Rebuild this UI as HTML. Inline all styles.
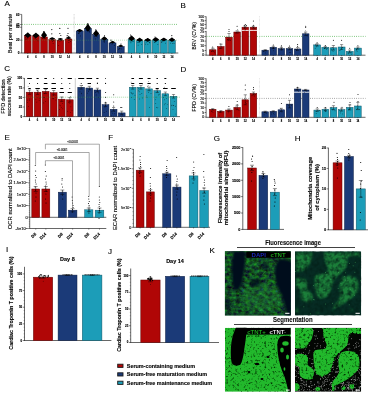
<!DOCTYPE html>
<html><head><meta charset="utf-8"><title>Figure</title>
<style>html,body{margin:0;padding:0;background:#fff}svg{display:block}text{font-family:"Liberation Sans",sans-serif;stroke:#000;stroke-width:.12px}</style>
</head><body>
<svg width="370" height="393" viewBox="0 0 370 393">
<rect width="370" height="393" fill="#fff"/>
<text x="4.4" y="6.3" font-size="8" text-anchor="start" font-weight="normal" fill="#000" >A</text>
<text x="12.2" y="33.6" font-size="5.6" text-anchor="middle" font-weight="normal" fill="#000" transform="rotate(-90 12.2 33.6)" >Beat per minute</text>
<line x1="21.7" y1="14.4" x2="21.7" y2="53.2" stroke="#000" stroke-width="0.6" />
<line x1="21.7" y1="53" x2="178.3" y2="53" stroke="#000" stroke-width="0.6" />
<line x1="20.1" y1="14.4" x2="21.7" y2="14.4" stroke="#000" stroke-width="0.5" />
<text x="19.5" y="15.5" font-size="3.1" text-anchor="end" font-weight="bold" fill="#000" >60</text>
<line x1="20.1" y1="24.5" x2="21.7" y2="24.5" stroke="#000" stroke-width="0.5" />
<text x="19.5" y="25.6" font-size="3.1" text-anchor="end" font-weight="bold" fill="#000" >45</text>
<line x1="20.1" y1="27.27" x2="21.7" y2="27.27" stroke="#000" stroke-width="0.5" />
<text x="19.5" y="28.37" font-size="3.1" text-anchor="end" font-weight="bold" fill="#000" >40</text>
<line x1="20.1" y1="40.13" x2="21.7" y2="40.13" stroke="#000" stroke-width="0.5" />
<text x="19.5" y="41.23" font-size="3.1" text-anchor="end" font-weight="bold" fill="#000" >20</text>
<line x1="20.1" y1="53" x2="21.7" y2="53" stroke="#000" stroke-width="0.5" />
<text x="19.5" y="54.1" font-size="3.1" text-anchor="end" font-weight="bold" fill="#000" >0</text>
<rect x="24.4" y="35.6" width="6.7" height="17.4" fill="#b00606" stroke="#5e0000" stroke-width="0.5"/>
<text x="27.75" y="57.6" font-size="2.6" text-anchor="middle" font-weight="bold" fill="#000" >4</text>
<line x1="27.75" y1="53" x2="27.75" y2="54" stroke="#000" stroke-width="0.4" />
<rect x="32.55" y="35.8" width="6.7" height="17.2" fill="#b00606" stroke="#5e0000" stroke-width="0.5"/>
<text x="35.9" y="57.6" font-size="2.6" text-anchor="middle" font-weight="bold" fill="#000" >6</text>
<line x1="35.9" y1="53" x2="35.9" y2="54" stroke="#000" stroke-width="0.4" />
<rect x="40.7" y="37" width="6.7" height="16" fill="#b00606" stroke="#5e0000" stroke-width="0.5"/>
<text x="44.05" y="57.6" font-size="2.6" text-anchor="middle" font-weight="bold" fill="#000" >8</text>
<line x1="44.05" y1="53" x2="44.05" y2="54" stroke="#000" stroke-width="0.4" />
<rect x="48.85" y="39.6" width="6.7" height="13.4" fill="#b00606" stroke="#5e0000" stroke-width="0.5"/>
<text x="52.2" y="57.6" font-size="2.6" text-anchor="middle" font-weight="bold" fill="#000" >10</text>
<line x1="52.2" y1="53" x2="52.2" y2="54" stroke="#000" stroke-width="0.4" />
<rect x="57" y="40.2" width="6.7" height="12.8" fill="#b00606" stroke="#5e0000" stroke-width="0.5"/>
<text x="60.35" y="57.6" font-size="2.6" text-anchor="middle" font-weight="bold" fill="#000" >12</text>
<line x1="60.35" y1="53" x2="60.35" y2="54" stroke="#000" stroke-width="0.4" />
<rect x="65.15" y="39" width="6.7" height="14" fill="#b00606" stroke="#5e0000" stroke-width="0.5"/>
<text x="68.5" y="57.6" font-size="2.6" text-anchor="middle" font-weight="bold" fill="#000" >14</text>
<line x1="68.5" y1="53" x2="68.5" y2="54" stroke="#000" stroke-width="0.4" />
<rect x="76.2" y="31" width="7" height="22" fill="#1b3a78" stroke="#0c1c40" stroke-width="0.5"/>
<text x="79.7" y="57.6" font-size="2.6" text-anchor="middle" font-weight="bold" fill="#000" >4</text>
<line x1="79.7" y1="53" x2="79.7" y2="54" stroke="#000" stroke-width="0.4" />
<rect x="84.4" y="28.5" width="7" height="24.5" fill="#1b3a78" stroke="#0c1c40" stroke-width="0.5"/>
<text x="87.9" y="57.6" font-size="2.6" text-anchor="middle" font-weight="bold" fill="#000" >6</text>
<line x1="87.9" y1="53" x2="87.9" y2="54" stroke="#000" stroke-width="0.4" />
<rect x="92.6" y="34.6" width="7" height="18.4" fill="#1b3a78" stroke="#0c1c40" stroke-width="0.5"/>
<text x="96.1" y="57.6" font-size="2.6" text-anchor="middle" font-weight="bold" fill="#000" >8</text>
<line x1="96.1" y1="53" x2="96.1" y2="54" stroke="#000" stroke-width="0.4" />
<rect x="100.8" y="39.2" width="7" height="13.8" fill="#1b3a78" stroke="#0c1c40" stroke-width="0.5"/>
<text x="104.3" y="57.6" font-size="2.6" text-anchor="middle" font-weight="bold" fill="#000" >10</text>
<line x1="104.3" y1="53" x2="104.3" y2="54" stroke="#000" stroke-width="0.4" />
<rect x="109" y="42.9" width="7" height="10.1" fill="#1b3a78" stroke="#0c1c40" stroke-width="0.5"/>
<text x="112.5" y="57.6" font-size="2.6" text-anchor="middle" font-weight="bold" fill="#000" >12</text>
<line x1="112.5" y1="53" x2="112.5" y2="54" stroke="#000" stroke-width="0.4" />
<rect x="117.2" y="46.5" width="7" height="6.5" fill="#1b3a78" stroke="#0c1c40" stroke-width="0.5"/>
<text x="120.7" y="57.6" font-size="2.6" text-anchor="middle" font-weight="bold" fill="#000" >14</text>
<line x1="120.7" y1="53" x2="120.7" y2="54" stroke="#000" stroke-width="0.4" />
<rect x="128.1" y="39.4" width="6.9" height="13.6" fill="#1c9db8" stroke="#0e5566" stroke-width="0.5"/>
<text x="131.55" y="57.6" font-size="2.6" text-anchor="middle" font-weight="bold" fill="#000" >4</text>
<line x1="131.55" y1="53" x2="131.55" y2="54" stroke="#000" stroke-width="0.4" />
<rect x="136.17" y="40.8" width="6.9" height="12.2" fill="#1c9db8" stroke="#0e5566" stroke-width="0.5"/>
<text x="139.62" y="57.6" font-size="2.6" text-anchor="middle" font-weight="bold" fill="#000" >6</text>
<line x1="139.62" y1="53" x2="139.62" y2="54" stroke="#000" stroke-width="0.4" />
<rect x="144.24" y="40.5" width="6.9" height="12.5" fill="#1c9db8" stroke="#0e5566" stroke-width="0.5"/>
<text x="147.69" y="57.6" font-size="2.6" text-anchor="middle" font-weight="bold" fill="#000" >8</text>
<line x1="147.69" y1="53" x2="147.69" y2="54" stroke="#000" stroke-width="0.4" />
<rect x="152.31" y="40" width="6.9" height="13" fill="#1c9db8" stroke="#0e5566" stroke-width="0.5"/>
<text x="155.76" y="57.6" font-size="2.6" text-anchor="middle" font-weight="bold" fill="#000" >10</text>
<line x1="155.76" y1="53" x2="155.76" y2="54" stroke="#000" stroke-width="0.4" />
<rect x="160.38" y="40" width="6.9" height="13" fill="#1c9db8" stroke="#0e5566" stroke-width="0.5"/>
<text x="163.83" y="57.6" font-size="2.6" text-anchor="middle" font-weight="bold" fill="#000" >12</text>
<line x1="163.83" y1="53" x2="163.83" y2="54" stroke="#000" stroke-width="0.4" />
<rect x="168.45" y="40.5" width="6.9" height="12.5" fill="#1c9db8" stroke="#0e5566" stroke-width="0.5"/>
<text x="171.9" y="57.6" font-size="2.6" text-anchor="middle" font-weight="bold" fill="#000" >14</text>
<line x1="171.9" y1="53" x2="171.9" y2="54" stroke="#000" stroke-width="0.4" />
<line x1="22.2" y1="24.4" x2="178.3" y2="24.4" stroke="#3caa3c" stroke-width="0.8" stroke-dasharray="0.8 1.4"/>
<line x1="22.2" y1="40.2" x2="178.3" y2="40.2" stroke="#3caa3c" stroke-width="0.6" stroke-dasharray="0.7 1.3" opacity="0.75"/>
<line x1="74.1" y1="14.4" x2="74.1" y2="53" stroke="#999" stroke-width="0.6" stroke-dasharray="0.6 0.7"/>
<path d="M24.65 35.3 L27.45 32.5 L28.05 32.5 L30.85 35.3 L28.15 37.68 L27.35 37.68Z" fill="#000"/>
<ellipse cx="27.75" cy="35.3" rx="3.1" ry="1.18" fill="#000"/>
<circle cx="26.97" cy="39.07" r="0.4" fill="#000"/>
<circle cx="25.87" cy="39.57" r="0.4" fill="#000"/>
<circle cx="27.91" cy="37.46" r="0.4" fill="#000"/>
<circle cx="27.78" cy="38.19" r="0.4" fill="#000"/>
<circle cx="25.71" cy="37.28" r="0.4" fill="#000"/>
<circle cx="25.95" cy="38.03" r="0.4" fill="#000"/>
<path d="M32.8 35.5 L35.6 32.7 L36.2 32.7 L39 35.5 L36.3 37.88 L35.5 37.88Z" fill="#000"/>
<ellipse cx="35.9" cy="35.5" rx="3.1" ry="1.18" fill="#000"/>
<circle cx="35.57" cy="38.36" r="0.4" fill="#000"/>
<circle cx="34.68" cy="37.32" r="0.4" fill="#000"/>
<circle cx="36.46" cy="39.86" r="0.4" fill="#000"/>
<circle cx="35.45" cy="37.36" r="0.4" fill="#000"/>
<circle cx="38" cy="40.84" r="0.4" fill="#000"/>
<circle cx="34.97" cy="38.86" r="0.4" fill="#000"/>
<path d="M41.35 35.2 L43.75 31.2 L44.35 31.2 L46.75 35.2 L44.45 38.6 L43.65 38.6Z" fill="#000"/>
<ellipse cx="44.05" cy="35.2" rx="2.7" ry="1.68" fill="#000"/>
<circle cx="42.48" cy="38.65" r="0.4" fill="#000"/>
<circle cx="45.44" cy="38.57" r="0.4" fill="#000"/>
<circle cx="42.65" cy="35.83" r="0.4" fill="#000"/>
<circle cx="43.49" cy="36.65" r="0.4" fill="#000"/>
<circle cx="44.26" cy="38.19" r="0.4" fill="#000"/>
<circle cx="42.76" cy="37.9" r="0.4" fill="#000"/>
<path d="M49.4 38.6 L51.9 37.3 L52.5 37.3 L55 38.6 L52.6 39.7 L51.8 39.7Z" fill="#000"/>
<ellipse cx="52.2" cy="38.6" rx="2.8" ry="0.55" fill="#000"/>
<circle cx="52.99" cy="39.93" r="0.4" fill="#000"/>
<circle cx="52.58" cy="41.67" r="0.4" fill="#000"/>
<circle cx="51.99" cy="40.28" r="0.4" fill="#000"/>
<circle cx="53.08" cy="43.64" r="0.4" fill="#000"/>
<circle cx="51.07" cy="39.47" r="0.4" fill="#000"/>
<circle cx="53.85" cy="40.27" r="0.4" fill="#000"/>
<path d="M57.75 39 L60.05 37.9 L60.65 37.9 L62.95 39 L60.75 39.94 L59.95 39.94Z" fill="#000"/>
<ellipse cx="60.35" cy="39" rx="2.6" ry="0.5" fill="#000"/>
<circle cx="61.36" cy="40.51" r="0.4" fill="#000"/>
<circle cx="58.67" cy="45.58" r="0.4" fill="#000"/>
<circle cx="59.99" cy="41.54" r="0.4" fill="#000"/>
<circle cx="60.3" cy="40.64" r="0.4" fill="#000"/>
<circle cx="58.32" cy="40.25" r="0.4" fill="#000"/>
<circle cx="60.67" cy="39.28" r="0.4" fill="#000"/>
<path d="M65.9 38 L68.2 36.8 L68.8 36.8 L71.1 38 L68.9 39.02 L68.1 39.02Z" fill="#000"/>
<ellipse cx="68.5" cy="38" rx="2.6" ry="0.5" fill="#000"/>
<circle cx="70.15" cy="39.6" r="0.4" fill="#000"/>
<circle cx="68.92" cy="42.63" r="0.4" fill="#000"/>
<circle cx="68.85" cy="37.74" r="0.4" fill="#000"/>
<circle cx="70.46" cy="41.28" r="0.4" fill="#000"/>
<circle cx="68.39" cy="40.23" r="0.4" fill="#000"/>
<circle cx="69.39" cy="40.04" r="0.4" fill="#000"/>
<circle cx="51.8" cy="29.6" r="0.58" fill="#000"/>
<circle cx="51.8" cy="33.8" r="0.58" fill="#000"/>
<circle cx="59.8" cy="28.4" r="0.58" fill="#000"/>
<circle cx="59.8" cy="33.5" r="0.58" fill="#000"/>
<circle cx="60.8" cy="35.5" r="0.58" fill="#000"/>
<circle cx="68" cy="28.3" r="0.58" fill="#000"/>
<circle cx="68" cy="33.5" r="0.58" fill="#000"/>
<circle cx="67.2" cy="35.7" r="0.58" fill="#000"/>
<circle cx="68.8" cy="36.4" r="0.58" fill="#000"/>
<circle cx="43.8" cy="31.5" r="0.58" fill="#000"/>
<path d="M76.7 30.6 L79.4 29 L80 29 L82.7 30.6 L80.1 31.96 L79.3 31.96Z" fill="#000"/>
<ellipse cx="79.7" cy="30.6" rx="3" ry="0.67" fill="#000"/>
<circle cx="80.35" cy="35.88" r="0.4" fill="#000"/>
<circle cx="78.75" cy="32.98" r="0.4" fill="#000"/>
<circle cx="79.2" cy="32.94" r="0.4" fill="#000"/>
<circle cx="79.53" cy="32.82" r="0.4" fill="#000"/>
<circle cx="78.24" cy="33.49" r="0.4" fill="#000"/>
<path d="M85.1 28 L87.6 23.8 L88.2 23.8 L90.7 28 L88.3 31.57 L87.5 31.57Z" fill="#000"/>
<ellipse cx="87.9" cy="28" rx="2.8" ry="1.76" fill="#000"/>
<circle cx="89.08" cy="30.85" r="0.4" fill="#000"/>
<circle cx="86.27" cy="30.52" r="0.4" fill="#000"/>
<circle cx="89.53" cy="31.99" r="0.4" fill="#000"/>
<circle cx="86.05" cy="28.7" r="0.4" fill="#000"/>
<circle cx="89.59" cy="31.09" r="0.4" fill="#000"/>
<path d="M93.3 33.6 L95.8 30 L96.4 30 L98.9 33.6 L96.5 36.66 L95.7 36.66Z" fill="#000"/>
<ellipse cx="96.1" cy="33.6" rx="2.8" ry="1.51" fill="#000"/>
<circle cx="97.5" cy="36.9" r="0.4" fill="#000"/>
<circle cx="95.73" cy="35.19" r="0.4" fill="#000"/>
<circle cx="95.48" cy="38.92" r="0.4" fill="#000"/>
<circle cx="94.56" cy="33.59" r="0.4" fill="#000"/>
<circle cx="94.68" cy="36.22" r="0.4" fill="#000"/>
<path d="M101.5 38.6 L104 36.4 L104.6 36.4 L107.1 38.6 L104.7 40.47 L103.9 40.47Z" fill="#000"/>
<ellipse cx="104.3" cy="38.6" rx="2.8" ry="0.92" fill="#000"/>
<circle cx="104.23" cy="42.19" r="0.4" fill="#000"/>
<circle cx="104.69" cy="41.09" r="0.4" fill="#000"/>
<circle cx="103.94" cy="41.24" r="0.4" fill="#000"/>
<circle cx="103.72" cy="37.71" r="0.4" fill="#000"/>
<circle cx="105.14" cy="39.6" r="0.4" fill="#000"/>
<path d="M109.9 42.2 L112.2 40.9 L112.8 40.9 L115.1 42.2 L112.9 43.3 L112.1 43.3Z" fill="#000"/>
<ellipse cx="112.5" cy="42.2" rx="2.6" ry="0.55" fill="#000"/>
<circle cx="112.57" cy="43.03" r="0.4" fill="#000"/>
<circle cx="110.54" cy="43.18" r="0.4" fill="#000"/>
<circle cx="114.26" cy="45.27" r="0.4" fill="#000"/>
<circle cx="113.81" cy="41.7" r="0.4" fill="#000"/>
<circle cx="112.03" cy="44.14" r="0.4" fill="#000"/>
<path d="M118.3 46 L120.4 44.8 L121 44.8 L123.1 46 L121.1 47.02 L120.3 47.02Z" fill="#000"/>
<ellipse cx="120.7" cy="46" rx="2.4" ry="0.5" fill="#000"/>
<circle cx="121.29" cy="48.92" r="0.4" fill="#000"/>
<circle cx="118.77" cy="49.44" r="0.4" fill="#000"/>
<circle cx="119.21" cy="48.92" r="0.4" fill="#000"/>
<circle cx="120" cy="48.53" r="0.4" fill="#000"/>
<circle cx="119.17" cy="48.51" r="0.4" fill="#000"/>
<circle cx="87.8" cy="23.5" r="0.58" fill="#000"/>
<circle cx="87.8" cy="25.6" r="0.58" fill="#000"/>
<circle cx="95.8" cy="29.8" r="0.58" fill="#000"/>
<circle cx="104.5" cy="35.8" r="0.58" fill="#000"/>
<circle cx="111" cy="40.2" r="0.58" fill="#000"/>
<circle cx="121" cy="44" r="0.58" fill="#000"/>
<path d="M128.45 38.4 L131.25 35.4 L131.85 35.4 L134.65 38.4 L131.95 40.95 L131.15 40.95Z" fill="#000"/>
<ellipse cx="131.55" cy="38.4" rx="3.1" ry="1.26" fill="#000"/>
<circle cx="129.8" cy="40.81" r="0.4" fill="#000"/>
<circle cx="133.2" cy="41.22" r="0.4" fill="#000"/>
<circle cx="132.05" cy="41.59" r="0.4" fill="#000"/>
<circle cx="130.88" cy="41.8" r="0.4" fill="#000"/>
<circle cx="130.95" cy="42.81" r="0.4" fill="#000"/>
<path d="M136.52 40 L139.32 37.8 L139.92 37.8 L142.72 40 L140.02 41.87 L139.22 41.87Z" fill="#000"/>
<ellipse cx="139.62" cy="40" rx="3.1" ry="0.92" fill="#000"/>
<circle cx="141.79" cy="44.36" r="0.4" fill="#000"/>
<circle cx="139.47" cy="42.05" r="0.4" fill="#000"/>
<circle cx="137.87" cy="42.66" r="0.4" fill="#000"/>
<circle cx="138.93" cy="42.37" r="0.4" fill="#000"/>
<circle cx="138.13" cy="45.03" r="0.4" fill="#000"/>
<path d="M144.69 40 L147.39 37.9 L147.99 37.9 L150.69 40 L148.09 41.78 L147.29 41.78Z" fill="#000"/>
<ellipse cx="147.69" cy="40" rx="3" ry="0.88" fill="#000"/>
<circle cx="145.59" cy="44.12" r="0.4" fill="#000"/>
<circle cx="146.14" cy="42.12" r="0.4" fill="#000"/>
<circle cx="147.88" cy="44.17" r="0.4" fill="#000"/>
<circle cx="149.8" cy="42.87" r="0.4" fill="#000"/>
<circle cx="149.29" cy="42.26" r="0.4" fill="#000"/>
<path d="M152.66 39.6 L155.46 37.2 L156.06 37.2 L158.86 39.6 L156.16 41.64 L155.36 41.64Z" fill="#000"/>
<ellipse cx="155.76" cy="39.6" rx="3.1" ry="1.01" fill="#000"/>
<circle cx="155.17" cy="41.25" r="0.4" fill="#000"/>
<circle cx="154.29" cy="42.42" r="0.4" fill="#000"/>
<circle cx="156.99" cy="40.61" r="0.4" fill="#000"/>
<circle cx="155.01" cy="42.6" r="0.4" fill="#000"/>
<circle cx="157.89" cy="44.54" r="0.4" fill="#000"/>
<path d="M160.83 39.6 L163.53 37.8 L164.13 37.8 L166.83 39.6 L164.23 41.13 L163.43 41.13Z" fill="#000"/>
<ellipse cx="163.83" cy="39.6" rx="3" ry="0.76" fill="#000"/>
<circle cx="165.38" cy="43.03" r="0.4" fill="#000"/>
<circle cx="164.89" cy="39.95" r="0.4" fill="#000"/>
<circle cx="162.63" cy="40.99" r="0.4" fill="#000"/>
<circle cx="161.76" cy="42.07" r="0.4" fill="#000"/>
<circle cx="161.75" cy="42.01" r="0.4" fill="#000"/>
<path d="M168.9 39.8 L171.6 37.6 L172.2 37.6 L174.9 39.8 L172.3 41.67 L171.5 41.67Z" fill="#000"/>
<ellipse cx="171.9" cy="39.8" rx="3" ry="0.92" fill="#000"/>
<circle cx="172.75" cy="43.39" r="0.4" fill="#000"/>
<circle cx="173.91" cy="39.51" r="0.4" fill="#000"/>
<circle cx="174.05" cy="43.4" r="0.4" fill="#000"/>
<circle cx="173.9" cy="41.79" r="0.4" fill="#000"/>
<circle cx="170.7" cy="43.09" r="0.4" fill="#000"/>
<circle cx="171.8" cy="35.6" r="0.58" fill="#000"/>
<circle cx="130.5" cy="35" r="0.58" fill="#000"/>
<circle cx="155" cy="37" r="0.58" fill="#000"/>
<text x="180.6" y="7.6" font-size="8" text-anchor="start" font-weight="normal" fill="#000" >B</text>
<text x="195.8" y="35.8" font-size="5.3" text-anchor="middle" font-weight="normal" fill="#000" transform="rotate(-90 195.8 35.8)" >BRV (CV%)</text>
<line x1="206.1" y1="16.4" x2="206.1" y2="29.2" stroke="#000" stroke-width="0.6" />
<line x1="206.1" y1="30.9" x2="206.1" y2="55.4" stroke="#000" stroke-width="0.6" />
<line x1="206.1" y1="55.2" x2="365.5" y2="55.2" stroke="#000" stroke-width="0.6" />
<line x1="204.6" y1="16.7" x2="206.1" y2="16.7" stroke="#000" stroke-width="0.5" />
<text x="204.1" y="17.9" font-size="3.5" text-anchor="end" font-weight="normal" fill="#000" >100</text>
<line x1="204.6" y1="20.6" x2="206.1" y2="20.6" stroke="#000" stroke-width="0.5" />
<text x="204.1" y="21.8" font-size="3.5" text-anchor="end" font-weight="normal" fill="#000" >75</text>
<line x1="204.6" y1="24.5" x2="206.1" y2="24.5" stroke="#000" stroke-width="0.5" />
<text x="204.1" y="25.7" font-size="3.5" text-anchor="end" font-weight="normal" fill="#000" >50</text>
<line x1="204.6" y1="28.3" x2="206.1" y2="28.3" stroke="#000" stroke-width="0.5" />
<text x="204.1" y="29.5" font-size="3.5" text-anchor="end" font-weight="normal" fill="#000" >25</text>
<line x1="204.6" y1="31.6" x2="206.1" y2="31.6" stroke="#000" stroke-width="0.5" />
<text x="204.1" y="32.8" font-size="3.5" text-anchor="end" font-weight="normal" fill="#000" >25</text>
<line x1="204.6" y1="36.5" x2="206.1" y2="36.5" stroke="#000" stroke-width="0.5" />
<text x="204.1" y="37.7" font-size="3.5" text-anchor="end" font-weight="normal" fill="#000" >20</text>
<line x1="204.6" y1="41.1" x2="206.1" y2="41.1" stroke="#000" stroke-width="0.5" />
<text x="204.1" y="42.3" font-size="3.5" text-anchor="end" font-weight="normal" fill="#000" >15</text>
<line x1="204.6" y1="45.7" x2="206.1" y2="45.7" stroke="#000" stroke-width="0.5" />
<text x="204.1" y="46.9" font-size="3.5" text-anchor="end" font-weight="normal" fill="#000" >10</text>
<line x1="204.6" y1="50.5" x2="206.1" y2="50.5" stroke="#000" stroke-width="0.5" />
<text x="204.1" y="51.7" font-size="3.5" text-anchor="end" font-weight="normal" fill="#000" >5</text>
<line x1="204.6" y1="55.1" x2="206.1" y2="55.1" stroke="#000" stroke-width="0.5" />
<text x="204.1" y="56.3" font-size="3.5" text-anchor="end" font-weight="normal" fill="#000" >0</text>
<line x1="206.6" y1="36.4" x2="365.5" y2="36.4" stroke="#3caa3c" stroke-width="0.8" stroke-dasharray="0.8 1.4"/>
<rect x="209.4" y="49.8" width="6.6" height="5.4" fill="#b00606" stroke="#5e0000" stroke-width="0.5"/>
<text x="212.7" y="59.9" font-size="2.6" text-anchor="middle" font-weight="bold" fill="#000" >4</text>
<line x1="212.7" y1="55.2" x2="212.7" y2="56.2" stroke="#000" stroke-width="0.4" />
<rect x="217.55" y="46.5" width="6.6" height="8.7" fill="#b00606" stroke="#5e0000" stroke-width="0.5"/>
<text x="220.85" y="59.9" font-size="2.6" text-anchor="middle" font-weight="bold" fill="#000" >6</text>
<line x1="220.85" y1="55.2" x2="220.85" y2="56.2" stroke="#000" stroke-width="0.4" />
<rect x="225.7" y="37.2" width="6.6" height="18" fill="#b00606" stroke="#5e0000" stroke-width="0.5"/>
<text x="229" y="59.9" font-size="2.6" text-anchor="middle" font-weight="bold" fill="#000" >8</text>
<line x1="229" y1="55.2" x2="229" y2="56.2" stroke="#000" stroke-width="0.4" />
<rect x="233.85" y="32" width="6.6" height="23.2" fill="#b00606" stroke="#5e0000" stroke-width="0.5"/>
<text x="237.15" y="59.9" font-size="2.6" text-anchor="middle" font-weight="bold" fill="#000" >10</text>
<line x1="237.15" y1="55.2" x2="237.15" y2="56.2" stroke="#000" stroke-width="0.4" />
<rect x="242" y="27.2" width="6.6" height="28" fill="#b00606" stroke="#5e0000" stroke-width="0.5"/>
<text x="245.3" y="59.9" font-size="2.6" text-anchor="middle" font-weight="bold" fill="#000" >12</text>
<line x1="245.3" y1="55.2" x2="245.3" y2="56.2" stroke="#000" stroke-width="0.4" />
<rect x="250.15" y="27.2" width="6.6" height="28" fill="#b00606" stroke="#5e0000" stroke-width="0.5"/>
<text x="253.45" y="59.9" font-size="2.6" text-anchor="middle" font-weight="bold" fill="#000" >14</text>
<line x1="253.45" y1="55.2" x2="253.45" y2="56.2" stroke="#000" stroke-width="0.4" />
<rect x="261.9" y="50.2" width="6.6" height="5" fill="#1b3a78" stroke="#0c1c40" stroke-width="0.5"/>
<text x="265.2" y="59.9" font-size="2.6" text-anchor="middle" font-weight="bold" fill="#000" >4</text>
<line x1="265.2" y1="55.2" x2="265.2" y2="56.2" stroke="#000" stroke-width="0.4" />
<rect x="270" y="47.3" width="6.6" height="7.9" fill="#1b3a78" stroke="#0c1c40" stroke-width="0.5"/>
<text x="273.3" y="59.9" font-size="2.6" text-anchor="middle" font-weight="bold" fill="#000" >6</text>
<line x1="273.3" y1="55.2" x2="273.3" y2="56.2" stroke="#000" stroke-width="0.4" />
<rect x="278.1" y="48.6" width="6.6" height="6.6" fill="#1b3a78" stroke="#0c1c40" stroke-width="0.5"/>
<text x="281.4" y="59.9" font-size="2.6" text-anchor="middle" font-weight="bold" fill="#000" >8</text>
<line x1="281.4" y1="55.2" x2="281.4" y2="56.2" stroke="#000" stroke-width="0.4" />
<rect x="286.2" y="48.6" width="6.6" height="6.6" fill="#1b3a78" stroke="#0c1c40" stroke-width="0.5"/>
<text x="289.5" y="59.9" font-size="2.6" text-anchor="middle" font-weight="bold" fill="#000" >10</text>
<line x1="289.5" y1="55.2" x2="289.5" y2="56.2" stroke="#000" stroke-width="0.4" />
<rect x="294.3" y="49" width="6.6" height="6.2" fill="#1b3a78" stroke="#0c1c40" stroke-width="0.5"/>
<text x="297.6" y="59.9" font-size="2.6" text-anchor="middle" font-weight="bold" fill="#000" >12</text>
<line x1="297.6" y1="55.2" x2="297.6" y2="56.2" stroke="#000" stroke-width="0.4" />
<rect x="302.4" y="33.8" width="6.6" height="21.4" fill="#1b3a78" stroke="#0c1c40" stroke-width="0.5"/>
<text x="305.7" y="59.9" font-size="2.6" text-anchor="middle" font-weight="bold" fill="#000" >14</text>
<line x1="305.7" y1="55.2" x2="305.7" y2="56.2" stroke="#000" stroke-width="0.4" />
<rect x="313.7" y="44.9" width="6.9" height="10.3" fill="#1c9db8" stroke="#0e5566" stroke-width="0.5"/>
<text x="317.15" y="59.9" font-size="2.6" text-anchor="middle" font-weight="bold" fill="#000" >4</text>
<line x1="317.15" y1="55.2" x2="317.15" y2="56.2" stroke="#000" stroke-width="0.4" />
<rect x="321.85" y="47.3" width="6.9" height="7.9" fill="#1c9db8" stroke="#0e5566" stroke-width="0.5"/>
<text x="325.3" y="59.9" font-size="2.6" text-anchor="middle" font-weight="bold" fill="#000" >6</text>
<line x1="325.3" y1="55.2" x2="325.3" y2="56.2" stroke="#000" stroke-width="0.4" />
<rect x="330" y="47.8" width="6.9" height="7.4" fill="#1c9db8" stroke="#0e5566" stroke-width="0.5"/>
<text x="333.45" y="59.9" font-size="2.6" text-anchor="middle" font-weight="bold" fill="#000" >8</text>
<line x1="333.45" y1="55.2" x2="333.45" y2="56.2" stroke="#000" stroke-width="0.4" />
<rect x="338.15" y="47" width="6.9" height="8.2" fill="#1c9db8" stroke="#0e5566" stroke-width="0.5"/>
<text x="341.6" y="59.9" font-size="2.6" text-anchor="middle" font-weight="bold" fill="#000" >10</text>
<line x1="341.6" y1="55.2" x2="341.6" y2="56.2" stroke="#000" stroke-width="0.4" />
<rect x="346.3" y="51.4" width="6.9" height="3.8" fill="#1c9db8" stroke="#0e5566" stroke-width="0.5"/>
<text x="349.75" y="59.9" font-size="2.6" text-anchor="middle" font-weight="bold" fill="#000" >12</text>
<line x1="349.75" y1="55.2" x2="349.75" y2="56.2" stroke="#000" stroke-width="0.4" />
<rect x="354.45" y="48.1" width="6.9" height="7.1" fill="#1c9db8" stroke="#0e5566" stroke-width="0.5"/>
<text x="357.9" y="59.9" font-size="2.6" text-anchor="middle" font-weight="bold" fill="#000" >14</text>
<line x1="357.9" y1="55.2" x2="357.9" y2="56.2" stroke="#000" stroke-width="0.4" />
<line x1="259.5" y1="16.4" x2="259.5" y2="55.2" stroke="#bbb" stroke-width="0.5" stroke-dasharray="0.6 0.7"/>
<line x1="241.6" y1="30.4" x2="248.8" y2="30.4" stroke="#fff" stroke-width="0.9" />
<line x1="249.8" y1="30.4" x2="257" y2="30.4" stroke="#fff" stroke-width="0.9" />
<line x1="212.7" y1="48.2" x2="212.7" y2="51.2" stroke="#000" stroke-width="0.4" />
<line x1="211.1" y1="48.2" x2="214.3" y2="48.2" stroke="#000" stroke-width="0.4" />
<line x1="211.1" y1="51.2" x2="214.3" y2="51.2" stroke="#000" stroke-width="0.4" />
<circle cx="211.49" cy="51.45" r="0.38" fill="#000"/>
<circle cx="214.3" cy="52.78" r="0.38" fill="#000"/>
<circle cx="214.06" cy="48.88" r="0.38" fill="#000"/>
<circle cx="213.9" cy="51.16" r="0.38" fill="#000"/>
<circle cx="211.04" cy="49.26" r="0.38" fill="#000"/>
<line x1="220.8" y1="44" x2="220.8" y2="48.5" stroke="#000" stroke-width="0.4" />
<line x1="219.2" y1="44" x2="222.4" y2="44" stroke="#000" stroke-width="0.4" />
<line x1="219.2" y1="48.5" x2="222.4" y2="48.5" stroke="#000" stroke-width="0.4" />
<circle cx="221.93" cy="44.85" r="0.38" fill="#000"/>
<circle cx="221.8" cy="46.58" r="0.38" fill="#000"/>
<circle cx="221.96" cy="47.57" r="0.38" fill="#000"/>
<circle cx="220.13" cy="48.62" r="0.38" fill="#000"/>
<circle cx="220.38" cy="43.9" r="0.38" fill="#000"/>
<line x1="229" y1="33.5" x2="229" y2="40" stroke="#000" stroke-width="0.4" />
<line x1="227.4" y1="33.5" x2="230.6" y2="33.5" stroke="#000" stroke-width="0.4" />
<line x1="227.4" y1="40" x2="230.6" y2="40" stroke="#000" stroke-width="0.4" />
<circle cx="228.61" cy="40.07" r="0.38" fill="#000"/>
<circle cx="227.68" cy="37.21" r="0.38" fill="#000"/>
<circle cx="227.51" cy="39.72" r="0.38" fill="#000"/>
<circle cx="230.23" cy="40.42" r="0.38" fill="#000"/>
<circle cx="227.58" cy="39.76" r="0.38" fill="#000"/>
<line x1="237.1" y1="30.8" x2="237.1" y2="33.2" stroke="#000" stroke-width="0.4" />
<line x1="235.5" y1="30.8" x2="238.7" y2="30.8" stroke="#000" stroke-width="0.4" />
<line x1="235.5" y1="33.2" x2="238.7" y2="33.2" stroke="#000" stroke-width="0.4" />
<circle cx="237.73" cy="29.72" r="0.38" fill="#000"/>
<circle cx="236.5" cy="32.49" r="0.38" fill="#000"/>
<circle cx="235.16" cy="32.98" r="0.38" fill="#000"/>
<circle cx="238.98" cy="32.19" r="0.38" fill="#000"/>
<circle cx="238.83" cy="31.82" r="0.38" fill="#000"/>
<line x1="245.3" y1="26.2" x2="245.3" y2="28.2" stroke="#000" stroke-width="0.4" />
<line x1="243.7" y1="26.2" x2="246.9" y2="26.2" stroke="#000" stroke-width="0.4" />
<line x1="243.7" y1="28.2" x2="246.9" y2="28.2" stroke="#000" stroke-width="0.4" />
<circle cx="245.04" cy="30.21" r="0.38" fill="#000"/>
<circle cx="244.14" cy="26.51" r="0.38" fill="#000"/>
<circle cx="244.31" cy="28.12" r="0.38" fill="#000"/>
<circle cx="245.65" cy="29.4" r="0.38" fill="#000"/>
<circle cx="244.34" cy="27.75" r="0.38" fill="#000"/>
<line x1="253.4" y1="26.2" x2="253.4" y2="28.2" stroke="#000" stroke-width="0.4" />
<line x1="251.8" y1="26.2" x2="255" y2="26.2" stroke="#000" stroke-width="0.4" />
<line x1="251.8" y1="28.2" x2="255" y2="28.2" stroke="#000" stroke-width="0.4" />
<circle cx="255.04" cy="28.76" r="0.38" fill="#000"/>
<circle cx="252.82" cy="26.61" r="0.38" fill="#000"/>
<circle cx="255.02" cy="28.88" r="0.38" fill="#000"/>
<circle cx="253.08" cy="29.84" r="0.38" fill="#000"/>
<circle cx="253.53" cy="27.58" r="0.38" fill="#000"/>
<line x1="265.2" y1="49.6" x2="265.2" y2="50.8" stroke="#000" stroke-width="0.4" />
<line x1="263.6" y1="49.6" x2="266.8" y2="49.6" stroke="#000" stroke-width="0.4" />
<line x1="263.6" y1="50.8" x2="266.8" y2="50.8" stroke="#000" stroke-width="0.4" />
<circle cx="265.29" cy="52.9" r="0.38" fill="#000"/>
<circle cx="263.93" cy="51.58" r="0.38" fill="#000"/>
<circle cx="263.22" cy="51.66" r="0.38" fill="#000"/>
<circle cx="265.09" cy="50.58" r="0.38" fill="#000"/>
<circle cx="266.1" cy="50.23" r="0.38" fill="#000"/>
<line x1="273.3" y1="46.3" x2="273.3" y2="48.3" stroke="#000" stroke-width="0.4" />
<line x1="271.7" y1="46.3" x2="274.9" y2="46.3" stroke="#000" stroke-width="0.4" />
<line x1="271.7" y1="48.3" x2="274.9" y2="48.3" stroke="#000" stroke-width="0.4" />
<circle cx="273.37" cy="48.07" r="0.38" fill="#000"/>
<circle cx="273.52" cy="48.64" r="0.38" fill="#000"/>
<circle cx="273.54" cy="47.85" r="0.38" fill="#000"/>
<circle cx="272.29" cy="48.09" r="0.38" fill="#000"/>
<circle cx="273.33" cy="50.87" r="0.38" fill="#000"/>
<line x1="281.4" y1="47.4" x2="281.4" y2="49.8" stroke="#000" stroke-width="0.4" />
<line x1="279.8" y1="47.4" x2="283" y2="47.4" stroke="#000" stroke-width="0.4" />
<line x1="279.8" y1="49.8" x2="283" y2="49.8" stroke="#000" stroke-width="0.4" />
<circle cx="281.65" cy="49.99" r="0.38" fill="#000"/>
<circle cx="281.17" cy="46.72" r="0.38" fill="#000"/>
<circle cx="281.85" cy="48.12" r="0.38" fill="#000"/>
<circle cx="282.17" cy="49.74" r="0.38" fill="#000"/>
<circle cx="281.21" cy="48.24" r="0.38" fill="#000"/>
<line x1="289.5" y1="47.4" x2="289.5" y2="49.8" stroke="#000" stroke-width="0.4" />
<line x1="287.9" y1="47.4" x2="291.1" y2="47.4" stroke="#000" stroke-width="0.4" />
<line x1="287.9" y1="49.8" x2="291.1" y2="49.8" stroke="#000" stroke-width="0.4" />
<circle cx="291.27" cy="49.47" r="0.38" fill="#000"/>
<circle cx="290.3" cy="52.19" r="0.38" fill="#000"/>
<circle cx="288.54" cy="47.46" r="0.38" fill="#000"/>
<circle cx="289.74" cy="52.31" r="0.38" fill="#000"/>
<circle cx="288.05" cy="48.86" r="0.38" fill="#000"/>
<line x1="297.6" y1="47.6" x2="297.6" y2="50.4" stroke="#000" stroke-width="0.4" />
<line x1="296" y1="47.6" x2="299.2" y2="47.6" stroke="#000" stroke-width="0.4" />
<line x1="296" y1="50.4" x2="299.2" y2="50.4" stroke="#000" stroke-width="0.4" />
<circle cx="296.09" cy="49.69" r="0.38" fill="#000"/>
<circle cx="296.56" cy="50.39" r="0.38" fill="#000"/>
<circle cx="295.89" cy="49.01" r="0.38" fill="#000"/>
<circle cx="299.19" cy="48.06" r="0.38" fill="#000"/>
<circle cx="296.22" cy="49.77" r="0.38" fill="#000"/>
<line x1="305.7" y1="32" x2="305.7" y2="35.6" stroke="#000" stroke-width="0.4" />
<line x1="304.1" y1="32" x2="307.3" y2="32" stroke="#000" stroke-width="0.4" />
<line x1="304.1" y1="35.6" x2="307.3" y2="35.6" stroke="#000" stroke-width="0.4" />
<circle cx="304.27" cy="32.99" r="0.38" fill="#000"/>
<circle cx="307.23" cy="35.97" r="0.38" fill="#000"/>
<circle cx="307.51" cy="34.8" r="0.38" fill="#000"/>
<circle cx="305.29" cy="30.77" r="0.38" fill="#000"/>
<circle cx="307.03" cy="35.34" r="0.38" fill="#000"/>
<line x1="317.1" y1="43.8" x2="317.1" y2="46" stroke="#000" stroke-width="0.4" />
<line x1="315.5" y1="43.8" x2="318.7" y2="43.8" stroke="#000" stroke-width="0.4" />
<line x1="315.5" y1="46" x2="318.7" y2="46" stroke="#000" stroke-width="0.4" />
<circle cx="315.75" cy="44.57" r="0.38" fill="#000"/>
<circle cx="316.46" cy="46.8" r="0.38" fill="#000"/>
<circle cx="315.88" cy="45.16" r="0.38" fill="#000"/>
<circle cx="315.18" cy="48.14" r="0.38" fill="#000"/>
<circle cx="317.32" cy="45.85" r="0.38" fill="#000"/>
<line x1="325.3" y1="46.5" x2="325.3" y2="48.1" stroke="#000" stroke-width="0.4" />
<line x1="323.7" y1="46.5" x2="326.9" y2="46.5" stroke="#000" stroke-width="0.4" />
<line x1="323.7" y1="48.1" x2="326.9" y2="48.1" stroke="#000" stroke-width="0.4" />
<circle cx="324.63" cy="48.6" r="0.38" fill="#000"/>
<circle cx="325.8" cy="47.99" r="0.38" fill="#000"/>
<circle cx="327.24" cy="48.46" r="0.38" fill="#000"/>
<circle cx="326.45" cy="49.15" r="0.38" fill="#000"/>
<circle cx="324.36" cy="48.38" r="0.38" fill="#000"/>
<line x1="333.4" y1="45.5" x2="333.4" y2="50" stroke="#000" stroke-width="0.4" />
<line x1="331.8" y1="45.5" x2="335" y2="45.5" stroke="#000" stroke-width="0.4" />
<line x1="331.8" y1="50" x2="335" y2="50" stroke="#000" stroke-width="0.4" />
<circle cx="331.56" cy="49.15" r="0.38" fill="#000"/>
<circle cx="331.92" cy="47.86" r="0.38" fill="#000"/>
<circle cx="333.09" cy="51.15" r="0.38" fill="#000"/>
<circle cx="332.43" cy="47.58" r="0.38" fill="#000"/>
<circle cx="332" cy="50.54" r="0.38" fill="#000"/>
<line x1="341.6" y1="44.6" x2="341.6" y2="49.4" stroke="#000" stroke-width="0.4" />
<line x1="340" y1="44.6" x2="343.2" y2="44.6" stroke="#000" stroke-width="0.4" />
<line x1="340" y1="49.4" x2="343.2" y2="49.4" stroke="#000" stroke-width="0.4" />
<circle cx="342.4" cy="47.31" r="0.38" fill="#000"/>
<circle cx="339.96" cy="50.2" r="0.38" fill="#000"/>
<circle cx="341.3" cy="48.96" r="0.38" fill="#000"/>
<circle cx="339.89" cy="50.04" r="0.38" fill="#000"/>
<circle cx="342.81" cy="47.45" r="0.38" fill="#000"/>
<line x1="349.7" y1="50" x2="349.7" y2="52.8" stroke="#000" stroke-width="0.4" />
<line x1="348.1" y1="50" x2="351.3" y2="50" stroke="#000" stroke-width="0.4" />
<line x1="348.1" y1="52.8" x2="351.3" y2="52.8" stroke="#000" stroke-width="0.4" />
<circle cx="348.03" cy="52.92" r="0.38" fill="#000"/>
<circle cx="351.15" cy="52.19" r="0.38" fill="#000"/>
<circle cx="349.52" cy="51.66" r="0.38" fill="#000"/>
<circle cx="351.41" cy="54.11" r="0.38" fill="#000"/>
<circle cx="348.77" cy="53.78" r="0.38" fill="#000"/>
<line x1="357.9" y1="47" x2="357.9" y2="49.2" stroke="#000" stroke-width="0.4" />
<line x1="356.3" y1="47" x2="359.5" y2="47" stroke="#000" stroke-width="0.4" />
<line x1="356.3" y1="49.2" x2="359.5" y2="49.2" stroke="#000" stroke-width="0.4" />
<circle cx="356.85" cy="50.54" r="0.38" fill="#000"/>
<circle cx="356.34" cy="49.54" r="0.38" fill="#000"/>
<circle cx="356.71" cy="49.68" r="0.38" fill="#000"/>
<circle cx="357.15" cy="48.5" r="0.38" fill="#000"/>
<circle cx="357.06" cy="51.52" r="0.38" fill="#000"/>
<circle cx="212.7" cy="46.9" r="0.52" fill="#000"/>
<circle cx="229" cy="29.6" r="0.52" fill="#000"/>
<circle cx="229" cy="31.6" r="0.52" fill="#000"/>
<circle cx="237.1" cy="26.2" r="0.52" fill="#000"/>
<circle cx="245.3" cy="24.4" r="0.52" fill="#000"/>
<circle cx="246.3" cy="25.4" r="0.52" fill="#000"/>
<circle cx="244.3" cy="25.5" r="0.52" fill="#000"/>
<circle cx="253.4" cy="21" r="0.52" fill="#000"/>
<circle cx="253.4" cy="25.3" r="0.52" fill="#000"/>
<circle cx="273.3" cy="44.9" r="0.52" fill="#000"/>
<circle cx="281.4" cy="45.8" r="0.52" fill="#000"/>
<circle cx="289.5" cy="46" r="0.52" fill="#000"/>
<circle cx="297.6" cy="44.6" r="0.52" fill="#000"/>
<circle cx="297.6" cy="46.2" r="0.52" fill="#000"/>
<circle cx="305.7" cy="26.3" r="0.52" fill="#000"/>
<circle cx="305.7" cy="27.6" r="0.52" fill="#000"/>
<circle cx="333.4" cy="40.2" r="0.52" fill="#000"/>
<circle cx="341.6" cy="40.2" r="0.52" fill="#000"/>
<circle cx="349.7" cy="48.3" r="0.52" fill="#000"/>
<circle cx="317.1" cy="42.8" r="0.52" fill="#000"/>
<circle cx="325.3" cy="45.6" r="0.52" fill="#000"/>
<circle cx="357.9" cy="45.8" r="0.52" fill="#000"/>
<text x="4.3" y="71.3" font-size="8" text-anchor="start" font-weight="normal" fill="#000" >C</text>
<text x="5.2" y="96.6" font-size="5.4" text-anchor="middle" font-weight="normal" fill="#000" transform="rotate(-90 5.2 96.6)" >FPD detection</text>
<text x="11.4" y="96.2" font-size="5.4" text-anchor="middle" font-weight="normal" fill="#000" transform="rotate(-90 11.4 96.2)" >success rate (%)</text>
<line x1="24.4" y1="78" x2="24.4" y2="116.8" stroke="#000" stroke-width="0.6" />
<line x1="24.4" y1="116.6" x2="180" y2="116.6" stroke="#000" stroke-width="0.6" />
<line x1="22.8" y1="78.3" x2="24.4" y2="78.3" stroke="#000" stroke-width="0.5" />
<text x="22.2" y="79.4" font-size="3.0" text-anchor="end" font-weight="bold" fill="#000" >100</text>
<line x1="22.8" y1="87.88" x2="24.4" y2="87.88" stroke="#000" stroke-width="0.5" />
<text x="22.2" y="88.97" font-size="3.0" text-anchor="end" font-weight="bold" fill="#000" >75</text>
<line x1="22.8" y1="97.45" x2="24.4" y2="97.45" stroke="#000" stroke-width="0.5" />
<text x="22.2" y="98.55" font-size="3.0" text-anchor="end" font-weight="bold" fill="#000" >50</text>
<line x1="22.8" y1="107.02" x2="24.4" y2="107.02" stroke="#000" stroke-width="0.5" />
<text x="22.2" y="108.12" font-size="3.0" text-anchor="end" font-weight="bold" fill="#000" >25</text>
<line x1="22.8" y1="116.6" x2="24.4" y2="116.6" stroke="#000" stroke-width="0.5" />
<text x="22.2" y="117.7" font-size="3.0" text-anchor="end" font-weight="bold" fill="#000" >0</text>
<rect x="26.2" y="92.2" width="6.7" height="24.4" fill="#b00606" stroke="#5e0000" stroke-width="0.5"/>
<text x="29.55" y="121.2" font-size="2.6" text-anchor="middle" font-weight="bold" fill="#000" >4</text>
<line x1="29.55" y1="116.6" x2="29.55" y2="117.6" stroke="#000" stroke-width="0.4" />
<rect x="34.25" y="92.2" width="6.7" height="24.4" fill="#b00606" stroke="#5e0000" stroke-width="0.5"/>
<text x="37.6" y="121.2" font-size="2.6" text-anchor="middle" font-weight="bold" fill="#000" >6</text>
<line x1="37.6" y1="116.6" x2="37.6" y2="117.6" stroke="#000" stroke-width="0.4" />
<rect x="42.3" y="91.4" width="6.7" height="25.2" fill="#b00606" stroke="#5e0000" stroke-width="0.5"/>
<text x="45.65" y="121.2" font-size="2.6" text-anchor="middle" font-weight="bold" fill="#000" >8</text>
<line x1="45.65" y1="116.6" x2="45.65" y2="117.6" stroke="#000" stroke-width="0.4" />
<rect x="50.35" y="92.7" width="6.7" height="23.9" fill="#b00606" stroke="#5e0000" stroke-width="0.5"/>
<text x="53.7" y="121.2" font-size="2.6" text-anchor="middle" font-weight="bold" fill="#000" >10</text>
<line x1="53.7" y1="116.6" x2="53.7" y2="117.6" stroke="#000" stroke-width="0.4" />
<rect x="58.4" y="99.2" width="6.7" height="17.4" fill="#b00606" stroke="#5e0000" stroke-width="0.5"/>
<text x="61.75" y="121.2" font-size="2.6" text-anchor="middle" font-weight="bold" fill="#000" >12</text>
<line x1="61.75" y1="116.6" x2="61.75" y2="117.6" stroke="#000" stroke-width="0.4" />
<rect x="66.45" y="99.8" width="6.7" height="16.8" fill="#b00606" stroke="#5e0000" stroke-width="0.5"/>
<text x="69.8" y="121.2" font-size="2.6" text-anchor="middle" font-weight="bold" fill="#000" >14</text>
<line x1="69.8" y1="116.6" x2="69.8" y2="117.6" stroke="#000" stroke-width="0.4" />
<rect x="77.8" y="87.3" width="6.8" height="29.3" fill="#1b3a78" stroke="#0c1c40" stroke-width="0.5"/>
<text x="81.2" y="121.2" font-size="2.6" text-anchor="middle" font-weight="bold" fill="#000" >4</text>
<line x1="81.2" y1="116.6" x2="81.2" y2="117.6" stroke="#000" stroke-width="0.4" />
<rect x="85.9" y="88.1" width="6.8" height="28.5" fill="#1b3a78" stroke="#0c1c40" stroke-width="0.5"/>
<text x="89.3" y="121.2" font-size="2.6" text-anchor="middle" font-weight="bold" fill="#000" >6</text>
<line x1="89.3" y1="116.6" x2="89.3" y2="117.6" stroke="#000" stroke-width="0.4" />
<rect x="94" y="90" width="6.8" height="26.6" fill="#1b3a78" stroke="#0c1c40" stroke-width="0.5"/>
<text x="97.4" y="121.2" font-size="2.6" text-anchor="middle" font-weight="bold" fill="#000" >8</text>
<line x1="97.4" y1="116.6" x2="97.4" y2="117.6" stroke="#000" stroke-width="0.4" />
<rect x="102.1" y="104.7" width="6.8" height="11.9" fill="#1b3a78" stroke="#0c1c40" stroke-width="0.5"/>
<text x="105.5" y="121.2" font-size="2.6" text-anchor="middle" font-weight="bold" fill="#000" >10</text>
<line x1="105.5" y1="116.6" x2="105.5" y2="117.6" stroke="#000" stroke-width="0.4" />
<rect x="110.2" y="109.3" width="6.8" height="7.3" fill="#1b3a78" stroke="#0c1c40" stroke-width="0.5"/>
<text x="113.6" y="121.2" font-size="2.6" text-anchor="middle" font-weight="bold" fill="#000" >12</text>
<line x1="113.6" y1="116.6" x2="113.6" y2="117.6" stroke="#000" stroke-width="0.4" />
<rect x="118.3" y="112.9" width="6.8" height="3.7" fill="#1b3a78" stroke="#0c1c40" stroke-width="0.5"/>
<text x="121.7" y="121.2" font-size="2.6" text-anchor="middle" font-weight="bold" fill="#000" >14</text>
<line x1="121.7" y1="116.6" x2="121.7" y2="117.6" stroke="#000" stroke-width="0.4" />
<rect x="129.4" y="87.3" width="6.7" height="29.3" fill="#1c9db8" stroke="#0e5566" stroke-width="0.5"/>
<text x="132.75" y="121.2" font-size="2.6" text-anchor="middle" font-weight="bold" fill="#000" >4</text>
<line x1="132.75" y1="116.6" x2="132.75" y2="117.6" stroke="#000" stroke-width="0.4" />
<rect x="137.55" y="87.3" width="6.7" height="29.3" fill="#1c9db8" stroke="#0e5566" stroke-width="0.5"/>
<text x="140.9" y="121.2" font-size="2.6" text-anchor="middle" font-weight="bold" fill="#000" >6</text>
<line x1="140.9" y1="116.6" x2="140.9" y2="117.6" stroke="#000" stroke-width="0.4" />
<rect x="145.7" y="88.9" width="6.7" height="27.7" fill="#1c9db8" stroke="#0e5566" stroke-width="0.5"/>
<text x="149.05" y="121.2" font-size="2.6" text-anchor="middle" font-weight="bold" fill="#000" >8</text>
<line x1="149.05" y1="116.6" x2="149.05" y2="117.6" stroke="#000" stroke-width="0.4" />
<rect x="153.85" y="90.7" width="6.7" height="25.9" fill="#1c9db8" stroke="#0e5566" stroke-width="0.5"/>
<text x="157.2" y="121.2" font-size="2.6" text-anchor="middle" font-weight="bold" fill="#000" >10</text>
<line x1="157.2" y1="116.6" x2="157.2" y2="117.6" stroke="#000" stroke-width="0.4" />
<rect x="162" y="93.8" width="6.7" height="22.8" fill="#1c9db8" stroke="#0e5566" stroke-width="0.5"/>
<text x="165.35" y="121.2" font-size="2.6" text-anchor="middle" font-weight="bold" fill="#000" >12</text>
<line x1="165.35" y1="116.6" x2="165.35" y2="117.6" stroke="#000" stroke-width="0.4" />
<rect x="170.15" y="96.3" width="6.7" height="20.3" fill="#1c9db8" stroke="#0e5566" stroke-width="0.5"/>
<text x="173.5" y="121.2" font-size="2.6" text-anchor="middle" font-weight="bold" fill="#000" >14</text>
<line x1="173.5" y1="116.6" x2="173.5" y2="117.6" stroke="#000" stroke-width="0.4" />
<line x1="24.9" y1="97.2" x2="180" y2="97.2" stroke="#3caa3c" stroke-width="0.6" stroke-dasharray="0.7 1.3"/>
<line x1="75.3" y1="78" x2="75.3" y2="116.6" stroke="#999" stroke-width="0.5" />
<line x1="27.25" y1="78.5" x2="31.85" y2="78.5" stroke="#000" stroke-width="1.0" />
<line x1="36.5" y1="78.5" x2="38.7" y2="78.5" stroke="#000" stroke-width="1.0" />
<line x1="44.35" y1="78.5" x2="46.95" y2="78.5" stroke="#000" stroke-width="1.0" />
<line x1="53.25" y1="78.5" x2="54.15" y2="78.5" stroke="#000" stroke-width="1.0" />
<line x1="61.3" y1="78.5" x2="62.2" y2="78.5" stroke="#000" stroke-width="1.0" />
<line x1="67.7" y1="78.5" x2="71.9" y2="78.5" stroke="#000" stroke-width="1.0" />
<line x1="78.2" y1="78.5" x2="84.2" y2="78.5" stroke="#000" stroke-width="1.0" />
<line x1="86.5" y1="78.5" x2="92.1" y2="78.5" stroke="#000" stroke-width="1.0" />
<line x1="96.3" y1="78.5" x2="98.5" y2="78.5" stroke="#000" stroke-width="1.0" />
<line x1="105.15" y1="78.5" x2="105.85" y2="78.5" stroke="#000" stroke-width="1.0" />
<line x1="131.45" y1="78.5" x2="134.05" y2="78.5" stroke="#000" stroke-width="1.0" />
<line x1="138.9" y1="78.5" x2="142.9" y2="78.5" stroke="#000" stroke-width="1.0" />
<line x1="147.55" y1="78.5" x2="150.55" y2="78.5" stroke="#000" stroke-width="1.0" />
<line x1="156.5" y1="78.5" x2="157.9" y2="78.5" stroke="#000" stroke-width="1.0" />
<line x1="164.35" y1="78.5" x2="166.35" y2="78.5" stroke="#000" stroke-width="1.0" />
<line x1="29.15" y1="83.5" x2="29.95" y2="83.5" stroke="#000" stroke-width="1.0" />
<line x1="37.15" y1="83.5" x2="38.05" y2="83.5" stroke="#000" stroke-width="1.0" />
<line x1="43.85" y1="83.5" x2="47.45" y2="83.5" stroke="#000" stroke-width="1.0" />
<line x1="51.5" y1="83.5" x2="55.9" y2="83.5" stroke="#000" stroke-width="1.0" />
<line x1="61.35" y1="83.5" x2="62.15" y2="83.5" stroke="#000" stroke-width="1.0" />
<line x1="69.4" y1="83.5" x2="70.2" y2="83.5" stroke="#000" stroke-width="1.0" />
<line x1="80.8" y1="83.5" x2="81.6" y2="83.5" stroke="#000" stroke-width="1.0" />
<line x1="87.6" y1="83.5" x2="91" y2="83.5" stroke="#000" stroke-width="1.0" />
<line x1="96.95" y1="83.5" x2="97.85" y2="83.5" stroke="#000" stroke-width="1.0" />
<line x1="105.1" y1="83.5" x2="105.9" y2="83.5" stroke="#000" stroke-width="1.0" />
<line x1="131.25" y1="83.5" x2="134.25" y2="83.5" stroke="#000" stroke-width="1.0" />
<line x1="139.1" y1="83.5" x2="142.7" y2="83.5" stroke="#000" stroke-width="1.0" />
<line x1="147.45" y1="83.5" x2="150.65" y2="83.5" stroke="#000" stroke-width="1.0" />
<line x1="156.7" y1="83.5" x2="157.7" y2="83.5" stroke="#000" stroke-width="1.0" />
<line x1="164.85" y1="83.5" x2="165.85" y2="83.5" stroke="#000" stroke-width="1.0" />
<line x1="28.35" y1="88.5" x2="30.75" y2="88.5" stroke="#000" stroke-width="1.0" />
<line x1="35.4" y1="88.5" x2="39.8" y2="88.5" stroke="#000" stroke-width="1.0" />
<line x1="43.35" y1="88.5" x2="47.95" y2="88.5" stroke="#000" stroke-width="1.0" />
<line x1="51.4" y1="88.5" x2="56" y2="88.5" stroke="#000" stroke-width="1.0" />
<line x1="60.25" y1="88.5" x2="63.25" y2="88.5" stroke="#000" stroke-width="1.0" />
<line x1="69.4" y1="88.5" x2="70.2" y2="88.5" stroke="#000" stroke-width="1.0" />
<line x1="155.7" y1="88.5" x2="158.7" y2="88.5" stroke="#000" stroke-width="1.0" />
<line x1="163.05" y1="88.5" x2="167.65" y2="88.5" stroke="#000" stroke-width="1.0" />
<line x1="171.2" y1="88.5" x2="175.8" y2="88.5" stroke="#000" stroke-width="1.0" />
<line x1="59.45" y1="92.5" x2="64.05" y2="92.5" stroke="#000" stroke-width="1.0" />
<line x1="67.7" y1="92.5" x2="71.9" y2="92.5" stroke="#000" stroke-width="1.0" />
<line x1="29.55" y1="90" x2="29.55" y2="94.4" stroke="#000" stroke-width="0.4" />
<line x1="27.95" y1="90" x2="31.15" y2="90" stroke="#000" stroke-width="0.4" />
<line x1="27.95" y1="94.4" x2="31.15" y2="94.4" stroke="#000" stroke-width="0.4" />
<circle cx="29.55" cy="100.22" r="0.36" fill="#000"/>
<circle cx="27.33" cy="102.35" r="0.36" fill="#000"/>
<circle cx="28.4" cy="106.29" r="0.36" fill="#000"/>
<circle cx="29.78" cy="98.98" r="0.36" fill="#000"/>
<circle cx="28.12" cy="86.67" r="0.36" fill="#000"/>
<circle cx="27.74" cy="100.04" r="0.36" fill="#000"/>
<circle cx="31.02" cy="92.88" r="0.36" fill="#000"/>
<line x1="37.6" y1="90" x2="37.6" y2="94.4" stroke="#000" stroke-width="0.4" />
<line x1="36" y1="90" x2="39.2" y2="90" stroke="#000" stroke-width="0.4" />
<line x1="36" y1="94.4" x2="39.2" y2="94.4" stroke="#000" stroke-width="0.4" />
<circle cx="39.14" cy="100.62" r="0.36" fill="#000"/>
<circle cx="37.11" cy="90.58" r="0.36" fill="#000"/>
<circle cx="39.82" cy="97.88" r="0.36" fill="#000"/>
<circle cx="36.88" cy="102.07" r="0.36" fill="#000"/>
<circle cx="38.23" cy="91.39" r="0.36" fill="#000"/>
<circle cx="37.16" cy="97.24" r="0.36" fill="#000"/>
<circle cx="35.9" cy="99.57" r="0.36" fill="#000"/>
<line x1="45.65" y1="89.2" x2="45.65" y2="93.6" stroke="#000" stroke-width="0.4" />
<line x1="44.05" y1="89.2" x2="47.25" y2="89.2" stroke="#000" stroke-width="0.4" />
<line x1="44.05" y1="93.6" x2="47.25" y2="93.6" stroke="#000" stroke-width="0.4" />
<circle cx="43.68" cy="97.18" r="0.36" fill="#000"/>
<circle cx="44.1" cy="93.56" r="0.36" fill="#000"/>
<circle cx="43.74" cy="102.89" r="0.36" fill="#000"/>
<circle cx="46.43" cy="88.91" r="0.36" fill="#000"/>
<circle cx="44.65" cy="97.6" r="0.36" fill="#000"/>
<circle cx="45.46" cy="101.56" r="0.36" fill="#000"/>
<circle cx="44.07" cy="93.72" r="0.36" fill="#000"/>
<line x1="53.7" y1="90.5" x2="53.7" y2="94.9" stroke="#000" stroke-width="0.4" />
<line x1="52.1" y1="90.5" x2="55.3" y2="90.5" stroke="#000" stroke-width="0.4" />
<line x1="52.1" y1="94.9" x2="55.3" y2="94.9" stroke="#000" stroke-width="0.4" />
<circle cx="55.82" cy="100" r="0.36" fill="#000"/>
<circle cx="55.87" cy="95.12" r="0.36" fill="#000"/>
<circle cx="55.84" cy="97.61" r="0.36" fill="#000"/>
<circle cx="52.82" cy="98.56" r="0.36" fill="#000"/>
<circle cx="53.16" cy="98.88" r="0.36" fill="#000"/>
<circle cx="53.58" cy="95.35" r="0.36" fill="#000"/>
<circle cx="53.72" cy="98.64" r="0.36" fill="#000"/>
<line x1="61.75" y1="97" x2="61.75" y2="101.4" stroke="#000" stroke-width="0.4" />
<line x1="60.15" y1="97" x2="63.35" y2="97" stroke="#000" stroke-width="0.4" />
<line x1="60.15" y1="101.4" x2="63.35" y2="101.4" stroke="#000" stroke-width="0.4" />
<circle cx="59.47" cy="105.01" r="0.36" fill="#000"/>
<circle cx="61.29" cy="107.36" r="0.36" fill="#000"/>
<circle cx="59.64" cy="109.42" r="0.36" fill="#000"/>
<circle cx="60.52" cy="105.8" r="0.36" fill="#000"/>
<circle cx="62.14" cy="97.01" r="0.36" fill="#000"/>
<circle cx="62.47" cy="103.68" r="0.36" fill="#000"/>
<circle cx="62.74" cy="108.8" r="0.36" fill="#000"/>
<line x1="69.8" y1="97.6" x2="69.8" y2="102" stroke="#000" stroke-width="0.4" />
<line x1="68.2" y1="97.6" x2="71.4" y2="97.6" stroke="#000" stroke-width="0.4" />
<line x1="68.2" y1="102" x2="71.4" y2="102" stroke="#000" stroke-width="0.4" />
<circle cx="69" cy="102.38" r="0.36" fill="#000"/>
<circle cx="72.03" cy="110.54" r="0.36" fill="#000"/>
<circle cx="70.46" cy="112.28" r="0.36" fill="#000"/>
<circle cx="67.7" cy="111.19" r="0.36" fill="#000"/>
<circle cx="70.39" cy="96.73" r="0.36" fill="#000"/>
<circle cx="70.88" cy="106.84" r="0.36" fill="#000"/>
<circle cx="69.91" cy="103.27" r="0.36" fill="#000"/>
<line x1="81.2" y1="85.5" x2="81.2" y2="89.1" stroke="#000" stroke-width="0.4" />
<line x1="79.6" y1="85.5" x2="82.8" y2="85.5" stroke="#000" stroke-width="0.4" />
<line x1="79.6" y1="89.1" x2="82.8" y2="89.1" stroke="#000" stroke-width="0.4" />
<circle cx="81.22" cy="93.06" r="0.36" fill="#000"/>
<circle cx="82.7" cy="85.63" r="0.36" fill="#000"/>
<circle cx="81.59" cy="93.85" r="0.36" fill="#000"/>
<circle cx="82.09" cy="87.46" r="0.36" fill="#000"/>
<circle cx="79.96" cy="91.87" r="0.36" fill="#000"/>
<line x1="89.3" y1="86.3" x2="89.3" y2="89.9" stroke="#000" stroke-width="0.4" />
<line x1="87.7" y1="86.3" x2="90.9" y2="86.3" stroke="#000" stroke-width="0.4" />
<line x1="87.7" y1="89.9" x2="90.9" y2="89.9" stroke="#000" stroke-width="0.4" />
<circle cx="88.66" cy="91.41" r="0.36" fill="#000"/>
<circle cx="87.48" cy="93.07" r="0.36" fill="#000"/>
<circle cx="89.89" cy="87.81" r="0.36" fill="#000"/>
<circle cx="89.88" cy="89.63" r="0.36" fill="#000"/>
<circle cx="87.02" cy="87.95" r="0.36" fill="#000"/>
<line x1="97.4" y1="88.2" x2="97.4" y2="91.8" stroke="#000" stroke-width="0.4" />
<line x1="95.8" y1="88.2" x2="99" y2="88.2" stroke="#000" stroke-width="0.4" />
<line x1="95.8" y1="91.8" x2="99" y2="91.8" stroke="#000" stroke-width="0.4" />
<circle cx="98.77" cy="92.96" r="0.36" fill="#000"/>
<circle cx="97.56" cy="89.45" r="0.36" fill="#000"/>
<circle cx="98.13" cy="97.49" r="0.36" fill="#000"/>
<circle cx="96.26" cy="94.98" r="0.36" fill="#000"/>
<circle cx="95.44" cy="92.53" r="0.36" fill="#000"/>
<line x1="105.5" y1="102.9" x2="105.5" y2="106.5" stroke="#000" stroke-width="0.4" />
<line x1="103.9" y1="102.9" x2="107.1" y2="102.9" stroke="#000" stroke-width="0.4" />
<line x1="103.9" y1="106.5" x2="107.1" y2="106.5" stroke="#000" stroke-width="0.4" />
<circle cx="104.14" cy="112.53" r="0.36" fill="#000"/>
<circle cx="106.6" cy="111.16" r="0.36" fill="#000"/>
<circle cx="104.96" cy="107.17" r="0.36" fill="#000"/>
<circle cx="105.4" cy="105.63" r="0.36" fill="#000"/>
<circle cx="106.04" cy="103.02" r="0.36" fill="#000"/>
<line x1="113.6" y1="107.5" x2="113.6" y2="111.1" stroke="#000" stroke-width="0.4" />
<line x1="112" y1="107.5" x2="115.2" y2="107.5" stroke="#000" stroke-width="0.4" />
<line x1="112" y1="111.1" x2="115.2" y2="111.1" stroke="#000" stroke-width="0.4" />
<circle cx="114.26" cy="113.8" r="0.36" fill="#000"/>
<circle cx="112.47" cy="113.09" r="0.36" fill="#000"/>
<circle cx="114.72" cy="111" r="0.36" fill="#000"/>
<circle cx="111.36" cy="115.96" r="0.36" fill="#000"/>
<circle cx="111.58" cy="111.77" r="0.36" fill="#000"/>
<line x1="121.7" y1="111.1" x2="121.7" y2="114.7" stroke="#000" stroke-width="0.4" />
<line x1="120.1" y1="111.1" x2="123.3" y2="111.1" stroke="#000" stroke-width="0.4" />
<line x1="120.1" y1="114.7" x2="123.3" y2="114.7" stroke="#000" stroke-width="0.4" />
<circle cx="122.58" cy="120.35" r="0.36" fill="#000"/>
<circle cx="122.51" cy="114.98" r="0.36" fill="#000"/>
<circle cx="121.54" cy="119.4" r="0.36" fill="#000"/>
<circle cx="121.55" cy="120.57" r="0.36" fill="#000"/>
<circle cx="120.32" cy="120.2" r="0.36" fill="#000"/>
<line x1="132.75" y1="85.5" x2="132.75" y2="89.1" stroke="#000" stroke-width="0.4" />
<line x1="131.15" y1="85.5" x2="134.35" y2="85.5" stroke="#000" stroke-width="0.4" />
<line x1="131.15" y1="89.1" x2="134.35" y2="89.1" stroke="#000" stroke-width="0.4" />
<circle cx="134.95" cy="95.17" r="0.36" fill="#000"/>
<circle cx="132.56" cy="93.93" r="0.36" fill="#000"/>
<circle cx="134.22" cy="99.65" r="0.36" fill="#000"/>
<circle cx="131.69" cy="93.21" r="0.36" fill="#000"/>
<circle cx="131.42" cy="97.54" r="0.36" fill="#000"/>
<circle cx="133.12" cy="93.15" r="0.36" fill="#000"/>
<circle cx="131.1" cy="82.09" r="0.36" fill="#000"/>
<circle cx="131.06" cy="92.44" r="0.36" fill="#000"/>
<line x1="140.9" y1="85.5" x2="140.9" y2="89.1" stroke="#000" stroke-width="0.4" />
<line x1="139.3" y1="85.5" x2="142.5" y2="85.5" stroke="#000" stroke-width="0.4" />
<line x1="139.3" y1="89.1" x2="142.5" y2="89.1" stroke="#000" stroke-width="0.4" />
<circle cx="142.37" cy="83.88" r="0.36" fill="#000"/>
<circle cx="141.84" cy="93.73" r="0.36" fill="#000"/>
<circle cx="139.66" cy="98.92" r="0.36" fill="#000"/>
<circle cx="138.71" cy="90.84" r="0.36" fill="#000"/>
<circle cx="138.62" cy="88.83" r="0.36" fill="#000"/>
<circle cx="139.99" cy="94.59" r="0.36" fill="#000"/>
<circle cx="139.25" cy="91.87" r="0.36" fill="#000"/>
<circle cx="142.47" cy="97.92" r="0.36" fill="#000"/>
<line x1="149.05" y1="87.1" x2="149.05" y2="90.7" stroke="#000" stroke-width="0.4" />
<line x1="147.45" y1="87.1" x2="150.65" y2="87.1" stroke="#000" stroke-width="0.4" />
<line x1="147.45" y1="90.7" x2="150.65" y2="90.7" stroke="#000" stroke-width="0.4" />
<circle cx="146.76" cy="95.94" r="0.36" fill="#000"/>
<circle cx="147.3" cy="86.34" r="0.36" fill="#000"/>
<circle cx="151.01" cy="93.42" r="0.36" fill="#000"/>
<circle cx="148.08" cy="85.42" r="0.36" fill="#000"/>
<circle cx="148.46" cy="81.57" r="0.36" fill="#000"/>
<circle cx="149.46" cy="107.32" r="0.36" fill="#000"/>
<circle cx="148.41" cy="92.29" r="0.36" fill="#000"/>
<circle cx="146.97" cy="97.65" r="0.36" fill="#000"/>
<line x1="157.2" y1="88.9" x2="157.2" y2="92.5" stroke="#000" stroke-width="0.4" />
<line x1="155.6" y1="88.9" x2="158.8" y2="88.9" stroke="#000" stroke-width="0.4" />
<line x1="155.6" y1="92.5" x2="158.8" y2="92.5" stroke="#000" stroke-width="0.4" />
<circle cx="155.37" cy="99.78" r="0.36" fill="#000"/>
<circle cx="159.2" cy="94.17" r="0.36" fill="#000"/>
<circle cx="156.05" cy="97.11" r="0.36" fill="#000"/>
<circle cx="155.77" cy="103.65" r="0.36" fill="#000"/>
<circle cx="156.62" cy="107.69" r="0.36" fill="#000"/>
<circle cx="158.64" cy="94.88" r="0.36" fill="#000"/>
<circle cx="157.8" cy="107.87" r="0.36" fill="#000"/>
<circle cx="157.43" cy="91.55" r="0.36" fill="#000"/>
<line x1="165.35" y1="92" x2="165.35" y2="95.6" stroke="#000" stroke-width="0.4" />
<line x1="163.75" y1="92" x2="166.95" y2="92" stroke="#000" stroke-width="0.4" />
<line x1="163.75" y1="95.6" x2="166.95" y2="95.6" stroke="#000" stroke-width="0.4" />
<circle cx="166.36" cy="108.53" r="0.36" fill="#000"/>
<circle cx="165.12" cy="103.28" r="0.36" fill="#000"/>
<circle cx="166.51" cy="98.27" r="0.36" fill="#000"/>
<circle cx="163.28" cy="97.56" r="0.36" fill="#000"/>
<circle cx="167.31" cy="104.74" r="0.36" fill="#000"/>
<circle cx="164.63" cy="104.85" r="0.36" fill="#000"/>
<circle cx="164.42" cy="99.86" r="0.36" fill="#000"/>
<circle cx="164.25" cy="87.15" r="0.36" fill="#000"/>
<line x1="173.5" y1="94.5" x2="173.5" y2="98.1" stroke="#000" stroke-width="0.4" />
<line x1="171.9" y1="94.5" x2="175.1" y2="94.5" stroke="#000" stroke-width="0.4" />
<line x1="171.9" y1="98.1" x2="175.1" y2="98.1" stroke="#000" stroke-width="0.4" />
<circle cx="174.22" cy="101.3" r="0.36" fill="#000"/>
<circle cx="173.01" cy="109.36" r="0.36" fill="#000"/>
<circle cx="171.97" cy="105.1" r="0.36" fill="#000"/>
<circle cx="175.37" cy="106.2" r="0.36" fill="#000"/>
<circle cx="173.49" cy="105.34" r="0.36" fill="#000"/>
<circle cx="175.78" cy="113.99" r="0.36" fill="#000"/>
<circle cx="173.27" cy="105.39" r="0.36" fill="#000"/>
<circle cx="171.62" cy="105.81" r="0.36" fill="#000"/>
<circle cx="105.6" cy="83.3" r="0.52" fill="#000"/>
<circle cx="105.6" cy="92.6" r="0.52" fill="#000"/>
<circle cx="105.6" cy="97.3" r="0.52" fill="#000"/>
<circle cx="105.6" cy="102.3" r="0.52" fill="#000"/>
<circle cx="113.7" cy="94.8" r="0.52" fill="#000"/>
<circle cx="113.7" cy="102" r="0.52" fill="#000"/>
<circle cx="113.7" cy="106" r="0.52" fill="#000"/>
<circle cx="121.8" cy="107.4" r="0.52" fill="#000"/>
<circle cx="120.8" cy="107.4" r="0.52" fill="#000"/>
<circle cx="97.4" cy="83" r="0.52" fill="#000"/>
<text x="180.6" y="71.8" font-size="8" text-anchor="start" font-weight="normal" fill="#000" >D</text>
<text x="195.8" y="97.8" font-size="5.3" text-anchor="middle" font-weight="normal" fill="#000" transform="rotate(-90 195.8 97.8)" >FPD (CV%)</text>
<line x1="206.1" y1="78.4" x2="206.1" y2="91.2" stroke="#000" stroke-width="0.6" />
<line x1="206.1" y1="92.9" x2="206.1" y2="117.5" stroke="#000" stroke-width="0.6" />
<line x1="206.1" y1="117.3" x2="365.5" y2="117.3" stroke="#000" stroke-width="0.6" />
<line x1="204.6" y1="78.7" x2="206.1" y2="78.7" stroke="#000" stroke-width="0.5" />
<text x="204.1" y="79.9" font-size="3.5" text-anchor="end" font-weight="normal" fill="#000" >100</text>
<line x1="204.6" y1="82.6" x2="206.1" y2="82.6" stroke="#000" stroke-width="0.5" />
<text x="204.1" y="83.8" font-size="3.5" text-anchor="end" font-weight="normal" fill="#000" >75</text>
<line x1="204.6" y1="86.5" x2="206.1" y2="86.5" stroke="#000" stroke-width="0.5" />
<text x="204.1" y="87.7" font-size="3.5" text-anchor="end" font-weight="normal" fill="#000" >50</text>
<line x1="204.6" y1="90.3" x2="206.1" y2="90.3" stroke="#000" stroke-width="0.5" />
<text x="204.1" y="91.5" font-size="3.5" text-anchor="end" font-weight="normal" fill="#000" >25</text>
<line x1="204.6" y1="93.6" x2="206.1" y2="93.6" stroke="#000" stroke-width="0.5" />
<text x="204.1" y="94.8" font-size="3.5" text-anchor="end" font-weight="normal" fill="#000" >25</text>
<line x1="204.6" y1="98.5" x2="206.1" y2="98.5" stroke="#000" stroke-width="0.5" />
<text x="204.1" y="99.7" font-size="3.5" text-anchor="end" font-weight="normal" fill="#000" >20</text>
<line x1="204.6" y1="103.1" x2="206.1" y2="103.1" stroke="#000" stroke-width="0.5" />
<text x="204.1" y="104.3" font-size="3.5" text-anchor="end" font-weight="normal" fill="#000" >15</text>
<line x1="204.6" y1="107.7" x2="206.1" y2="107.7" stroke="#000" stroke-width="0.5" />
<text x="204.1" y="108.9" font-size="3.5" text-anchor="end" font-weight="normal" fill="#000" >10</text>
<line x1="204.6" y1="112.5" x2="206.1" y2="112.5" stroke="#000" stroke-width="0.5" />
<text x="204.1" y="113.7" font-size="3.5" text-anchor="end" font-weight="normal" fill="#000" >5</text>
<line x1="204.6" y1="117.1" x2="206.1" y2="117.1" stroke="#000" stroke-width="0.5" />
<text x="204.1" y="118.3" font-size="3.5" text-anchor="end" font-weight="normal" fill="#000" >0</text>
<line x1="206.6" y1="98.4" x2="365.5" y2="98.4" stroke="#666" stroke-width="0.7" stroke-dasharray="0.8 1.4"/>
<rect x="209.4" y="109.3" width="6.6" height="8" fill="#b00606" stroke="#5e0000" stroke-width="0.5"/>
<text x="212.7" y="122" font-size="2.6" text-anchor="middle" font-weight="bold" fill="#000" >4</text>
<line x1="212.7" y1="117.3" x2="212.7" y2="118.3" stroke="#000" stroke-width="0.4" />
<rect x="217.55" y="111.3" width="6.6" height="6" fill="#b00606" stroke="#5e0000" stroke-width="0.5"/>
<text x="220.85" y="122" font-size="2.6" text-anchor="middle" font-weight="bold" fill="#000" >6</text>
<line x1="220.85" y1="117.3" x2="220.85" y2="118.3" stroke="#000" stroke-width="0.4" />
<rect x="225.7" y="110.1" width="6.6" height="7.2" fill="#b00606" stroke="#5e0000" stroke-width="0.5"/>
<text x="229" y="122" font-size="2.6" text-anchor="middle" font-weight="bold" fill="#000" >8</text>
<line x1="229" y1="117.3" x2="229" y2="118.3" stroke="#000" stroke-width="0.4" />
<rect x="233.85" y="107.4" width="6.6" height="9.9" fill="#b00606" stroke="#5e0000" stroke-width="0.5"/>
<text x="237.15" y="122" font-size="2.6" text-anchor="middle" font-weight="bold" fill="#000" >10</text>
<line x1="237.15" y1="117.3" x2="237.15" y2="118.3" stroke="#000" stroke-width="0.4" />
<rect x="242" y="99.8" width="6.6" height="17.5" fill="#b00606" stroke="#5e0000" stroke-width="0.5"/>
<text x="245.3" y="122" font-size="2.6" text-anchor="middle" font-weight="bold" fill="#000" >12</text>
<line x1="245.3" y1="117.3" x2="245.3" y2="118.3" stroke="#000" stroke-width="0.4" />
<rect x="250.15" y="93.5" width="6.6" height="23.8" fill="#b00606" stroke="#5e0000" stroke-width="0.5"/>
<text x="253.45" y="122" font-size="2.6" text-anchor="middle" font-weight="bold" fill="#000" >14</text>
<line x1="253.45" y1="117.3" x2="253.45" y2="118.3" stroke="#000" stroke-width="0.4" />
<rect x="261.9" y="111.8" width="6.6" height="5.5" fill="#1b3a78" stroke="#0c1c40" stroke-width="0.5"/>
<text x="265.2" y="122" font-size="2.6" text-anchor="middle" font-weight="bold" fill="#000" >4</text>
<line x1="265.2" y1="117.3" x2="265.2" y2="118.3" stroke="#000" stroke-width="0.4" />
<rect x="270" y="111.3" width="6.6" height="6" fill="#1b3a78" stroke="#0c1c40" stroke-width="0.5"/>
<text x="273.3" y="122" font-size="2.6" text-anchor="middle" font-weight="bold" fill="#000" >6</text>
<line x1="273.3" y1="117.3" x2="273.3" y2="118.3" stroke="#000" stroke-width="0.4" />
<rect x="278.1" y="109.8" width="6.6" height="7.5" fill="#1b3a78" stroke="#0c1c40" stroke-width="0.5"/>
<text x="281.4" y="122" font-size="2.6" text-anchor="middle" font-weight="bold" fill="#000" >8</text>
<line x1="281.4" y1="117.3" x2="281.4" y2="118.3" stroke="#000" stroke-width="0.4" />
<rect x="286.2" y="104.1" width="6.6" height="13.2" fill="#1b3a78" stroke="#0c1c40" stroke-width="0.5"/>
<text x="289.5" y="122" font-size="2.6" text-anchor="middle" font-weight="bold" fill="#000" >10</text>
<line x1="289.5" y1="117.3" x2="289.5" y2="118.3" stroke="#000" stroke-width="0.4" />
<rect x="294.3" y="89" width="6.6" height="28.3" fill="#1b3a78" stroke="#0c1c40" stroke-width="0.5"/>
<text x="297.6" y="122" font-size="2.6" text-anchor="middle" font-weight="bold" fill="#000" >12</text>
<line x1="297.6" y1="117.3" x2="297.6" y2="118.3" stroke="#000" stroke-width="0.4" />
<rect x="302.4" y="90" width="6.6" height="27.3" fill="#1b3a78" stroke="#0c1c40" stroke-width="0.5"/>
<text x="305.7" y="122" font-size="2.6" text-anchor="middle" font-weight="bold" fill="#000" >14</text>
<line x1="305.7" y1="117.3" x2="305.7" y2="118.3" stroke="#000" stroke-width="0.4" />
<rect x="313.9" y="110.1" width="6.7" height="7.2" fill="#1c9db8" stroke="#0e5566" stroke-width="0.5"/>
<text x="317.25" y="122" font-size="2.6" text-anchor="middle" font-weight="bold" fill="#000" >4</text>
<line x1="317.25" y1="117.3" x2="317.25" y2="118.3" stroke="#000" stroke-width="0.4" />
<rect x="322.02" y="109.3" width="6.7" height="8" fill="#1c9db8" stroke="#0e5566" stroke-width="0.5"/>
<text x="325.37" y="122" font-size="2.6" text-anchor="middle" font-weight="bold" fill="#000" >6</text>
<line x1="325.37" y1="117.3" x2="325.37" y2="118.3" stroke="#000" stroke-width="0.4" />
<rect x="330.14" y="107.7" width="6.7" height="9.6" fill="#1c9db8" stroke="#0e5566" stroke-width="0.5"/>
<text x="333.49" y="122" font-size="2.6" text-anchor="middle" font-weight="bold" fill="#000" >8</text>
<line x1="333.49" y1="117.3" x2="333.49" y2="118.3" stroke="#000" stroke-width="0.4" />
<rect x="338.26" y="109.6" width="6.7" height="7.7" fill="#1c9db8" stroke="#0e5566" stroke-width="0.5"/>
<text x="341.61" y="122" font-size="2.6" text-anchor="middle" font-weight="bold" fill="#000" >10</text>
<line x1="341.61" y1="117.3" x2="341.61" y2="118.3" stroke="#000" stroke-width="0.4" />
<rect x="346.38" y="107.4" width="6.7" height="9.9" fill="#1c9db8" stroke="#0e5566" stroke-width="0.5"/>
<text x="349.73" y="122" font-size="2.6" text-anchor="middle" font-weight="bold" fill="#000" >12</text>
<line x1="349.73" y1="117.3" x2="349.73" y2="118.3" stroke="#000" stroke-width="0.4" />
<rect x="354.5" y="106" width="6.7" height="11.3" fill="#1c9db8" stroke="#0e5566" stroke-width="0.5"/>
<text x="357.85" y="122" font-size="2.6" text-anchor="middle" font-weight="bold" fill="#000" >14</text>
<line x1="357.85" y1="117.3" x2="357.85" y2="118.3" stroke="#000" stroke-width="0.4" />
<line x1="259.5" y1="78.4" x2="259.5" y2="117.3" stroke="#bbb" stroke-width="0.5" stroke-dasharray="0.6 0.7"/>
<line x1="294" y1="92.2" x2="301.2" y2="92.2" stroke="#fff" stroke-width="0.9" />
<line x1="302.1" y1="92.2" x2="309.3" y2="92.2" stroke="#fff" stroke-width="0.9" />
<line x1="212.7" y1="108.6" x2="212.7" y2="110" stroke="#000" stroke-width="0.4" />
<line x1="211.1" y1="108.6" x2="214.3" y2="108.6" stroke="#000" stroke-width="0.4" />
<line x1="211.1" y1="110" x2="214.3" y2="110" stroke="#000" stroke-width="0.4" />
<circle cx="212.07" cy="111.55" r="0.36" fill="#000"/>
<circle cx="211.73" cy="111.28" r="0.36" fill="#000"/>
<circle cx="212.98" cy="112.32" r="0.36" fill="#000"/>
<circle cx="212.35" cy="109.5" r="0.36" fill="#000"/>
<line x1="220.85" y1="110.5" x2="220.85" y2="112.1" stroke="#000" stroke-width="0.4" />
<line x1="219.25" y1="110.5" x2="222.45" y2="110.5" stroke="#000" stroke-width="0.4" />
<line x1="219.25" y1="112.1" x2="222.45" y2="112.1" stroke="#000" stroke-width="0.4" />
<circle cx="220.51" cy="111.65" r="0.36" fill="#000"/>
<circle cx="220.2" cy="112.62" r="0.36" fill="#000"/>
<circle cx="219.1" cy="112.26" r="0.36" fill="#000"/>
<circle cx="219.35" cy="115.9" r="0.36" fill="#000"/>
<line x1="229" y1="108.9" x2="229" y2="111.3" stroke="#000" stroke-width="0.4" />
<line x1="227.4" y1="108.9" x2="230.6" y2="108.9" stroke="#000" stroke-width="0.4" />
<line x1="227.4" y1="111.3" x2="230.6" y2="111.3" stroke="#000" stroke-width="0.4" />
<circle cx="229.01" cy="109.96" r="0.36" fill="#000"/>
<circle cx="227.86" cy="109.86" r="0.36" fill="#000"/>
<circle cx="228.08" cy="111.61" r="0.36" fill="#000"/>
<circle cx="228.78" cy="112.81" r="0.36" fill="#000"/>
<line x1="237.15" y1="105.2" x2="237.15" y2="109.6" stroke="#000" stroke-width="0.4" />
<line x1="235.55" y1="105.2" x2="238.75" y2="105.2" stroke="#000" stroke-width="0.4" />
<line x1="235.55" y1="109.6" x2="238.75" y2="109.6" stroke="#000" stroke-width="0.4" />
<circle cx="238.97" cy="110.32" r="0.36" fill="#000"/>
<circle cx="235.24" cy="106.92" r="0.36" fill="#000"/>
<circle cx="235.28" cy="108.26" r="0.36" fill="#000"/>
<circle cx="237.04" cy="106.43" r="0.36" fill="#000"/>
<line x1="245.3" y1="94.8" x2="245.3" y2="104.8" stroke="#000" stroke-width="0.4" />
<line x1="243.7" y1="94.8" x2="246.9" y2="94.8" stroke="#000" stroke-width="0.4" />
<line x1="243.7" y1="104.8" x2="246.9" y2="104.8" stroke="#000" stroke-width="0.4" />
<circle cx="245.65" cy="102.5" r="0.36" fill="#000"/>
<circle cx="247.01" cy="101.3" r="0.36" fill="#000"/>
<circle cx="246.6" cy="103.28" r="0.36" fill="#000"/>
<circle cx="244.29" cy="98.77" r="0.36" fill="#000"/>
<line x1="253.45" y1="92" x2="253.45" y2="95" stroke="#000" stroke-width="0.4" />
<line x1="251.85" y1="92" x2="255.05" y2="92" stroke="#000" stroke-width="0.4" />
<line x1="251.85" y1="95" x2="255.05" y2="95" stroke="#000" stroke-width="0.4" />
<circle cx="251.89" cy="95.82" r="0.36" fill="#000"/>
<circle cx="254.18" cy="96.2" r="0.36" fill="#000"/>
<circle cx="255.22" cy="94.69" r="0.36" fill="#000"/>
<circle cx="254.51" cy="93.29" r="0.36" fill="#000"/>
<line x1="265.2" y1="111.2" x2="265.2" y2="112.4" stroke="#000" stroke-width="0.4" />
<line x1="263.6" y1="111.2" x2="266.8" y2="111.2" stroke="#000" stroke-width="0.4" />
<line x1="263.6" y1="112.4" x2="266.8" y2="112.4" stroke="#000" stroke-width="0.4" />
<circle cx="265.03" cy="112.98" r="0.36" fill="#000"/>
<circle cx="266.33" cy="113.19" r="0.36" fill="#000"/>
<circle cx="264.13" cy="114.81" r="0.36" fill="#000"/>
<circle cx="264.42" cy="112.47" r="0.36" fill="#000"/>
<line x1="273.3" y1="110.7" x2="273.3" y2="111.9" stroke="#000" stroke-width="0.4" />
<line x1="271.7" y1="110.7" x2="274.9" y2="110.7" stroke="#000" stroke-width="0.4" />
<line x1="271.7" y1="111.9" x2="274.9" y2="111.9" stroke="#000" stroke-width="0.4" />
<circle cx="271.81" cy="112.78" r="0.36" fill="#000"/>
<circle cx="274.09" cy="114.51" r="0.36" fill="#000"/>
<circle cx="271.75" cy="114.12" r="0.36" fill="#000"/>
<circle cx="273.63" cy="113.43" r="0.36" fill="#000"/>
<line x1="281.4" y1="108.3" x2="281.4" y2="111.3" stroke="#000" stroke-width="0.4" />
<line x1="279.8" y1="108.3" x2="283" y2="108.3" stroke="#000" stroke-width="0.4" />
<line x1="279.8" y1="111.3" x2="283" y2="111.3" stroke="#000" stroke-width="0.4" />
<circle cx="280.95" cy="111.57" r="0.36" fill="#000"/>
<circle cx="279.44" cy="112.9" r="0.36" fill="#000"/>
<circle cx="280.61" cy="108.36" r="0.36" fill="#000"/>
<circle cx="281.98" cy="112.04" r="0.36" fill="#000"/>
<line x1="289.5" y1="100.3" x2="289.5" y2="107.9" stroke="#000" stroke-width="0.4" />
<line x1="287.9" y1="100.3" x2="291.1" y2="100.3" stroke="#000" stroke-width="0.4" />
<line x1="287.9" y1="107.9" x2="291.1" y2="107.9" stroke="#000" stroke-width="0.4" />
<circle cx="291.04" cy="104.73" r="0.36" fill="#000"/>
<circle cx="288.49" cy="105.74" r="0.36" fill="#000"/>
<circle cx="291.34" cy="105.31" r="0.36" fill="#000"/>
<circle cx="287.59" cy="104.61" r="0.36" fill="#000"/>
<line x1="297.6" y1="87.8" x2="297.6" y2="90.2" stroke="#000" stroke-width="0.4" />
<line x1="296" y1="87.8" x2="299.2" y2="87.8" stroke="#000" stroke-width="0.4" />
<line x1="296" y1="90.2" x2="299.2" y2="90.2" stroke="#000" stroke-width="0.4" />
<circle cx="297.59" cy="89.93" r="0.36" fill="#000"/>
<circle cx="296.63" cy="89.39" r="0.36" fill="#000"/>
<circle cx="298.27" cy="91.27" r="0.36" fill="#000"/>
<circle cx="295.74" cy="90.11" r="0.36" fill="#000"/>
<line x1="305.7" y1="89.4" x2="305.7" y2="90.6" stroke="#000" stroke-width="0.4" />
<line x1="304.1" y1="89.4" x2="307.3" y2="89.4" stroke="#000" stroke-width="0.4" />
<line x1="304.1" y1="90.6" x2="307.3" y2="90.6" stroke="#000" stroke-width="0.4" />
<circle cx="305.05" cy="89.9" r="0.36" fill="#000"/>
<circle cx="304.49" cy="92.37" r="0.36" fill="#000"/>
<circle cx="306.89" cy="91.4" r="0.36" fill="#000"/>
<circle cx="304.52" cy="90.08" r="0.36" fill="#000"/>
<line x1="317.25" y1="108.9" x2="317.25" y2="111.3" stroke="#000" stroke-width="0.4" />
<line x1="315.65" y1="108.9" x2="318.85" y2="108.9" stroke="#000" stroke-width="0.4" />
<line x1="315.65" y1="111.3" x2="318.85" y2="111.3" stroke="#000" stroke-width="0.4" />
<circle cx="319.13" cy="110.76" r="0.36" fill="#000"/>
<circle cx="316.17" cy="113.66" r="0.36" fill="#000"/>
<circle cx="316.14" cy="111.67" r="0.36" fill="#000"/>
<circle cx="319.06" cy="110.6" r="0.36" fill="#000"/>
<line x1="325.37" y1="108.1" x2="325.37" y2="110.5" stroke="#000" stroke-width="0.4" />
<line x1="323.77" y1="108.1" x2="326.97" y2="108.1" stroke="#000" stroke-width="0.4" />
<line x1="323.77" y1="110.5" x2="326.97" y2="110.5" stroke="#000" stroke-width="0.4" />
<circle cx="325.35" cy="111.13" r="0.36" fill="#000"/>
<circle cx="325.04" cy="111.59" r="0.36" fill="#000"/>
<circle cx="326.03" cy="111.44" r="0.36" fill="#000"/>
<circle cx="324.94" cy="110.59" r="0.36" fill="#000"/>
<line x1="333.49" y1="105.7" x2="333.49" y2="109.7" stroke="#000" stroke-width="0.4" />
<line x1="331.89" y1="105.7" x2="335.09" y2="105.7" stroke="#000" stroke-width="0.4" />
<line x1="331.89" y1="109.7" x2="335.09" y2="109.7" stroke="#000" stroke-width="0.4" />
<circle cx="332.34" cy="109.86" r="0.36" fill="#000"/>
<circle cx="331.7" cy="109.09" r="0.36" fill="#000"/>
<circle cx="331.73" cy="107.19" r="0.36" fill="#000"/>
<circle cx="335.02" cy="110.79" r="0.36" fill="#000"/>
<line x1="341.61" y1="108.2" x2="341.61" y2="111" stroke="#000" stroke-width="0.4" />
<line x1="340.01" y1="108.2" x2="343.21" y2="108.2" stroke="#000" stroke-width="0.4" />
<line x1="340.01" y1="111" x2="343.21" y2="111" stroke="#000" stroke-width="0.4" />
<circle cx="342.54" cy="113.88" r="0.36" fill="#000"/>
<circle cx="340.93" cy="111.06" r="0.36" fill="#000"/>
<circle cx="340.35" cy="112.93" r="0.36" fill="#000"/>
<circle cx="339.74" cy="110.32" r="0.36" fill="#000"/>
<line x1="349.73" y1="104.9" x2="349.73" y2="109.9" stroke="#000" stroke-width="0.4" />
<line x1="348.13" y1="104.9" x2="351.33" y2="104.9" stroke="#000" stroke-width="0.4" />
<line x1="348.13" y1="109.9" x2="351.33" y2="109.9" stroke="#000" stroke-width="0.4" />
<circle cx="350.39" cy="108.06" r="0.36" fill="#000"/>
<circle cx="349.06" cy="109.7" r="0.36" fill="#000"/>
<circle cx="348.41" cy="109.87" r="0.36" fill="#000"/>
<circle cx="349.14" cy="108.92" r="0.36" fill="#000"/>
<line x1="357.85" y1="102.4" x2="357.85" y2="109.6" stroke="#000" stroke-width="0.4" />
<line x1="356.25" y1="102.4" x2="359.45" y2="102.4" stroke="#000" stroke-width="0.4" />
<line x1="356.25" y1="109.6" x2="359.45" y2="109.6" stroke="#000" stroke-width="0.4" />
<circle cx="359.67" cy="109.71" r="0.36" fill="#000"/>
<circle cx="356.68" cy="109.67" r="0.36" fill="#000"/>
<circle cx="357.28" cy="108.47" r="0.36" fill="#000"/>
<circle cx="357.58" cy="105.49" r="0.36" fill="#000"/>
<circle cx="228.9" cy="106.5" r="0.52" fill="#000"/>
<circle cx="237.2" cy="101.4" r="0.52" fill="#000"/>
<circle cx="237.2" cy="104.8" r="0.52" fill="#000"/>
<circle cx="245.3" cy="85" r="0.52" fill="#000"/>
<circle cx="245.3" cy="89.8" r="0.52" fill="#000"/>
<circle cx="253.5" cy="87.5" r="0.52" fill="#000"/>
<circle cx="253.5" cy="89.2" r="0.52" fill="#000"/>
<circle cx="281.4" cy="103.6" r="0.52" fill="#000"/>
<circle cx="289.5" cy="94.8" r="0.52" fill="#000"/>
<circle cx="297.6" cy="87.3" r="0.52" fill="#000"/>
<circle cx="334" cy="102.3" r="0.52" fill="#000"/>
<circle cx="350" cy="102.5" r="0.52" fill="#000"/>
<circle cx="350" cy="104.8" r="0.52" fill="#000"/>
<circle cx="358" cy="94.4" r="0.52" fill="#000"/>
<circle cx="358" cy="101.6" r="0.52" fill="#000"/>
<circle cx="317.2" cy="107.6" r="0.52" fill="#000"/>
<circle cx="325.3" cy="107.6" r="0.52" fill="#000"/>
<circle cx="342" cy="107.2" r="0.52" fill="#000"/>
<text x="4.6" y="139.7" font-size="8" text-anchor="start" font-weight="normal" fill="#000" >E</text>
<text x="12.4" y="188.8" font-size="5.85" text-anchor="middle" font-weight="normal" fill="#000" transform="rotate(-90 12.4 188.8)" >OCR normalized to DAPI count</text>
<line x1="29.7" y1="148.3" x2="29.7" y2="228.7" stroke="#000" stroke-width="0.6" />
<line x1="29.7" y1="217.3" x2="106.3" y2="217.3" stroke="#000" stroke-width="0.6" />
<line x1="29.7" y1="228.5" x2="106.3" y2="228.5" stroke="#000" stroke-width="0.6" />
<line x1="28.1" y1="148.6" x2="29.7" y2="148.6" stroke="#000" stroke-width="0.5" />
<text x="27.7" y="150" font-size="3.9" text-anchor="end" font-weight="normal" fill="#000" >3×10<tspan dy="-1.4" font-size="2.4">-1</tspan></text>
<line x1="28.8" y1="150.88" x2="29.7" y2="150.88" stroke="#000" stroke-width="0.3" />
<line x1="28.8" y1="153.17" x2="29.7" y2="153.17" stroke="#000" stroke-width="0.3" />
<line x1="28.8" y1="155.45" x2="29.7" y2="155.45" stroke="#000" stroke-width="0.3" />
<line x1="28.8" y1="157.74" x2="29.7" y2="157.74" stroke="#000" stroke-width="0.3" />
<line x1="28.1" y1="160.02" x2="29.7" y2="160.02" stroke="#000" stroke-width="0.5" />
<text x="27.7" y="161.42" font-size="3.9" text-anchor="end" font-weight="normal" fill="#000" >2.5×10<tspan dy="-1.4" font-size="2.4">-1</tspan></text>
<line x1="28.8" y1="162.3" x2="29.7" y2="162.3" stroke="#000" stroke-width="0.3" />
<line x1="28.8" y1="164.59" x2="29.7" y2="164.59" stroke="#000" stroke-width="0.3" />
<line x1="28.8" y1="166.87" x2="29.7" y2="166.87" stroke="#000" stroke-width="0.3" />
<line x1="28.8" y1="169.16" x2="29.7" y2="169.16" stroke="#000" stroke-width="0.3" />
<line x1="28.1" y1="171.44" x2="29.7" y2="171.44" stroke="#000" stroke-width="0.5" />
<text x="27.7" y="172.84" font-size="3.9" text-anchor="end" font-weight="normal" fill="#000" >2×10<tspan dy="-1.4" font-size="2.4">-1</tspan></text>
<line x1="28.8" y1="173.72" x2="29.7" y2="173.72" stroke="#000" stroke-width="0.3" />
<line x1="28.8" y1="176.01" x2="29.7" y2="176.01" stroke="#000" stroke-width="0.3" />
<line x1="28.8" y1="178.29" x2="29.7" y2="178.29" stroke="#000" stroke-width="0.3" />
<line x1="28.8" y1="180.58" x2="29.7" y2="180.58" stroke="#000" stroke-width="0.3" />
<line x1="28.1" y1="182.86" x2="29.7" y2="182.86" stroke="#000" stroke-width="0.5" />
<text x="27.7" y="184.26" font-size="3.9" text-anchor="end" font-weight="normal" fill="#000" >1.5×10<tspan dy="-1.4" font-size="2.4">-1</tspan></text>
<line x1="28.8" y1="185.14" x2="29.7" y2="185.14" stroke="#000" stroke-width="0.3" />
<line x1="28.8" y1="187.43" x2="29.7" y2="187.43" stroke="#000" stroke-width="0.3" />
<line x1="28.8" y1="189.71" x2="29.7" y2="189.71" stroke="#000" stroke-width="0.3" />
<line x1="28.8" y1="192" x2="29.7" y2="192" stroke="#000" stroke-width="0.3" />
<line x1="28.1" y1="194.28" x2="29.7" y2="194.28" stroke="#000" stroke-width="0.5" />
<text x="27.7" y="195.68" font-size="3.9" text-anchor="end" font-weight="normal" fill="#000" >1×10<tspan dy="-1.4" font-size="2.4">-1</tspan></text>
<line x1="28.8" y1="196.56" x2="29.7" y2="196.56" stroke="#000" stroke-width="0.3" />
<line x1="28.8" y1="198.85" x2="29.7" y2="198.85" stroke="#000" stroke-width="0.3" />
<line x1="28.8" y1="201.13" x2="29.7" y2="201.13" stroke="#000" stroke-width="0.3" />
<line x1="28.8" y1="203.42" x2="29.7" y2="203.42" stroke="#000" stroke-width="0.3" />
<line x1="28.1" y1="205.7" x2="29.7" y2="205.7" stroke="#000" stroke-width="0.5" />
<text x="27.7" y="207.1" font-size="3.9" text-anchor="end" font-weight="normal" fill="#000" >5×10<tspan dy="-1.4" font-size="2.4">-2</tspan></text>
<line x1="28.8" y1="207.98" x2="29.7" y2="207.98" stroke="#000" stroke-width="0.3" />
<line x1="28.8" y1="210.27" x2="29.7" y2="210.27" stroke="#000" stroke-width="0.3" />
<line x1="28.8" y1="212.55" x2="29.7" y2="212.55" stroke="#000" stroke-width="0.3" />
<line x1="28.8" y1="214.84" x2="29.7" y2="214.84" stroke="#000" stroke-width="0.3" />
<line x1="28.1" y1="217.12" x2="29.7" y2="217.12" stroke="#000" stroke-width="0.5" />
<text x="27.7" y="218.52" font-size="3.9" text-anchor="end" font-weight="normal" fill="#000" >0</text>
<line x1="28.8" y1="219.4" x2="29.7" y2="219.4" stroke="#000" stroke-width="0.3" />
<line x1="28.8" y1="221.69" x2="29.7" y2="221.69" stroke="#000" stroke-width="0.3" />
<line x1="28.8" y1="223.97" x2="29.7" y2="223.97" stroke="#000" stroke-width="0.3" />
<line x1="28.8" y1="226.26" x2="29.7" y2="226.26" stroke="#000" stroke-width="0.3" />
<line x1="28.1" y1="228.54" x2="29.7" y2="228.54" stroke="#000" stroke-width="0.5" />
<text x="27.7" y="229.94" font-size="3.9" text-anchor="end" font-weight="normal" fill="#000" >-5×10<tspan dy="-1.4" font-size="2.4">-2</tspan></text>
<rect x="31.8" y="189" width="7.9" height="28.3" fill="#b00606" stroke="#5e0000" stroke-width="0.5"/>
<line x1="35.75" y1="228.5" x2="35.75" y2="229.7" stroke="#000" stroke-width="0.4" />
<text x="36.55" y="234.5" font-size="4.1" text-anchor="end" font-weight="bold" fill="#000" transform="rotate(-45 36.55 234.5)" >D8</text>
<rect x="41.9" y="189" width="7.9" height="28.3" fill="#b00606" stroke="#5e0000" stroke-width="0.5"/>
<line x1="45.85" y1="228.5" x2="45.85" y2="229.7" stroke="#000" stroke-width="0.4" />
<text x="46.65" y="234.5" font-size="4.1" text-anchor="end" font-weight="bold" fill="#000" transform="rotate(-45 46.65 234.5)" >D14</text>
<rect x="58.3" y="192.2" width="8.1" height="25.1" fill="#1b3a78" stroke="#0c1c40" stroke-width="0.5"/>
<line x1="62.35" y1="228.5" x2="62.35" y2="229.7" stroke="#000" stroke-width="0.4" />
<text x="63.15" y="234.5" font-size="4.1" text-anchor="end" font-weight="bold" fill="#000" transform="rotate(-45 63.15 234.5)" >D8</text>
<rect x="68.4" y="210.2" width="8.5" height="7.1" fill="#1b3a78" stroke="#0c1c40" stroke-width="0.5"/>
<line x1="72.65" y1="228.5" x2="72.65" y2="229.7" stroke="#000" stroke-width="0.4" />
<text x="73.45" y="234.5" font-size="4.1" text-anchor="end" font-weight="bold" fill="#000" transform="rotate(-45 73.45 234.5)" >D14</text>
<rect x="84.7" y="209.8" width="8.2" height="7.5" fill="#1c9db8" stroke="#0e5566" stroke-width="0.5"/>
<line x1="88.8" y1="228.5" x2="88.8" y2="229.7" stroke="#000" stroke-width="0.4" />
<text x="89.6" y="234.5" font-size="4.1" text-anchor="end" font-weight="bold" fill="#000" transform="rotate(-45 89.6 234.5)" >D8</text>
<rect x="95.2" y="210.2" width="8.6" height="7.1" fill="#1c9db8" stroke="#0e5566" stroke-width="0.5"/>
<line x1="99.5" y1="228.5" x2="99.5" y2="229.7" stroke="#000" stroke-width="0.4" />
<text x="100.3" y="234.5" font-size="4.1" text-anchor="end" font-weight="bold" fill="#000" transform="rotate(-45 100.3 234.5)" >D14</text>
<line x1="35.7" y1="186.5" x2="35.7" y2="191.5" stroke="#000" stroke-width="0.4" />
<line x1="33.7" y1="186.5" x2="37.7" y2="186.5" stroke="#000" stroke-width="0.4" />
<line x1="33.7" y1="191.5" x2="37.7" y2="191.5" stroke="#000" stroke-width="0.4" />
<line x1="45.8" y1="186.5" x2="45.8" y2="191.5" stroke="#000" stroke-width="0.4" />
<line x1="43.8" y1="186.5" x2="47.8" y2="186.5" stroke="#000" stroke-width="0.4" />
<line x1="43.8" y1="191.5" x2="47.8" y2="191.5" stroke="#000" stroke-width="0.4" />
<line x1="62.3" y1="190" x2="62.3" y2="194.4" stroke="#000" stroke-width="0.4" />
<line x1="60.3" y1="190" x2="64.3" y2="190" stroke="#000" stroke-width="0.4" />
<line x1="60.3" y1="194.4" x2="64.3" y2="194.4" stroke="#000" stroke-width="0.4" />
<line x1="72.6" y1="208.6" x2="72.6" y2="211.8" stroke="#000" stroke-width="0.4" />
<line x1="70.6" y1="208.6" x2="74.6" y2="208.6" stroke="#000" stroke-width="0.4" />
<line x1="70.6" y1="211.8" x2="74.6" y2="211.8" stroke="#000" stroke-width="0.4" />
<line x1="88.8" y1="208" x2="88.8" y2="211.6" stroke="#000" stroke-width="0.4" />
<line x1="86.8" y1="208" x2="90.8" y2="208" stroke="#000" stroke-width="0.4" />
<line x1="86.8" y1="211.6" x2="90.8" y2="211.6" stroke="#000" stroke-width="0.4" />
<line x1="99.5" y1="208" x2="99.5" y2="212.4" stroke="#000" stroke-width="0.4" />
<line x1="97.5" y1="208" x2="101.5" y2="208" stroke="#000" stroke-width="0.4" />
<line x1="97.5" y1="212.4" x2="101.5" y2="212.4" stroke="#000" stroke-width="0.4" />
<circle cx="35.25" cy="165.5" r="0.52" fill="#000"/>
<circle cx="35.67" cy="171" r="0.52" fill="#000"/>
<circle cx="35.57" cy="175.5" r="0.52" fill="#000"/>
<circle cx="36.12" cy="177.5" r="0.52" fill="#000"/>
<circle cx="35.39" cy="180" r="0.52" fill="#000"/>
<circle cx="35.56" cy="182" r="0.52" fill="#000"/>
<circle cx="36.1" cy="184" r="0.52" fill="#000"/>
<circle cx="35.23" cy="187" r="0.52" fill="#000"/>
<circle cx="35.61" cy="190" r="0.52" fill="#000"/>
<circle cx="36.01" cy="193" r="0.52" fill="#000"/>
<circle cx="35.97" cy="197" r="0.52" fill="#000"/>
<circle cx="35.24" cy="201" r="0.52" fill="#000"/>
<circle cx="45.33" cy="165" r="0.52" fill="#000"/>
<circle cx="45.36" cy="171.5" r="0.52" fill="#000"/>
<circle cx="46.22" cy="176" r="0.52" fill="#000"/>
<circle cx="45.56" cy="179" r="0.52" fill="#000"/>
<circle cx="46.05" cy="182" r="0.52" fill="#000"/>
<circle cx="46.2" cy="184" r="0.52" fill="#000"/>
<circle cx="45.64" cy="186" r="0.52" fill="#000"/>
<circle cx="45.57" cy="188" r="0.52" fill="#000"/>
<circle cx="46.26" cy="191" r="0.52" fill="#000"/>
<circle cx="45.92" cy="194" r="0.52" fill="#000"/>
<circle cx="45.56" cy="199" r="0.52" fill="#000"/>
<circle cx="46.02" cy="203" r="0.52" fill="#000"/>
<circle cx="62.12" cy="178.5" r="0.52" fill="#000"/>
<circle cx="62.08" cy="180" r="0.52" fill="#000"/>
<circle cx="61.8" cy="184" r="0.52" fill="#000"/>
<circle cx="62.56" cy="187" r="0.52" fill="#000"/>
<circle cx="62.72" cy="191" r="0.52" fill="#000"/>
<circle cx="62.43" cy="195" r="0.52" fill="#000"/>
<circle cx="62.74" cy="199" r="0.52" fill="#000"/>
<circle cx="72.12" cy="197" r="0.52" fill="#000"/>
<circle cx="72.33" cy="200.5" r="0.52" fill="#000"/>
<circle cx="72.58" cy="203" r="0.52" fill="#000"/>
<circle cx="73.06" cy="205.5" r="0.52" fill="#000"/>
<circle cx="73.05" cy="207.5" r="0.52" fill="#000"/>
<circle cx="72.49" cy="209.5" r="0.52" fill="#000"/>
<circle cx="72.35" cy="212" r="0.52" fill="#000"/>
<circle cx="88.73" cy="196.5" r="0.52" fill="#000"/>
<circle cx="88.79" cy="199" r="0.52" fill="#000"/>
<circle cx="89.23" cy="201.5" r="0.52" fill="#000"/>
<circle cx="88.48" cy="203.5" r="0.52" fill="#000"/>
<circle cx="89.1" cy="205.5" r="0.52" fill="#000"/>
<circle cx="89.04" cy="207" r="0.52" fill="#000"/>
<circle cx="89.12" cy="209" r="0.52" fill="#000"/>
<circle cx="89.07" cy="211" r="0.52" fill="#000"/>
<circle cx="88.91" cy="213" r="0.52" fill="#000"/>
<circle cx="99.33" cy="186.5" r="0.52" fill="#000"/>
<circle cx="99.32" cy="197" r="0.52" fill="#000"/>
<circle cx="99.36" cy="200" r="0.52" fill="#000"/>
<circle cx="99.78" cy="202.5" r="0.52" fill="#000"/>
<circle cx="99.08" cy="204.5" r="0.52" fill="#000"/>
<circle cx="99.2" cy="206.5" r="0.52" fill="#000"/>
<circle cx="99.75" cy="208.5" r="0.52" fill="#000"/>
<circle cx="99.25" cy="210.5" r="0.52" fill="#000"/>
<circle cx="99.06" cy="213" r="0.52" fill="#000"/>
<circle cx="99.03" cy="218.5" r="0.52" fill="#000"/>
<path d="M45.4 149.3V144.2H99.4V186.5" fill="none" stroke="#555" stroke-width="0.5"/>
<path d="M35.6 164.8V152.5H89.2V196" fill="none" stroke="#555" stroke-width="0.5"/>
<path d="M45.4 164.8V160.7H72.5V208.5" fill="none" stroke="#555" stroke-width="0.5"/>
<text x="72.8" y="142.6" font-size="3.0" text-anchor="middle" font-weight="normal" fill="#444" stroke="none">&lt;0.0001</text>
<text x="62.2" y="151" font-size="3.0" text-anchor="middle" font-weight="normal" fill="#444" stroke="none">&lt;0.0001</text>
<text x="59" y="159.2" font-size="3.0" text-anchor="middle" font-weight="normal" fill="#444" stroke="none">&lt;0.0001</text>
<text x="108.2" y="139.7" font-size="8" text-anchor="start" font-weight="normal" fill="#000" >F</text>
<text x="117.3" y="188" font-size="5.85" text-anchor="middle" font-weight="normal" fill="#000" transform="rotate(-90 117.3 188)" >ECAR normalized to DAPI count</text>
<line x1="133.4" y1="149" x2="133.4" y2="227.5" stroke="#000" stroke-width="0.6" />
<line x1="133.4" y1="227.3" x2="210" y2="227.3" stroke="#000" stroke-width="0.6" />
<line x1="131.8" y1="149.3" x2="133.4" y2="149.3" stroke="#000" stroke-width="0.5" />
<text x="131.4" y="150.8" font-size="3.7" text-anchor="end" font-weight="normal" fill="#000" >2×10<tspan dy="-1.4" font-size="2.4">-1</tspan></text>
<line x1="132.5" y1="153.2" x2="133.4" y2="153.2" stroke="#000" stroke-width="0.35" />
<line x1="132.5" y1="157.1" x2="133.4" y2="157.1" stroke="#000" stroke-width="0.35" />
<line x1="132.5" y1="161" x2="133.4" y2="161" stroke="#000" stroke-width="0.35" />
<line x1="132.5" y1="164.9" x2="133.4" y2="164.9" stroke="#000" stroke-width="0.35" />
<line x1="131.8" y1="168.8" x2="133.4" y2="168.8" stroke="#000" stroke-width="0.5" />
<text x="131.4" y="170.3" font-size="3.7" text-anchor="end" font-weight="normal" fill="#000" >1.5×10<tspan dy="-1.4" font-size="2.4">-1</tspan></text>
<line x1="132.5" y1="172.7" x2="133.4" y2="172.7" stroke="#000" stroke-width="0.35" />
<line x1="132.5" y1="176.6" x2="133.4" y2="176.6" stroke="#000" stroke-width="0.35" />
<line x1="132.5" y1="180.5" x2="133.4" y2="180.5" stroke="#000" stroke-width="0.35" />
<line x1="132.5" y1="184.4" x2="133.4" y2="184.4" stroke="#000" stroke-width="0.35" />
<line x1="131.8" y1="188.3" x2="133.4" y2="188.3" stroke="#000" stroke-width="0.5" />
<text x="131.4" y="189.8" font-size="3.7" text-anchor="end" font-weight="normal" fill="#000" >1×10<tspan dy="-1.4" font-size="2.4">-1</tspan></text>
<line x1="132.5" y1="192.2" x2="133.4" y2="192.2" stroke="#000" stroke-width="0.35" />
<line x1="132.5" y1="196.1" x2="133.4" y2="196.1" stroke="#000" stroke-width="0.35" />
<line x1="132.5" y1="200" x2="133.4" y2="200" stroke="#000" stroke-width="0.35" />
<line x1="132.5" y1="203.9" x2="133.4" y2="203.9" stroke="#000" stroke-width="0.35" />
<line x1="131.8" y1="207.8" x2="133.4" y2="207.8" stroke="#000" stroke-width="0.5" />
<text x="131.4" y="209.3" font-size="3.7" text-anchor="end" font-weight="normal" fill="#000" >5×10<tspan dy="-1.4" font-size="2.4">-2</tspan></text>
<line x1="132.5" y1="211.7" x2="133.4" y2="211.7" stroke="#000" stroke-width="0.35" />
<line x1="132.5" y1="215.6" x2="133.4" y2="215.6" stroke="#000" stroke-width="0.35" />
<line x1="132.5" y1="219.5" x2="133.4" y2="219.5" stroke="#000" stroke-width="0.35" />
<line x1="132.5" y1="223.4" x2="133.4" y2="223.4" stroke="#000" stroke-width="0.35" />
<line x1="131.8" y1="227.3" x2="133.4" y2="227.3" stroke="#000" stroke-width="0.5" />
<text x="131.4" y="228.8" font-size="3.7" text-anchor="end" font-weight="normal" fill="#000" >0</text>
<rect x="136.2" y="170.2" width="7.8" height="57.1" fill="#b00606" stroke="#5e0000" stroke-width="0.5"/>
<line x1="140.1" y1="227.3" x2="140.1" y2="228.5" stroke="#000" stroke-width="0.4" />
<text x="140.5" y="234.1" font-size="4.1" text-anchor="end" font-weight="bold" fill="#000" transform="rotate(-45 140.5 234.1)" >D8</text>
<rect x="146.5" y="191.9" width="7.8" height="35.4" fill="#b00606" stroke="#5e0000" stroke-width="0.5"/>
<line x1="150.4" y1="227.3" x2="150.4" y2="228.5" stroke="#000" stroke-width="0.4" />
<text x="150.8" y="234.1" font-size="4.1" text-anchor="end" font-weight="bold" fill="#000" transform="rotate(-45 150.8 234.1)" >D14</text>
<rect x="162.7" y="173.8" width="8.2" height="53.5" fill="#1b3a78" stroke="#0c1c40" stroke-width="0.5"/>
<line x1="166.8" y1="227.3" x2="166.8" y2="228.5" stroke="#000" stroke-width="0.4" />
<text x="167.2" y="234.1" font-size="4.1" text-anchor="end" font-weight="bold" fill="#000" transform="rotate(-45 167.2 234.1)" >D8</text>
<rect x="172.8" y="187.1" width="8.2" height="40.2" fill="#1b3a78" stroke="#0c1c40" stroke-width="0.5"/>
<line x1="176.9" y1="227.3" x2="176.9" y2="228.5" stroke="#000" stroke-width="0.4" />
<text x="177.3" y="234.1" font-size="4.1" text-anchor="end" font-weight="bold" fill="#000" transform="rotate(-45 177.3 234.1)" >D14</text>
<rect x="189.2" y="175.9" width="8.7" height="51.4" fill="#1c9db8" stroke="#0e5566" stroke-width="0.5"/>
<line x1="193.55" y1="227.3" x2="193.55" y2="228.5" stroke="#000" stroke-width="0.4" />
<text x="193.95" y="234.1" font-size="4.1" text-anchor="end" font-weight="bold" fill="#000" transform="rotate(-45 193.95 234.1)" >D8</text>
<rect x="199.8" y="190.6" width="8.6" height="36.7" fill="#1c9db8" stroke="#0e5566" stroke-width="0.5"/>
<line x1="204.1" y1="227.3" x2="204.1" y2="228.5" stroke="#000" stroke-width="0.4" />
<text x="204.5" y="234.1" font-size="4.1" text-anchor="end" font-weight="bold" fill="#000" transform="rotate(-45 204.5 234.1)" >D14</text>
<line x1="140.1" y1="167.8" x2="140.1" y2="172.6" stroke="#000" stroke-width="0.4" />
<line x1="138.1" y1="167.8" x2="142.1" y2="167.8" stroke="#000" stroke-width="0.4" />
<line x1="138.1" y1="172.6" x2="142.1" y2="172.6" stroke="#000" stroke-width="0.4" />
<line x1="150.4" y1="189.7" x2="150.4" y2="194.1" stroke="#000" stroke-width="0.4" />
<line x1="148.4" y1="189.7" x2="152.4" y2="189.7" stroke="#000" stroke-width="0.4" />
<line x1="148.4" y1="194.1" x2="152.4" y2="194.1" stroke="#000" stroke-width="0.4" />
<line x1="166.8" y1="172.2" x2="166.8" y2="175.4" stroke="#000" stroke-width="0.4" />
<line x1="164.8" y1="172.2" x2="168.8" y2="172.2" stroke="#000" stroke-width="0.4" />
<line x1="164.8" y1="175.4" x2="168.8" y2="175.4" stroke="#000" stroke-width="0.4" />
<line x1="176.9" y1="185.1" x2="176.9" y2="189.1" stroke="#000" stroke-width="0.4" />
<line x1="174.9" y1="185.1" x2="178.9" y2="185.1" stroke="#000" stroke-width="0.4" />
<line x1="174.9" y1="189.1" x2="178.9" y2="189.1" stroke="#000" stroke-width="0.4" />
<line x1="193.5" y1="172.9" x2="193.5" y2="178.9" stroke="#000" stroke-width="0.4" />
<line x1="191.5" y1="172.9" x2="195.5" y2="172.9" stroke="#000" stroke-width="0.4" />
<line x1="191.5" y1="178.9" x2="195.5" y2="178.9" stroke="#000" stroke-width="0.4" />
<line x1="204.1" y1="188" x2="204.1" y2="193.2" stroke="#000" stroke-width="0.4" />
<line x1="202.1" y1="188" x2="206.1" y2="188" stroke="#000" stroke-width="0.4" />
<line x1="202.1" y1="193.2" x2="206.1" y2="193.2" stroke="#000" stroke-width="0.4" />
<circle cx="140.15" cy="156.5" r="0.52" fill="#000"/>
<circle cx="139.93" cy="160" r="0.52" fill="#000"/>
<circle cx="140.58" cy="162.5" r="0.52" fill="#000"/>
<circle cx="140.48" cy="164.5" r="0.52" fill="#000"/>
<circle cx="140.59" cy="166.5" r="0.52" fill="#000"/>
<circle cx="139.86" cy="168.5" r="0.52" fill="#000"/>
<circle cx="139.68" cy="171" r="0.52" fill="#000"/>
<circle cx="139.7" cy="173.5" r="0.52" fill="#000"/>
<circle cx="140.1" cy="176" r="0.52" fill="#000"/>
<circle cx="150.61" cy="168.5" r="0.52" fill="#000"/>
<circle cx="150.35" cy="177.5" r="0.52" fill="#000"/>
<circle cx="150.13" cy="183.5" r="0.52" fill="#000"/>
<circle cx="150.32" cy="186" r="0.52" fill="#000"/>
<circle cx="150.52" cy="188.5" r="0.52" fill="#000"/>
<circle cx="150.57" cy="190.5" r="0.52" fill="#000"/>
<circle cx="150.65" cy="193" r="0.52" fill="#000"/>
<circle cx="150.75" cy="195.5" r="0.52" fill="#000"/>
<circle cx="150.56" cy="198" r="0.52" fill="#000"/>
<circle cx="150.02" cy="201" r="0.52" fill="#000"/>
<circle cx="167.14" cy="160.5" r="0.52" fill="#000"/>
<circle cx="166.59" cy="166.5" r="0.52" fill="#000"/>
<circle cx="166.87" cy="168.5" r="0.52" fill="#000"/>
<circle cx="166.67" cy="170.5" r="0.52" fill="#000"/>
<circle cx="167.04" cy="172.5" r="0.52" fill="#000"/>
<circle cx="166.5" cy="175" r="0.52" fill="#000"/>
<circle cx="166.55" cy="177.5" r="0.52" fill="#000"/>
<circle cx="176.65" cy="157.5" r="0.52" fill="#000"/>
<circle cx="176.55" cy="176" r="0.52" fill="#000"/>
<circle cx="177.28" cy="179" r="0.52" fill="#000"/>
<circle cx="176.98" cy="181.5" r="0.52" fill="#000"/>
<circle cx="176.73" cy="184" r="0.52" fill="#000"/>
<circle cx="176.8" cy="186" r="0.52" fill="#000"/>
<circle cx="177.39" cy="189" r="0.52" fill="#000"/>
<circle cx="176.91" cy="192" r="0.52" fill="#000"/>
<circle cx="176.63" cy="195" r="0.52" fill="#000"/>
<circle cx="177.21" cy="199" r="0.52" fill="#000"/>
<circle cx="193.65" cy="162" r="0.52" fill="#000"/>
<circle cx="193.99" cy="167.5" r="0.52" fill="#000"/>
<circle cx="193.1" cy="170.5" r="0.52" fill="#000"/>
<circle cx="193.47" cy="172.5" r="0.52" fill="#000"/>
<circle cx="193.82" cy="174.5" r="0.52" fill="#000"/>
<circle cx="193.84" cy="177" r="0.52" fill="#000"/>
<circle cx="193.91" cy="180" r="0.52" fill="#000"/>
<circle cx="193.04" cy="183" r="0.52" fill="#000"/>
<circle cx="203.89" cy="154.5" r="0.52" fill="#000"/>
<circle cx="203.72" cy="171.5" r="0.52" fill="#000"/>
<circle cx="203.79" cy="177" r="0.52" fill="#000"/>
<circle cx="204.57" cy="180" r="0.52" fill="#000"/>
<circle cx="204.18" cy="182.5" r="0.52" fill="#000"/>
<circle cx="204.53" cy="185" r="0.52" fill="#000"/>
<circle cx="203.97" cy="188" r="0.52" fill="#000"/>
<circle cx="204.47" cy="192" r="0.52" fill="#000"/>
<circle cx="204.05" cy="196" r="0.52" fill="#000"/>
<circle cx="203.86" cy="200" r="0.52" fill="#000"/>
<circle cx="204.38" cy="204" r="0.52" fill="#000"/>
<text x="213.8" y="140.9" font-size="8" text-anchor="start" font-weight="normal" fill="#000" >G</text>
<text x="221.8" y="188" font-size="5.85" text-anchor="middle" font-weight="bold" fill="#000" transform="rotate(-90 221.8 188)" >Fluorescence intensity of</text>
<text x="228" y="188" font-size="5.85" text-anchor="middle" font-weight="bold" fill="#000" transform="rotate(-90 228 188)" >mitochondrial singal (RFU)</text>
<line x1="242.8" y1="147.2" x2="242.8" y2="229.6" stroke="#000" stroke-width="0.6" />
<line x1="242.5" y1="229.4" x2="284" y2="229.4" stroke="#000" stroke-width="0.6" />
<line x1="241" y1="147.5" x2="242.8" y2="147.5" stroke="#000" stroke-width="0.5" />
<text x="240.4" y="148.8" font-size="3.8" text-anchor="end" font-weight="bold" fill="#000" >2500</text>
<line x1="241" y1="163.88" x2="242.8" y2="163.88" stroke="#000" stroke-width="0.5" />
<text x="240.4" y="165.18" font-size="3.8" text-anchor="end" font-weight="bold" fill="#000" >2000</text>
<line x1="241" y1="180.26" x2="242.8" y2="180.26" stroke="#000" stroke-width="0.5" />
<text x="240.4" y="181.56" font-size="3.8" text-anchor="end" font-weight="bold" fill="#000" >1500</text>
<line x1="241" y1="196.64" x2="242.8" y2="196.64" stroke="#000" stroke-width="0.5" />
<text x="240.4" y="197.94" font-size="3.8" text-anchor="end" font-weight="bold" fill="#000" >1000</text>
<line x1="241" y1="213.02" x2="242.8" y2="213.02" stroke="#000" stroke-width="0.5" />
<text x="240.4" y="214.32" font-size="3.8" text-anchor="end" font-weight="bold" fill="#000" >500</text>
<line x1="241" y1="229.4" x2="242.8" y2="229.4" stroke="#000" stroke-width="0.5" />
<text x="240.4" y="230.7" font-size="3.8" text-anchor="end" font-weight="bold" fill="#000" >0</text>
<rect x="247.7" y="168" width="8.7" height="61.4" fill="#b00606" stroke="#5e0000" stroke-width="0.5"/>
<rect x="259" y="175.4" width="8.7" height="54" fill="#1b3a78" stroke="#0c1c40" stroke-width="0.5"/>
<rect x="270.4" y="192.2" width="9" height="37.2" fill="#1c9db8" stroke="#0e5566" stroke-width="0.5"/>
<line x1="252" y1="165.2" x2="252" y2="170.6" stroke="#000" stroke-width="0.4" />
<line x1="250" y1="165.2" x2="254" y2="165.2" stroke="#000" stroke-width="0.4" />
<line x1="250" y1="170.6" x2="254" y2="170.6" stroke="#000" stroke-width="0.4" />
<line x1="263.3" y1="173.6" x2="263.3" y2="177" stroke="#000" stroke-width="0.4" />
<line x1="261.3" y1="173.6" x2="265.3" y2="173.6" stroke="#000" stroke-width="0.4" />
<line x1="261.3" y1="177" x2="265.3" y2="177" stroke="#000" stroke-width="0.4" />
<line x1="274.9" y1="188.6" x2="274.9" y2="195.6" stroke="#000" stroke-width="0.4" />
<line x1="272.9" y1="188.6" x2="276.9" y2="188.6" stroke="#000" stroke-width="0.4" />
<line x1="272.9" y1="195.6" x2="276.9" y2="195.6" stroke="#000" stroke-width="0.4" />
<circle cx="252.53" cy="156.2" r="0.58" fill="#000"/>
<circle cx="251.53" cy="159" r="0.58" fill="#000"/>
<circle cx="252.12" cy="161.5" r="0.58" fill="#000"/>
<circle cx="252.14" cy="166.5" r="0.58" fill="#000"/>
<circle cx="251.66" cy="169.5" r="0.58" fill="#000"/>
<circle cx="251.84" cy="172.5" r="0.58" fill="#000"/>
<circle cx="251.57" cy="181" r="0.58" fill="#000"/>
<circle cx="262.94" cy="171.6" r="0.58" fill="#000"/>
<circle cx="263.01" cy="173" r="0.58" fill="#000"/>
<circle cx="263.42" cy="174.5" r="0.58" fill="#000"/>
<circle cx="263.48" cy="176.5" r="0.58" fill="#000"/>
<circle cx="262.94" cy="178.5" r="0.58" fill="#000"/>
<circle cx="274.31" cy="179.5" r="0.58" fill="#000"/>
<circle cx="274.69" cy="181" r="0.58" fill="#000"/>
<circle cx="275.11" cy="183" r="0.58" fill="#000"/>
<circle cx="274.52" cy="185.5" r="0.58" fill="#000"/>
<circle cx="274.67" cy="190" r="0.58" fill="#000"/>
<circle cx="274.54" cy="194" r="0.58" fill="#000"/>
<circle cx="275.25" cy="198" r="0.58" fill="#000"/>
<circle cx="274.96" cy="202" r="0.58" fill="#000"/>
<circle cx="274.38" cy="206" r="0.58" fill="#000"/>
<text x="294.8" y="140.5" font-size="8" text-anchor="start" font-weight="normal" fill="#000" >H</text>
<text x="311.6" y="188.3" font-size="5.75" text-anchor="middle" font-weight="bold" fill="#000" transform="rotate(-90 311.6 188.3)" >Mitochondria coverage</text>
<text x="318.6" y="187.4" font-size="5.85" text-anchor="middle" font-weight="bold" fill="#000" transform="rotate(-90 318.6 187.4)" >of cytoplasm (%)</text>
<line x1="328.4" y1="147.7" x2="328.4" y2="230" stroke="#000" stroke-width="0.6" />
<line x1="328.1" y1="229.8" x2="368" y2="229.8" stroke="#000" stroke-width="0.6" />
<line x1="326.6" y1="148" x2="328.4" y2="148" stroke="#000" stroke-width="0.5" />
<text x="326" y="149.3" font-size="3.8" text-anchor="end" font-weight="bold" fill="#000" >20</text>
<line x1="326.6" y1="168.45" x2="328.4" y2="168.45" stroke="#000" stroke-width="0.5" />
<text x="326" y="169.75" font-size="3.8" text-anchor="end" font-weight="bold" fill="#000" >15</text>
<line x1="326.6" y1="188.9" x2="328.4" y2="188.9" stroke="#000" stroke-width="0.5" />
<text x="326" y="190.2" font-size="3.8" text-anchor="end" font-weight="bold" fill="#000" >10</text>
<line x1="326.6" y1="209.35" x2="328.4" y2="209.35" stroke="#000" stroke-width="0.5" />
<text x="326" y="210.65" font-size="3.8" text-anchor="end" font-weight="bold" fill="#000" >5</text>
<line x1="326.6" y1="229.8" x2="328.4" y2="229.8" stroke="#000" stroke-width="0.5" />
<text x="326" y="231.1" font-size="3.8" text-anchor="end" font-weight="bold" fill="#000" >0</text>
<rect x="333.1" y="162.8" width="8.9" height="67" fill="#b00606" stroke="#5e0000" stroke-width="0.5"/>
<rect x="344.5" y="156.5" width="8.9" height="73.3" fill="#1b3a78" stroke="#0c1c40" stroke-width="0.5"/>
<rect x="356.2" y="188.9" width="9.1" height="40.9" fill="#1c9db8" stroke="#0e5566" stroke-width="0.5"/>
<line x1="337.5" y1="161" x2="337.5" y2="164.8" stroke="#000" stroke-width="0.4" />
<line x1="335.5" y1="161" x2="339.5" y2="161" stroke="#000" stroke-width="0.4" />
<line x1="335.5" y1="164.8" x2="339.5" y2="164.8" stroke="#000" stroke-width="0.4" />
<line x1="349" y1="155.3" x2="349" y2="157.7" stroke="#000" stroke-width="0.4" />
<line x1="347" y1="155.3" x2="351" y2="155.3" stroke="#000" stroke-width="0.4" />
<line x1="347" y1="157.7" x2="351" y2="157.7" stroke="#000" stroke-width="0.4" />
<line x1="360.8" y1="180.5" x2="360.8" y2="197.2" stroke="#000" stroke-width="0.4" />
<line x1="358.8" y1="180.5" x2="362.8" y2="180.5" stroke="#000" stroke-width="0.4" />
<line x1="358.8" y1="197.2" x2="362.8" y2="197.2" stroke="#000" stroke-width="0.4" />
<circle cx="337.02" cy="153.3" r="0.58" fill="#000"/>
<circle cx="337.37" cy="157.5" r="0.58" fill="#000"/>
<circle cx="337.56" cy="159.5" r="0.58" fill="#000"/>
<circle cx="337.67" cy="161.5" r="0.58" fill="#000"/>
<circle cx="337.01" cy="163.5" r="0.58" fill="#000"/>
<circle cx="337.1" cy="165.5" r="0.58" fill="#000"/>
<circle cx="337.73" cy="168" r="0.58" fill="#000"/>
<circle cx="337.39" cy="178" r="0.58" fill="#000"/>
<circle cx="348.74" cy="149.5" r="0.58" fill="#000"/>
<circle cx="348.77" cy="153.5" r="0.58" fill="#000"/>
<circle cx="349.54" cy="155" r="0.58" fill="#000"/>
<circle cx="348.77" cy="156.5" r="0.58" fill="#000"/>
<circle cx="349.08" cy="158" r="0.58" fill="#000"/>
<circle cx="348.83" cy="160" r="0.58" fill="#000"/>
<circle cx="360.7" cy="162.5" r="0.58" fill="#000"/>
<circle cx="361.24" cy="170.5" r="0.58" fill="#000"/>
<circle cx="361.4" cy="181" r="0.58" fill="#000"/>
<circle cx="360.64" cy="184" r="0.58" fill="#000"/>
<circle cx="360.44" cy="188.5" r="0.58" fill="#000"/>
<circle cx="361.07" cy="197" r="0.58" fill="#000"/>
<circle cx="360.44" cy="212.5" r="0.58" fill="#000"/>
<circle cx="360.21" cy="220" r="0.58" fill="#000"/>
<text x="6" y="252.4" font-size="8" text-anchor="start" font-weight="normal" fill="#000" >I</text>
<text x="13.3" y="303" font-size="5.34" text-anchor="middle" font-weight="bold" fill="#000" transform="rotate(-90 13.3 303)" >Cardiac Troponin T positive cells (%)</text>
<line x1="24.5" y1="266.8" x2="24.5" y2="340.7" stroke="#000" stroke-width="0.6" />
<line x1="24.2" y1="340.5" x2="111.4" y2="340.5" stroke="#000" stroke-width="0.6" />
<line x1="22.7" y1="273.9" x2="24.5" y2="273.9" stroke="#000" stroke-width="0.5" />
<text x="22.1" y="274.9" font-size="2.9" text-anchor="end" font-weight="bold" fill="#000" >100</text>
<line x1="23.6" y1="277.23" x2="24.5" y2="277.23" stroke="#000" stroke-width="0.3" />
<line x1="23.6" y1="280.56" x2="24.5" y2="280.56" stroke="#000" stroke-width="0.3" />
<line x1="23.6" y1="283.89" x2="24.5" y2="283.89" stroke="#000" stroke-width="0.3" />
<line x1="23.6" y1="287.22" x2="24.5" y2="287.22" stroke="#000" stroke-width="0.3" />
<line x1="22.7" y1="290.55" x2="24.5" y2="290.55" stroke="#000" stroke-width="0.5" />
<text x="22.1" y="291.55" font-size="2.9" text-anchor="end" font-weight="bold" fill="#000" >75</text>
<line x1="23.6" y1="293.88" x2="24.5" y2="293.88" stroke="#000" stroke-width="0.3" />
<line x1="23.6" y1="297.21" x2="24.5" y2="297.21" stroke="#000" stroke-width="0.3" />
<line x1="23.6" y1="300.54" x2="24.5" y2="300.54" stroke="#000" stroke-width="0.3" />
<line x1="23.6" y1="303.87" x2="24.5" y2="303.87" stroke="#000" stroke-width="0.3" />
<line x1="22.7" y1="307.2" x2="24.5" y2="307.2" stroke="#000" stroke-width="0.5" />
<text x="22.1" y="308.2" font-size="2.9" text-anchor="end" font-weight="bold" fill="#000" >50</text>
<line x1="23.6" y1="310.53" x2="24.5" y2="310.53" stroke="#000" stroke-width="0.3" />
<line x1="23.6" y1="313.86" x2="24.5" y2="313.86" stroke="#000" stroke-width="0.3" />
<line x1="23.6" y1="317.19" x2="24.5" y2="317.19" stroke="#000" stroke-width="0.3" />
<line x1="23.6" y1="320.52" x2="24.5" y2="320.52" stroke="#000" stroke-width="0.3" />
<line x1="22.7" y1="323.85" x2="24.5" y2="323.85" stroke="#000" stroke-width="0.5" />
<text x="22.1" y="324.85" font-size="2.9" text-anchor="end" font-weight="bold" fill="#000" >25</text>
<line x1="23.6" y1="327.18" x2="24.5" y2="327.18" stroke="#000" stroke-width="0.3" />
<line x1="23.6" y1="330.51" x2="24.5" y2="330.51" stroke="#000" stroke-width="0.3" />
<line x1="23.6" y1="333.84" x2="24.5" y2="333.84" stroke="#000" stroke-width="0.3" />
<line x1="23.6" y1="337.17" x2="24.5" y2="337.17" stroke="#000" stroke-width="0.3" />
<line x1="22.7" y1="340.5" x2="24.5" y2="340.5" stroke="#000" stroke-width="0.5" />
<text x="22.1" y="341.5" font-size="2.9" text-anchor="end" font-weight="bold" fill="#000" >0</text>
<rect x="33.4" y="277.2" width="19.3" height="63.3" fill="#b00606" stroke="#5e0000" stroke-width="0.5"/>
<rect x="58.1" y="275.1" width="18.9" height="65.4" fill="#1b3a78" stroke="#0c1c40" stroke-width="0.5"/>
<rect x="82.3" y="275.1" width="19.6" height="65.4" fill="#1c9db8" stroke="#0e5566" stroke-width="0.5"/>
<text x="67.4" y="261.2" font-size="5.5" text-anchor="middle" font-weight="bold" fill="#000" >Day 8</text>
<line x1="43.2" y1="276.2" x2="43.2" y2="278.2" stroke="#000" stroke-width="0.4" />
<line x1="40.8" y1="276.2" x2="45.6" y2="276.2" stroke="#000" stroke-width="0.4" />
<line x1="40.8" y1="278.2" x2="45.6" y2="278.2" stroke="#000" stroke-width="0.4" />
<line x1="67.4" y1="274.7" x2="67.4" y2="275.5" stroke="#000" stroke-width="0.4" />
<line x1="65" y1="274.7" x2="69.8" y2="274.7" stroke="#000" stroke-width="0.4" />
<line x1="65" y1="275.5" x2="69.8" y2="275.5" stroke="#000" stroke-width="0.4" />
<line x1="92.1" y1="274.7" x2="92.1" y2="275.5" stroke="#000" stroke-width="0.4" />
<line x1="89.7" y1="274.7" x2="94.5" y2="274.7" stroke="#000" stroke-width="0.4" />
<line x1="89.7" y1="275.5" x2="94.5" y2="275.5" stroke="#000" stroke-width="0.4" />
<circle cx="48.42" cy="275.18" r="0.5" fill="#000"/>
<circle cx="42.97" cy="277.18" r="0.5" fill="#000"/>
<circle cx="48.21" cy="276.04" r="0.5" fill="#000"/>
<circle cx="38.66" cy="276.62" r="0.5" fill="#000"/>
<circle cx="44.57" cy="275.39" r="0.5" fill="#000"/>
<circle cx="39.48" cy="275.14" r="0.5" fill="#000"/>
<circle cx="45.34" cy="275.85" r="0.5" fill="#000"/>
<circle cx="40.1" cy="277.19" r="0.5" fill="#000"/>
<circle cx="41.62" cy="274.69" r="0.5" fill="#000"/>
<circle cx="39.7" cy="276.26" r="0.5" fill="#000"/>
<circle cx="43.9" cy="277.21" r="0.5" fill="#000"/>
<circle cx="40.67" cy="274.53" r="0.5" fill="#000"/>
<circle cx="39.89" cy="278.54" r="0.5" fill="#000"/>
<circle cx="43.81" cy="275.74" r="0.5" fill="#000"/>
<circle cx="39.09" cy="277.21" r="0.5" fill="#000"/>
<circle cx="48.45" cy="276.15" r="0.5" fill="#000"/>
<circle cx="45.32" cy="276.71" r="0.5" fill="#000"/>
<circle cx="47.14" cy="276.08" r="0.5" fill="#000"/>
<circle cx="40.94" cy="275.22" r="0.5" fill="#000"/>
<circle cx="47.62" cy="277.37" r="0.5" fill="#000"/>
<circle cx="43.2" cy="281.2" r="0.4" fill="#000"/>
<line x1="62.5" y1="274.8" x2="73" y2="274.8" stroke="#000" stroke-width="0.8" stroke-dasharray="1.2 0.5"/>
<line x1="84.5" y1="274.8" x2="99.5" y2="274.8" stroke="#000" stroke-width="0.8" stroke-dasharray="1.4 0.4"/>
<text x="107.9" y="253.6" font-size="8" text-anchor="start" font-weight="normal" fill="#000" >J</text>
<text x="121.5" y="305.2" font-size="5.34" text-anchor="middle" font-weight="bold" fill="#000" transform="rotate(-90 121.5 305.2)" >Cardiac Troponin T positive cells (%)</text>
<line x1="130.7" y1="268.5" x2="130.7" y2="342.7" stroke="#000" stroke-width="0.6" />
<line x1="130.4" y1="342.5" x2="219" y2="342.5" stroke="#000" stroke-width="0.6" />
<line x1="128.9" y1="275.6" x2="130.7" y2="275.6" stroke="#000" stroke-width="0.5" />
<text x="128.3" y="276.6" font-size="2.9" text-anchor="end" font-weight="bold" fill="#000" >100</text>
<line x1="129.8" y1="278.94" x2="130.7" y2="278.94" stroke="#000" stroke-width="0.3" />
<line x1="129.8" y1="282.29" x2="130.7" y2="282.29" stroke="#000" stroke-width="0.3" />
<line x1="129.8" y1="285.63" x2="130.7" y2="285.63" stroke="#000" stroke-width="0.3" />
<line x1="129.8" y1="288.98" x2="130.7" y2="288.98" stroke="#000" stroke-width="0.3" />
<line x1="128.9" y1="292.32" x2="130.7" y2="292.32" stroke="#000" stroke-width="0.5" />
<text x="128.3" y="293.32" font-size="2.9" text-anchor="end" font-weight="bold" fill="#000" >75</text>
<line x1="129.8" y1="295.66" x2="130.7" y2="295.66" stroke="#000" stroke-width="0.3" />
<line x1="129.8" y1="299.01" x2="130.7" y2="299.01" stroke="#000" stroke-width="0.3" />
<line x1="129.8" y1="302.35" x2="130.7" y2="302.35" stroke="#000" stroke-width="0.3" />
<line x1="129.8" y1="305.7" x2="130.7" y2="305.7" stroke="#000" stroke-width="0.3" />
<line x1="128.9" y1="309.04" x2="130.7" y2="309.04" stroke="#000" stroke-width="0.5" />
<text x="128.3" y="310.04" font-size="2.9" text-anchor="end" font-weight="bold" fill="#000" >50</text>
<line x1="129.8" y1="312.38" x2="130.7" y2="312.38" stroke="#000" stroke-width="0.3" />
<line x1="129.8" y1="315.73" x2="130.7" y2="315.73" stroke="#000" stroke-width="0.3" />
<line x1="129.8" y1="319.07" x2="130.7" y2="319.07" stroke="#000" stroke-width="0.3" />
<line x1="129.8" y1="322.42" x2="130.7" y2="322.42" stroke="#000" stroke-width="0.3" />
<line x1="128.9" y1="325.76" x2="130.7" y2="325.76" stroke="#000" stroke-width="0.5" />
<text x="128.3" y="326.76" font-size="2.9" text-anchor="end" font-weight="bold" fill="#000" >25</text>
<line x1="129.8" y1="329.1" x2="130.7" y2="329.1" stroke="#000" stroke-width="0.3" />
<line x1="129.8" y1="332.45" x2="130.7" y2="332.45" stroke="#000" stroke-width="0.3" />
<line x1="129.8" y1="335.79" x2="130.7" y2="335.79" stroke="#000" stroke-width="0.3" />
<line x1="129.8" y1="339.14" x2="130.7" y2="339.14" stroke="#000" stroke-width="0.3" />
<line x1="128.9" y1="342.48" x2="130.7" y2="342.48" stroke="#000" stroke-width="0.5" />
<text x="128.3" y="343.48" font-size="2.9" text-anchor="end" font-weight="bold" fill="#000" >0</text>
<rect x="140.8" y="280" width="19.3" height="62.5" fill="#b00606" stroke="#5e0000" stroke-width="0.5"/>
<rect x="165.5" y="276.3" width="19.2" height="66.2" fill="#1b3a78" stroke="#0c1c40" stroke-width="0.5"/>
<rect x="190" y="276.3" width="18.9" height="66.2" fill="#1c9db8" stroke="#0e5566" stroke-width="0.5"/>
<text x="175" y="263" font-size="5.5" text-anchor="middle" font-weight="bold" fill="#000" >Day 14</text>
<line x1="150.4" y1="278.2" x2="150.4" y2="281.8" stroke="#000" stroke-width="0.4" />
<line x1="148" y1="278.2" x2="152.8" y2="278.2" stroke="#000" stroke-width="0.4" />
<line x1="148" y1="281.8" x2="152.8" y2="281.8" stroke="#000" stroke-width="0.4" />
<line x1="175.1" y1="275.9" x2="175.1" y2="276.7" stroke="#000" stroke-width="0.4" />
<line x1="172.7" y1="275.9" x2="177.5" y2="275.9" stroke="#000" stroke-width="0.4" />
<line x1="172.7" y1="276.7" x2="177.5" y2="276.7" stroke="#000" stroke-width="0.4" />
<line x1="199.5" y1="275.9" x2="199.5" y2="276.7" stroke="#000" stroke-width="0.4" />
<line x1="197.1" y1="275.9" x2="201.9" y2="275.9" stroke="#000" stroke-width="0.4" />
<line x1="197.1" y1="276.7" x2="201.9" y2="276.7" stroke="#000" stroke-width="0.4" />
<circle cx="148.62" cy="279.06" r="0.55" fill="#000"/>
<circle cx="150.5" cy="280.09" r="0.55" fill="#000"/>
<circle cx="149.75" cy="279.5" r="0.55" fill="#000"/>
<circle cx="151.66" cy="279.48" r="0.55" fill="#000"/>
<circle cx="152.62" cy="280.42" r="0.55" fill="#000"/>
<circle cx="151.84" cy="279.23" r="0.55" fill="#000"/>
<circle cx="147.81" cy="279.14" r="0.55" fill="#000"/>
<circle cx="150.96" cy="278.25" r="0.55" fill="#000"/>
<circle cx="150.68" cy="278.02" r="0.55" fill="#000"/>
<circle cx="149.95" cy="278" r="0.55" fill="#000"/>
<circle cx="150.86" cy="277.1" r="0.55" fill="#000"/>
<circle cx="150.1" cy="279.66" r="0.55" fill="#000"/>
<circle cx="150.05" cy="280.59" r="0.55" fill="#000"/>
<circle cx="150.34" cy="279.06" r="0.55" fill="#000"/>
<circle cx="148.92" cy="278.99" r="0.55" fill="#000"/>
<circle cx="150.17" cy="276.55" r="0.55" fill="#000"/>
<circle cx="148.61" cy="278.19" r="0.55" fill="#000"/>
<circle cx="148.32" cy="278.9" r="0.55" fill="#000"/>
<circle cx="150.01" cy="279.98" r="0.55" fill="#000"/>
<circle cx="150.46" cy="279.57" r="0.55" fill="#000"/>
<circle cx="147.83" cy="278.45" r="0.55" fill="#000"/>
<circle cx="151.71" cy="278.39" r="0.55" fill="#000"/>
<circle cx="150.4" cy="284.4" r="0.42" fill="#000"/>
<line x1="170.5" y1="276" x2="180" y2="276" stroke="#000" stroke-width="0.8" stroke-dasharray="1.2 0.5"/>
<line x1="191" y1="276" x2="208" y2="276" stroke="#000" stroke-width="0.8" stroke-dasharray="1.4 0.4"/>
<rect x="117.7" y="364.2" width="5.3" height="3.2" fill="#b00606" stroke="#1a1a1a" stroke-width="0.9"/>
<text x="126.8" y="367.7" font-size="5.42" text-anchor="start" font-weight="bold" fill="#000" >Serum-containing medium</text>
<rect x="117.7" y="372.8" width="5.3" height="3.2" fill="#1b3a78" stroke="#1a1a1a" stroke-width="0.9"/>
<text x="126.8" y="376.3" font-size="5.42" text-anchor="start" font-weight="bold" fill="#000" >Serum-free maturation medium</text>
<rect x="117.7" y="381.2" width="5.3" height="3.2" fill="#1c9db8" stroke="#1a1a1a" stroke-width="0.9"/>
<text x="126.8" y="384.7" font-size="5.42" text-anchor="start" font-weight="bold" fill="#000" >Serum-free maintenance medium</text>
<defs>
<clipPath id="c1"><rect x="224.9" y="251.3" width="65.9" height="64.2"/></clipPath>
<clipPath id="c2"><rect x="295" y="251.3" width="66.2" height="64.2"/></clipPath>
<clipPath id="c3"><rect x="224.9" y="327.8" width="65.9" height="64"/></clipPath>
<clipPath id="c4"><rect x="295" y="327.8" width="66.2" height="64"/></clipPath>
<filter id="nz1" x="0" y="0" width="100%" height="100%" color-interpolation-filters="sRGB"><feTurbulence type="fractalNoise" baseFrequency="0.22 0.3" numOctaves="3" seed="3"/><feColorMatrix type="matrix" values="0.08 0 0 0 0.03  0.8 0 0 0 -0.1  0 0 0.22 0 0.03  0 0 0 0 1"/></filter>
<filter id="dk" x="0" y="0" width="100%" height="100%" color-interpolation-filters="sRGB"><feTurbulence type="fractalNoise" baseFrequency="0.25" numOctaves="3" seed="9"/><feColorMatrix type="matrix" values="0 0 0 0 0.01  0 0 0 0 0.12  0 0 0 0 0.09  1.7 0 0 0 -0.62"/></filter>
<filter id="dk3" x="0" y="0" width="100%" height="100%" color-interpolation-filters="sRGB"><feTurbulence type="fractalNoise" baseFrequency="0.45" numOctaves="2" seed="4"/><feColorMatrix type="matrix" values="0 0 0 0 0  0 0 0 0 0.2  0 0 0 0 0  3.2 0 0 0 -1.72"/></filter>
<filter id="er2" x="-5%" y="-5%" width="110%" height="110%"><feMorphology operator="erode" radius="1.3"/><feGaussianBlur stdDeviation="0.8"/></filter>
<filter id="bl1" x="-30%" y="-30%" width="160%" height="160%"><feGaussianBlur stdDeviation="2"/></filter>
<filter id="bl2" x="-20%" y="-20%" width="140%" height="140%"><feGaussianBlur stdDeviation="1"/></filter>
<filter id="seg" x="-5%" y="-5%" width="110%" height="110%" color-interpolation-filters="sRGB">
<feTurbulence type="fractalNoise" baseFrequency="0.28" numOctaves="2" seed="5" result="n"/>
<feDisplacementMap in="SourceGraphic" in2="n" scale="2.5" xChannelSelector="R" yChannelSelector="G" result="d"/>
<feTurbulence type="fractalNoise" baseFrequency="0.45" numOctaves="2" seed="4" result="n2"/>
<feColorMatrix in="n2" type="matrix" values="0 0 0 0 0  0 0 0 0 0.2  0 0 0 0 0  3.2 0 0 0 -1.72" result="k"/>
<feComposite in="k" in2="d" operator="in" result="k2"/>
<feMerge><feMergeNode in="d"/><feMergeNode in="k2"/></feMerge>
</filter>
</defs>
<text x="265.2" y="245.2" font-size="6.6" font-weight="bold" textLength="55.7" lengthAdjust="spacingAndGlyphs" fill="#111" stroke="none">Fluorescence image</text>
<line x1="237" y1="247.5" x2="355" y2="247.5" stroke="#111" stroke-width="0.8"/>
<text x="273" y="321.5" font-size="6.6" font-weight="bold" textLength="39.6" lengthAdjust="spacingAndGlyphs" fill="#111" stroke="none">Segmentation</text>
<line x1="234" y1="324.5" x2="352" y2="324.5" stroke="#111" stroke-width="0.8"/>
<text x="209.4" y="253.4" font-size="8" fill="#000">K</text>
<g clip-path="url(#c1)">
<rect x="224.9" y="251.3" width="65.9" height="64.2" fill="#0e4526"/>
<rect x="224.9" y="251.3" width="65.9" height="64.2" filter="url(#nz1)"/>
<ellipse cx="262" cy="298" rx="20" ry="14" fill="#2fa545" opacity="0.22" filter="url(#bl1)"/>
<line x1="254.86" y1="287.27" x2="259.64" y2="291.44" stroke="#2c9a44" stroke-width="0.5" opacity="0.2"/>
<line x1="278.06" y1="281.97" x2="279.2" y2="279.28" stroke="#49c662" stroke-width="0.5" opacity="0.2"/>
<line x1="230.98" y1="303.01" x2="228.15" y2="298.67" stroke="#2a8f6a" stroke-width="0.5" opacity="0.3"/>
<line x1="268.16" y1="290.78" x2="272.34" y2="286.14" stroke="#37b04e" stroke-width="0.5" opacity="0.2"/>
<line x1="227.35" y1="307.41" x2="230.38" y2="303.96" stroke="#2a8f6a" stroke-width="0.5" opacity="0.4"/>
<line x1="280.6" y1="284.7" x2="279.53" y2="282.42" stroke="#37b04e" stroke-width="0.5" opacity="0.3"/>
<line x1="268.22" y1="277.63" x2="270.17" y2="271.66" stroke="#49c662" stroke-width="0.5" opacity="0.3"/>
<line x1="275.03" y1="284.31" x2="280.43" y2="281.83" stroke="#2a8f6a" stroke-width="0.5" opacity="0.2"/>
<line x1="280.87" y1="276.35" x2="282.69" y2="274.63" stroke="#2c9a44" stroke-width="0.5" opacity="0.2"/>
<line x1="256.02" y1="313.76" x2="259.78" y2="317.14" stroke="#2c9a44" stroke-width="0.5" opacity="0.4"/>
<line x1="242.81" y1="257.49" x2="245.96" y2="254.51" stroke="#37b04e" stroke-width="0.5" opacity="0.2"/>
<line x1="241.26" y1="258.37" x2="245.14" y2="255.73" stroke="#2c9a44" stroke-width="0.5" opacity="0.3"/>
<line x1="258.59" y1="314.07" x2="261.67" y2="311.19" stroke="#2a8f6a" stroke-width="0.5" opacity="0.3"/>
<line x1="290.34" y1="252.03" x2="294.03" y2="246.7" stroke="#2c9a44" stroke-width="0.5" opacity="0.2"/>
<line x1="251.02" y1="305.83" x2="249.6" y2="303.54" stroke="#2c9a44" stroke-width="0.5" opacity="0.2"/>
<line x1="254.14" y1="252.6" x2="256.29" y2="249.43" stroke="#37b04e" stroke-width="0.5" opacity="0.2"/>
<line x1="230.95" y1="288.71" x2="234.42" y2="286.42" stroke="#2a8f6a" stroke-width="0.5" opacity="0.2"/>
<line x1="288.3" y1="282.47" x2="290.95" y2="279.17" stroke="#2c9a44" stroke-width="0.5" opacity="0.3"/>
<line x1="284.96" y1="303.52" x2="287" y2="301.05" stroke="#2c9a44" stroke-width="0.5" opacity="0.4"/>
<line x1="287.71" y1="307.58" x2="289.46" y2="305.5" stroke="#37b04e" stroke-width="0.5" opacity="0.2"/>
<line x1="258.82" y1="268.08" x2="256.72" y2="265.08" stroke="#2a8f6a" stroke-width="0.5" opacity="0.3"/>
<line x1="259.32" y1="310.54" x2="263.51" y2="308.5" stroke="#37b04e" stroke-width="0.5" opacity="0.3"/>
<line x1="239.02" y1="309.64" x2="237.85" y2="306.12" stroke="#2a8f6a" stroke-width="0.5" opacity="0.2"/>
<line x1="228.99" y1="263.1" x2="232.86" y2="257.42" stroke="#37b04e" stroke-width="0.5" opacity="0.3"/>
<line x1="234.13" y1="280.37" x2="237.04" y2="275.57" stroke="#2c9a44" stroke-width="0.5" opacity="0.4"/>
<line x1="227.32" y1="253.13" x2="230.75" y2="247.22" stroke="#37b04e" stroke-width="0.5" opacity="0.4"/>
<line x1="266.99" y1="282.38" x2="265.65" y2="279.57" stroke="#37b04e" stroke-width="0.5" opacity="0.2"/>
<line x1="254.9" y1="275.17" x2="259.05" y2="271.09" stroke="#2c9a44" stroke-width="0.5" opacity="0.3"/>
<line x1="248.22" y1="295.16" x2="251.37" y2="292.13" stroke="#37b04e" stroke-width="0.5" opacity="0.3"/>
<line x1="262.81" y1="291.37" x2="264.68" y2="293.11" stroke="#37b04e" stroke-width="0.5" opacity="0.2"/>
<line x1="230.98" y1="259.28" x2="233.5" y2="254.08" stroke="#2a8f6a" stroke-width="0.5" opacity="0.4"/>
<line x1="270.81" y1="280.84" x2="273.26" y2="282.36" stroke="#37b04e" stroke-width="0.5" opacity="0.3"/>
<line x1="264.68" y1="282.3" x2="266.37" y2="279.81" stroke="#2a8f6a" stroke-width="0.5" opacity="0.3"/>
<line x1="284.16" y1="275.18" x2="286.39" y2="272.6" stroke="#2c9a44" stroke-width="0.5" opacity="0.3"/>
<line x1="268.56" y1="279.84" x2="272.72" y2="276.25" stroke="#2c9a44" stroke-width="0.5" opacity="0.4"/>
<line x1="253.44" y1="302.78" x2="255.92" y2="299.35" stroke="#49c662" stroke-width="0.5" opacity="0.2"/>
<line x1="233.99" y1="283.28" x2="239.17" y2="278.92" stroke="#49c662" stroke-width="0.5" opacity="0.2"/>
<line x1="232.45" y1="281.7" x2="234.99" y2="278.33" stroke="#2a8f6a" stroke-width="0.5" opacity="0.4"/>
<line x1="245.81" y1="304.86" x2="247.28" y2="302.44" stroke="#37b04e" stroke-width="0.5" opacity="0.3"/>
<line x1="282.61" y1="254.61" x2="280.89" y2="250.9" stroke="#37b04e" stroke-width="0.5" opacity="0.4"/>
<line x1="233.97" y1="280.65" x2="236.74" y2="278.21" stroke="#2c9a44" stroke-width="0.5" opacity="0.2"/>
<line x1="289.94" y1="259.26" x2="294.23" y2="255.9" stroke="#49c662" stroke-width="0.5" opacity="0.2"/>
<line x1="270.18" y1="264.56" x2="274.16" y2="268.66" stroke="#2a8f6a" stroke-width="0.5" opacity="0.4"/>
<line x1="272.14" y1="263.28" x2="274.47" y2="258.94" stroke="#2c9a44" stroke-width="0.5" opacity="0.3"/>
<line x1="281.02" y1="296.09" x2="286.5" y2="292.24" stroke="#2a8f6a" stroke-width="0.5" opacity="0.2"/>
<line x1="254.73" y1="264.4" x2="259.02" y2="261.72" stroke="#49c662" stroke-width="0.5" opacity="0.3"/>
<line x1="246.55" y1="313.89" x2="251.26" y2="309.89" stroke="#37b04e" stroke-width="0.5" opacity="0.2"/>
<line x1="240.99" y1="276.58" x2="244.38" y2="273.02" stroke="#49c662" stroke-width="0.5" opacity="0.3"/>
<line x1="285.06" y1="305.91" x2="286.58" y2="303.73" stroke="#49c662" stroke-width="0.5" opacity="0.4"/>
<line x1="252.81" y1="269.34" x2="258.46" y2="266.31" stroke="#2a8f6a" stroke-width="0.5" opacity="0.2"/>
<line x1="236.41" y1="273.11" x2="241.42" y2="268.22" stroke="#2a8f6a" stroke-width="0.5" opacity="0.3"/>
<line x1="263.21" y1="295.41" x2="266.85" y2="291.96" stroke="#2c9a44" stroke-width="0.5" opacity="0.4"/>
<line x1="258.94" y1="309.15" x2="261.62" y2="305.9" stroke="#2c9a44" stroke-width="0.5" opacity="0.3"/>
<line x1="281.15" y1="313.01" x2="283.9" y2="309.15" stroke="#2a8f6a" stroke-width="0.5" opacity="0.4"/>
<line x1="232.54" y1="252.31" x2="236.83" y2="257.67" stroke="#2a8f6a" stroke-width="0.5" opacity="0.4"/>
<line x1="277.87" y1="287.46" x2="279.97" y2="289.94" stroke="#2a8f6a" stroke-width="0.5" opacity="0.3"/>
<line x1="285.77" y1="302.42" x2="289.01" y2="305.73" stroke="#2c9a44" stroke-width="0.5" opacity="0.3"/>
<line x1="253.62" y1="303.39" x2="255.93" y2="305.29" stroke="#2a8f6a" stroke-width="0.5" opacity="0.4"/>
<line x1="226.94" y1="268.39" x2="225.39" y2="266.31" stroke="#2c9a44" stroke-width="0.5" opacity="0.2"/>
<line x1="240" y1="295.28" x2="241.78" y2="292.15" stroke="#2a8f6a" stroke-width="0.5" opacity="0.2"/>
<line x1="257.98" y1="288.68" x2="260.58" y2="283.58" stroke="#2a8f6a" stroke-width="0.5" opacity="0.2"/>
<line x1="249.8" y1="278.04" x2="252.05" y2="273.67" stroke="#2c9a44" stroke-width="0.5" opacity="0.4"/>
<line x1="239.27" y1="286.21" x2="240.56" y2="282.9" stroke="#49c662" stroke-width="0.5" opacity="0.2"/>
<line x1="245.85" y1="271.84" x2="251.34" y2="267.52" stroke="#37b04e" stroke-width="0.5" opacity="0.2"/>
<line x1="283.67" y1="260.35" x2="286.23" y2="258.92" stroke="#2a8f6a" stroke-width="0.5" opacity="0.4"/>
<line x1="277.14" y1="259.94" x2="282.01" y2="263.6" stroke="#37b04e" stroke-width="0.5" opacity="0.2"/>
<line x1="262.61" y1="274.53" x2="265.94" y2="271.11" stroke="#49c662" stroke-width="0.5" opacity="0.4"/>
<line x1="290.91" y1="304.48" x2="293.06" y2="303" stroke="#2a8f6a" stroke-width="0.5" opacity="0.2"/>
<line x1="237.51" y1="259.24" x2="241.68" y2="253.67" stroke="#37b04e" stroke-width="0.5" opacity="0.4"/>
<line x1="229.09" y1="311.94" x2="230.97" y2="314.2" stroke="#2a8f6a" stroke-width="0.5" opacity="0.3"/>
<line x1="253.15" y1="274.34" x2="254.88" y2="272.45" stroke="#37b04e" stroke-width="0.5" opacity="0.2"/>
<line x1="236.96" y1="280.6" x2="233.96" y2="274.67" stroke="#2c9a44" stroke-width="0.5" opacity="0.2"/>
<line x1="258.83" y1="252.97" x2="263.03" y2="249.16" stroke="#2a8f6a" stroke-width="0.5" opacity="0.4"/>
<line x1="264.57" y1="283.77" x2="266.28" y2="280.53" stroke="#37b04e" stroke-width="0.5" opacity="0.4"/>
<line x1="274.04" y1="262.08" x2="276.66" y2="265.08" stroke="#49c662" stroke-width="0.5" opacity="0.3"/>
<line x1="275.51" y1="277.56" x2="273.18" y2="271.93" stroke="#49c662" stroke-width="0.5" opacity="0.3"/>
<line x1="231.66" y1="307.95" x2="229.92" y2="305.85" stroke="#49c662" stroke-width="0.5" opacity="0.4"/>
<line x1="244.73" y1="265.61" x2="248.57" y2="268.65" stroke="#2a8f6a" stroke-width="0.5" opacity="0.4"/>
<line x1="290.99" y1="292.46" x2="289.47" y2="288.46" stroke="#37b04e" stroke-width="0.5" opacity="0.2"/>
<line x1="265.62" y1="298.54" x2="268.44" y2="294.7" stroke="#2c9a44" stroke-width="0.5" opacity="0.4"/>
<line x1="249.79" y1="258.2" x2="252.41" y2="255.13" stroke="#2a8f6a" stroke-width="0.5" opacity="0.4"/>
<line x1="262.49" y1="314.69" x2="259.9" y2="309.95" stroke="#37b04e" stroke-width="0.5" opacity="0.3"/>
<line x1="286.39" y1="262.08" x2="291.96" y2="265.13" stroke="#37b04e" stroke-width="0.5" opacity="0.3"/>
<line x1="287.39" y1="278.5" x2="289.48" y2="275.21" stroke="#49c662" stroke-width="0.5" opacity="0.3"/>
<line x1="268.24" y1="287.32" x2="271.26" y2="282.3" stroke="#37b04e" stroke-width="0.5" opacity="0.2"/>
<line x1="275.98" y1="288.91" x2="273.8" y2="283.43" stroke="#2a8f6a" stroke-width="0.5" opacity="0.2"/>
<line x1="284.24" y1="299.15" x2="288.84" y2="295.69" stroke="#49c662" stroke-width="0.5" opacity="0.2"/>
<line x1="277.64" y1="266.09" x2="274.26" y2="260.1" stroke="#2c9a44" stroke-width="0.5" opacity="0.2"/>
<line x1="259.54" y1="311.05" x2="257.52" y2="308.63" stroke="#2c9a44" stroke-width="0.5" opacity="0.4"/>
<line x1="271.62" y1="255.18" x2="274.2" y2="257.42" stroke="#37b04e" stroke-width="0.5" opacity="0.3"/>
<circle cx="259.85" cy="259.83" r="0.8" fill="#1f3f9a" opacity="0.4"/>
<circle cx="234.23" cy="278.27" r="1.0" fill="#1f3f9a" opacity="0.4"/>
<circle cx="242.3" cy="288.68" r="0.8" fill="#1f3f9a" opacity="0.4"/>
<circle cx="249.03" cy="298.86" r="0.6" fill="#1f3f9a" opacity="0.4"/>
<circle cx="287.87" cy="298.26" r="0.6" fill="#1f3f9a" opacity="0.4"/>
<circle cx="256.75" cy="283.69" r="0.8" fill="#1f3f9a" opacity="0.4"/>
<circle cx="276.76" cy="291.37" r="0.8" fill="#1f3f9a" opacity="0.4"/>
<circle cx="243.13" cy="290.42" r="1.0" fill="#1f3f9a" opacity="0.4"/>
<circle cx="262.28" cy="289.28" r="1.0" fill="#1f3f9a" opacity="0.4"/>
<circle cx="243.39" cy="267.08" r="0.6" fill="#1f3f9a" opacity="0.4"/>
<circle cx="258.14" cy="293.14" r="0.6" fill="#1f3f9a" opacity="0.4"/>
<circle cx="283" cy="254.49" r="0.6" fill="#1f3f9a" opacity="0.4"/>
<circle cx="225.63" cy="268.35" r="0.6" fill="#1f3f9a" opacity="0.4"/>
<circle cx="266.14" cy="258.46" r="1.0" fill="#1f3f9a" opacity="0.4"/>
<g filter="url(#bl2)" fill="#050a1c">
<path d="M233.5 251 L245.5 251 C245.5 258 245 266 244 272 C243 280 241.5 286 239 289.5 C237 291.5 234 290 233 286 C231.6 279 231.2 268 232.2 260Z"/>
<path d="M279 259.5 C284 258.5 291 260 292 262 L292 316 L287 316 C286 309 283.5 301 281 294 C278 289 275.5 283 275 276 C274.5 269 276 262 279 259.5Z"/>
<path d="M252 279 C256 277.5 261 279 261 283 C260 287 254 288 251 286 C249 284 250 280 252 279Z" opacity="0.75"/>
<path d="M262 263 C266 262 270 264 269 268 C267 271 262 270 261 267Z" opacity="0.55"/>
<path d="M225 299 C229 298 232 302 231 306 C230 309 226 310 224 309Z" opacity="0.6"/>
</g>
<rect x="246.3" y="251.4" width="44.5" height="6.4" fill="#000"/>
<rect x="285.2" y="312.8" width="4.3" height="1" fill="#fff"/>
</g>
<text x="251.6" y="256.7" font-size="6" font-weight="bold" fill="#1f2fd0" stroke="none">DAPI</text>
<text x="270.6" y="256.8" font-size="6" font-weight="bold" fill="#22bb22" stroke="none">cTNT</text>
<g clip-path="url(#c2)">
<rect x="295" y="251.3" width="66.2" height="64.2" fill="#062b23"/>
<g transform="translate(295 251.4)" filter="url(#er2)">
<path d="M0 0 L18.5 0 C19 3 18 6 17.5 8 C17 11 16 13 15 14 C13.5 16 12 17.5 11.5 19 C9 21 4 21 0 20.5Z" fill="#1f8c3c" opacity="0.85"/>
<path d="M28.2 0 L66 0 L66 6 C63 6.5 60 6 58 5 C56 5 54 6 53.4 8 C53.6 12 53 15 52 17 C50 20 47 22.5 45.6 23.5 C43 26 41 28 39 31 C37.5 35 37 39 36 42 C34.5 46 30 48.5 25 48 C22 47.5 20 45 20 42 C19 38 18.5 34 18.5 30 C18 27 18.5 24 20 22.5 C23 21.5 27 22 30 21 C32 19.5 32 17 31 15 C29 12 28 8 28.2 0Z" fill="#1f8c3c" opacity="0.85"/>
<path d="M46 25 C50 22.5 58 22.5 62 26 C65 30 65 36 64 40 C62 44 59 46 56 49 C52 52 48 54 44 56 C41 58 38 59 36.8 58 C36 56 38 53 41 50 C43 47 44 45 44.5 43 C43 39 43 30 46 25Z" fill="#1f8c3c" opacity="0.85"/>
<path d="M0 26.4 C4 25.5 10 26 12.6 28 C13.5 31 13 35 12.5 37 C14 39 17 40 18.5 42 C19.5 46 18.5 50 16 51.5 C12 52.5 7 51 5 48 C4 45 5 42 4.5 39.5 C2.5 38 1 37.5 0 37Z" fill="#1f8c3c" opacity="0.85"/>
<path d="M0 55.5 C3 55 5 57 4.8 60 C4.5 62.5 2 63.5 0 63.2Z" fill="#1f8c3c" opacity="0.85"/>
<path d="M20.3 61.3 a2.5 2 0 1 0 5 0 a2.5 2 0 1 0 -5 0Z" fill="#1f8c3c" opacity="0.85"/>
<path d="M36.8 60.8 a1.5 2.4 0 1 0 3 0 a1.5 2.4 0 1 0 -3 0Z" fill="#1f8c3c" opacity="0.85"/>
<path d="M46.5 60.3 a2 2 0 1 0 4 0 a2 2 0 1 0 -4 0Z" fill="#1f8c3c" opacity="0.85"/>
<path d="M54.4 58.9 a2.4 2.4 0 1 0 4.8 0 a2.4 2.4 0 1 0 -4.8 0Z" fill="#1f8c3c" opacity="0.85"/>
</g>
<rect x="295" y="251.3" width="66.2" height="64.2" filter="url(#dk)"/>
<circle cx="313.37" cy="299.61" r="0.5" fill="#55d070" opacity="0.5"/>
<circle cx="355.25" cy="262.13" r="0.5" fill="#55d070" opacity="0.5"/>
<circle cx="310.49" cy="313.83" r="0.5" fill="#55d070" opacity="0.5"/>
<circle cx="326.94" cy="274.31" r="0.5" fill="#55d070" opacity="0.5"/>
<circle cx="317.32" cy="283.15" r="0.5" fill="#55d070" opacity="0.5"/>
<circle cx="303.8" cy="306.79" r="0.5" fill="#55d070" opacity="0.5"/>
<circle cx="347.95" cy="280.18" r="0.5" fill="#55d070" opacity="0.5"/>
<circle cx="349.25" cy="304.79" r="0.5" fill="#55d070" opacity="0.5"/>
<circle cx="345.75" cy="279.99" r="0.5" fill="#55d070" opacity="0.5"/>
<circle cx="344.32" cy="276.58" r="0.5" fill="#55d070" opacity="0.5"/>
<circle cx="304.95" cy="261.67" r="0.5" fill="#55d070" opacity="0.5"/>
<circle cx="350.2" cy="289.59" r="0.5" fill="#55d070" opacity="0.5"/>
<circle cx="314.2" cy="299.82" r="0.5" fill="#55d070" opacity="0.5"/>
<circle cx="349.53" cy="263.58" r="0.5" fill="#55d070" opacity="0.5"/>
<circle cx="338.15" cy="288.58" r="0.5" fill="#55d070" opacity="0.5"/>
<circle cx="325.49" cy="272.42" r="0.5" fill="#55d070" opacity="0.5"/>
<circle cx="330.88" cy="279.22" r="0.5" fill="#55d070" opacity="0.5"/>
<circle cx="332.49" cy="303.36" r="0.5" fill="#55d070" opacity="0.5"/>
<circle cx="325.59" cy="303.88" r="0.5" fill="#55d070" opacity="0.5"/>
<circle cx="295.61" cy="271.54" r="0.5" fill="#55d070" opacity="0.5"/>
<circle cx="355.11" cy="290.03" r="0.5" fill="#55d070" opacity="0.5"/>
<circle cx="340.88" cy="283.17" r="0.5" fill="#55d070" opacity="0.5"/>
<circle cx="345.43" cy="272.66" r="0.5" fill="#55d070" opacity="0.5"/>
<circle cx="353.19" cy="265.78" r="0.5" fill="#55d070" opacity="0.5"/>
<circle cx="338.38" cy="272.61" r="0.5" fill="#55d070" opacity="0.5"/>
<circle cx="354.81" cy="272.31" r="0.5" fill="#55d070" opacity="0.5"/>
<circle cx="324.1" cy="289.47" r="0.5" fill="#55d070" opacity="0.5"/>
<circle cx="354.56" cy="295.28" r="0.5" fill="#55d070" opacity="0.5"/>
<circle cx="313.43" cy="285.4" r="0.5" fill="#55d070" opacity="0.5"/>
<circle cx="360.5" cy="280.87" r="0.5" fill="#55d070" opacity="0.5"/>
<rect x="355.5" y="312.8" width="4.3" height="1" fill="#fff"/>
</g>
<g clip-path="url(#c3)">
<rect x="224.9" y="327.8" width="65.9" height="64" fill="#22b92c"/>
<rect x="224.9" y="327.8" width="65.9" height="64" filter="url(#dk3)"/>
<g fill="#000">
<path d="M236 327 L246.6 327 C246.5 334 245.5 342 244.4 348 C243.6 355 242.6 361 240.5 364.5 C238 366.5 233 366 231.6 362.5 C230.2 355 230.6 343 233 335Z"/>
<path d="M281 336.5 C285 335 292 336 292 338 L292 393 L288.5 393 C287.5 387 286 381 284.6 377 C282.5 372 280.3 367 279 360 C277.6 354 277 347 277.6 342 C278.2 339 279.5 337.2 281 336.5Z"/>
<ellipse cx="285.5" cy="343.5" rx="3.2" ry="2.2" fill="#22b92c"/><ellipse cx="282" cy="350" rx="1.8" ry="2.6" fill="#22b92c"/><ellipse cx="287.5" cy="357" rx="1.5" ry="2.5" fill="#22b92c"/><ellipse cx="284.5" cy="369" rx="0.9" ry="1.8" fill="#22b92c"/>
<ellipse cx="257" cy="364" rx="2.2" ry="1.2"/><ellipse cx="268" cy="357" rx="1.6" ry="1"/><ellipse cx="249" cy="372" rx="1.4" ry="0.9"/><ellipse cx="262" cy="379" rx="1.5" ry="1"/>
</g>
<rect x="244.6" y="327.8" width="46.2" height="6.8" fill="#000"/>
<rect x="286" y="389.6" width="3.6" height="1" fill="#fff"/>
</g>
<text x="247.2" y="333.6" font-size="6" font-weight="bold" fill="#22bb22" stroke="none">cTNT+</text>
<text x="269.4" y="333.7" font-size="6" font-weight="bold" fill="#fff" stroke="none">cTNT-</text>
<g clip-path="url(#c4)">
<rect x="295" y="327.8" width="66.2" height="64" fill="#030603"/>
<circle cx="309.6" cy="389.74" r="0.42" fill="#dcdcdc"/>
<circle cx="296.59" cy="371.13" r="0.42" fill="#dcdcdc"/>
<circle cx="347.54" cy="375.09" r="0.42" fill="#dcdcdc"/>
<circle cx="351.41" cy="379.76" r="0.42" fill="#dcdcdc"/>
<circle cx="296.47" cy="381.67" r="0.42" fill="#dcdcdc"/>
<circle cx="317.08" cy="345.31" r="0.42" fill="#dcdcdc"/>
<circle cx="301.43" cy="380.04" r="0.42" fill="#dcdcdc"/>
<circle cx="317.32" cy="357.18" r="0.42" fill="#dcdcdc"/>
<circle cx="348.28" cy="349.11" r="0.42" fill="#dcdcdc"/>
<circle cx="327.21" cy="379.31" r="0.42" fill="#dcdcdc"/>
<circle cx="360.06" cy="350.15" r="0.42" fill="#dcdcdc"/>
<circle cx="355.43" cy="343.53" r="0.42" fill="#dcdcdc"/>
<circle cx="336.92" cy="371.58" r="0.42" fill="#dcdcdc"/>
<circle cx="320.7" cy="361.66" r="0.42" fill="#dcdcdc"/>
<circle cx="355.2" cy="376" r="0.42" fill="#dcdcdc"/>
<circle cx="326.75" cy="379.03" r="0.42" fill="#dcdcdc"/>
<circle cx="324.17" cy="385.05" r="0.42" fill="#dcdcdc"/>
<circle cx="355.1" cy="387.79" r="0.42" fill="#dcdcdc"/>
<circle cx="338.58" cy="377.19" r="0.42" fill="#dcdcdc"/>
<circle cx="351.93" cy="353.36" r="0.42" fill="#dcdcdc"/>
<circle cx="298.82" cy="386.95" r="0.42" fill="#dcdcdc"/>
<circle cx="352.69" cy="385.73" r="0.42" fill="#dcdcdc"/>
<circle cx="322.44" cy="377.2" r="0.42" fill="#dcdcdc"/>
<circle cx="354.93" cy="379.64" r="0.42" fill="#dcdcdc"/>
<circle cx="343.95" cy="367.45" r="0.42" fill="#dcdcdc"/>
<circle cx="298.49" cy="364.4" r="0.42" fill="#dcdcdc"/>
<circle cx="308.48" cy="386.44" r="0.42" fill="#dcdcdc"/>
<circle cx="329.84" cy="384.74" r="0.42" fill="#dcdcdc"/>
<circle cx="300.47" cy="375.71" r="0.42" fill="#dcdcdc"/>
<circle cx="360.82" cy="370.5" r="0.42" fill="#dcdcdc"/>
<circle cx="341.98" cy="358.22" r="0.42" fill="#dcdcdc"/>
<circle cx="344.48" cy="388.86" r="0.42" fill="#dcdcdc"/>
<circle cx="324.49" cy="352.28" r="0.42" fill="#dcdcdc"/>
<circle cx="306.83" cy="340.16" r="0.42" fill="#dcdcdc"/>
<circle cx="325.57" cy="372.85" r="0.42" fill="#dcdcdc"/>
<circle cx="297.14" cy="390.99" r="0.42" fill="#dcdcdc"/>
<circle cx="304.77" cy="372.04" r="0.42" fill="#dcdcdc"/>
<circle cx="311.17" cy="390.87" r="0.42" fill="#dcdcdc"/>
<circle cx="324.12" cy="363.46" r="0.42" fill="#dcdcdc"/>
<circle cx="316.96" cy="346.58" r="0.42" fill="#dcdcdc"/>
<circle cx="328.89" cy="364.55" r="0.42" fill="#dcdcdc"/>
<circle cx="356.61" cy="391.7" r="0.42" fill="#dcdcdc"/>
<circle cx="356.77" cy="364.11" r="0.42" fill="#dcdcdc"/>
<circle cx="338.52" cy="377.5" r="0.42" fill="#dcdcdc"/>
<circle cx="326.54" cy="354.52" r="0.42" fill="#dcdcdc"/>
<circle cx="301.06" cy="383.64" r="0.42" fill="#dcdcdc"/>
<circle cx="299.2" cy="386.37" r="0.42" fill="#dcdcdc"/>
<circle cx="344.22" cy="385.21" r="0.42" fill="#dcdcdc"/>
<circle cx="304.61" cy="387.58" r="0.42" fill="#dcdcdc"/>
<circle cx="348.54" cy="356.88" r="0.42" fill="#dcdcdc"/>
<circle cx="297.18" cy="361.58" r="0.42" fill="#dcdcdc"/>
<circle cx="321.78" cy="349.32" r="0.42" fill="#dcdcdc"/>
<circle cx="311.11" cy="387.43" r="0.42" fill="#dcdcdc"/>
<circle cx="321.61" cy="359.64" r="0.42" fill="#dcdcdc"/>
<circle cx="332.28" cy="353.85" r="0.42" fill="#dcdcdc"/>
<circle cx="340.56" cy="380.61" r="0.42" fill="#dcdcdc"/>
<circle cx="302.57" cy="387.89" r="0.42" fill="#dcdcdc"/>
<circle cx="329.36" cy="354.7" r="0.42" fill="#dcdcdc"/>
<circle cx="323.59" cy="351.9" r="0.42" fill="#dcdcdc"/>
<circle cx="311.13" cy="381.84" r="0.42" fill="#dcdcdc"/>
<circle cx="352.62" cy="390.04" r="0.42" fill="#dcdcdc"/>
<circle cx="301.95" cy="386.04" r="0.42" fill="#dcdcdc"/>
<circle cx="338.35" cy="387.98" r="0.42" fill="#dcdcdc"/>
<circle cx="305.83" cy="369.37" r="0.42" fill="#dcdcdc"/>
<circle cx="303.58" cy="384.26" r="0.42" fill="#dcdcdc"/>
<circle cx="324.7" cy="361.75" r="0.42" fill="#dcdcdc"/>
<circle cx="351.71" cy="385.36" r="0.42" fill="#dcdcdc"/>
<circle cx="336.93" cy="372.47" r="0.42" fill="#dcdcdc"/>
<circle cx="359.43" cy="369.41" r="0.42" fill="#dcdcdc"/>
<circle cx="348.97" cy="389.33" r="0.42" fill="#dcdcdc"/>
<circle cx="322.74" cy="384.06" r="0.42" fill="#dcdcdc"/>
<circle cx="358.16" cy="377.65" r="0.42" fill="#dcdcdc"/>
<circle cx="306.18" cy="382.94" r="0.42" fill="#dcdcdc"/>
<circle cx="328.09" cy="346.71" r="0.42" fill="#dcdcdc"/>
<circle cx="348.05" cy="361.36" r="0.42" fill="#dcdcdc"/>
<circle cx="329.05" cy="390.34" r="0.42" fill="#dcdcdc"/>
<circle cx="306.92" cy="342.26" r="0.42" fill="#dcdcdc"/>
<circle cx="339.07" cy="357.41" r="0.42" fill="#dcdcdc"/>
<circle cx="295.46" cy="365.34" r="0.42" fill="#dcdcdc"/>
<circle cx="322.95" cy="364.19" r="0.42" fill="#dcdcdc"/>
<circle cx="360.23" cy="339.93" r="0.42" fill="#dcdcdc"/>
<circle cx="304.95" cy="385.27" r="0.42" fill="#dcdcdc"/>
<circle cx="355.48" cy="365.23" r="0.42" fill="#dcdcdc"/>
<circle cx="353.84" cy="331.65" r="0.42" fill="#dcdcdc"/>
<circle cx="346.27" cy="386.02" r="0.42" fill="#dcdcdc"/>
<circle cx="339.12" cy="362.86" r="0.42" fill="#dcdcdc"/>
<circle cx="342.26" cy="373.98" r="0.42" fill="#dcdcdc"/>
<circle cx="330.91" cy="382.37" r="0.42" fill="#dcdcdc"/>
<circle cx="351.54" cy="329.78" r="0.42" fill="#dcdcdc"/>
<circle cx="306.76" cy="368.75" r="0.42" fill="#dcdcdc"/>
<circle cx="342.67" cy="367.69" r="0.42" fill="#dcdcdc"/>
<circle cx="327.89" cy="369.4" r="0.42" fill="#dcdcdc"/>
<circle cx="338.49" cy="365.94" r="0.42" fill="#dcdcdc"/>
<circle cx="341.45" cy="389.06" r="0.42" fill="#dcdcdc"/>
<circle cx="344.86" cy="366.25" r="0.42" fill="#dcdcdc"/>
<circle cx="301.03" cy="363.39" r="0.42" fill="#dcdcdc"/>
<circle cx="356.75" cy="389.99" r="0.42" fill="#dcdcdc"/>
<circle cx="342.32" cy="390.27" r="0.42" fill="#dcdcdc"/>
<circle cx="315.38" cy="388.37" r="0.42" fill="#dcdcdc"/>
<circle cx="360.65" cy="375" r="0.42" fill="#dcdcdc"/>
<circle cx="309.08" cy="352.04" r="0.42" fill="#dcdcdc"/>
<circle cx="348.07" cy="358.53" r="0.42" fill="#dcdcdc"/>
<circle cx="334.2" cy="376.41" r="0.42" fill="#dcdcdc"/>
<circle cx="327.35" cy="367.91" r="0.42" fill="#dcdcdc"/>
<circle cx="327.15" cy="362.38" r="0.42" fill="#dcdcdc"/>
<circle cx="309.36" cy="334.42" r="0.42" fill="#dcdcdc"/>
<circle cx="343.05" cy="377.52" r="0.42" fill="#dcdcdc"/>
<circle cx="310.9" cy="381.52" r="0.42" fill="#dcdcdc"/>
<circle cx="360.87" cy="381.48" r="0.42" fill="#dcdcdc"/>
<circle cx="351.4" cy="352.21" r="0.42" fill="#dcdcdc"/>
<circle cx="352.99" cy="370.63" r="0.42" fill="#dcdcdc"/>
<circle cx="335.12" cy="359.06" r="0.42" fill="#dcdcdc"/>
<circle cx="329.12" cy="362.88" r="0.42" fill="#dcdcdc"/>
<circle cx="350.08" cy="362.04" r="0.42" fill="#dcdcdc"/>
<circle cx="304.02" cy="360.88" r="0.42" fill="#dcdcdc"/>
<circle cx="304.26" cy="382.09" r="0.42" fill="#dcdcdc"/>
<circle cx="344.04" cy="370.07" r="0.42" fill="#dcdcdc"/>
<circle cx="351.29" cy="363.52" r="0.42" fill="#dcdcdc"/>
<circle cx="303.06" cy="377.38" r="0.42" fill="#dcdcdc"/>
<circle cx="309.63" cy="387.03" r="0.42" fill="#dcdcdc"/>
<circle cx="348.08" cy="358.41" r="0.42" fill="#dcdcdc"/>
<circle cx="353.48" cy="332.43" r="0.42" fill="#dcdcdc"/>
<circle cx="316.35" cy="351.69" r="0.42" fill="#dcdcdc"/>
<circle cx="348.8" cy="384.57" r="0.42" fill="#dcdcdc"/>
<circle cx="297.05" cy="373.07" r="0.42" fill="#dcdcdc"/>
<circle cx="335.45" cy="331.87" r="0.42" fill="#dcdcdc"/>
<circle cx="320.41" cy="379.25" r="0.42" fill="#dcdcdc"/>
<circle cx="296.39" cy="366.55" r="0.42" fill="#dcdcdc"/>
<circle cx="356.15" cy="390.51" r="0.42" fill="#dcdcdc"/>
<circle cx="331.1" cy="382.13" r="0.42" fill="#dcdcdc"/>
<circle cx="340.61" cy="378.78" r="0.42" fill="#dcdcdc"/>
<circle cx="308.73" cy="353.16" r="0.42" fill="#dcdcdc"/>
<circle cx="340.49" cy="379.32" r="0.42" fill="#dcdcdc"/>
<circle cx="327.89" cy="369.16" r="0.42" fill="#dcdcdc"/>
<circle cx="341.61" cy="386.52" r="0.42" fill="#dcdcdc"/>
<circle cx="352.91" cy="391.11" r="0.42" fill="#dcdcdc"/>
<circle cx="328.82" cy="371.27" r="0.42" fill="#dcdcdc"/>
<circle cx="319.27" cy="371.5" r="0.42" fill="#dcdcdc"/>
<circle cx="303.54" cy="390.74" r="0.42" fill="#dcdcdc"/>
<circle cx="303.29" cy="375.18" r="0.42" fill="#dcdcdc"/>
<circle cx="356.22" cy="344.95" r="0.42" fill="#dcdcdc"/>
<circle cx="311.63" cy="370.41" r="0.42" fill="#dcdcdc"/>
<circle cx="339.83" cy="336.68" r="0.42" fill="#dcdcdc"/>
<circle cx="360.82" cy="383.53" r="0.42" fill="#dcdcdc"/>
<circle cx="321.7" cy="385.7" r="0.42" fill="#dcdcdc"/>
<circle cx="351.47" cy="338.76" r="0.42" fill="#dcdcdc"/>
<circle cx="323.96" cy="383.47" r="0.42" fill="#dcdcdc"/>
<circle cx="309.76" cy="374" r="0.42" fill="#dcdcdc"/>
<circle cx="324.19" cy="381.17" r="0.42" fill="#dcdcdc"/>
<circle cx="354.18" cy="384.15" r="0.42" fill="#dcdcdc"/>
<circle cx="305.02" cy="384.4" r="0.42" fill="#dcdcdc"/>
<circle cx="331.4" cy="363.57" r="0.42" fill="#dcdcdc"/>
<circle cx="295.47" cy="376.48" r="0.42" fill="#dcdcdc"/>
<circle cx="295.27" cy="349.32" r="0.42" fill="#dcdcdc"/>
<circle cx="347.08" cy="391.27" r="0.42" fill="#dcdcdc"/>
<circle cx="349.59" cy="343.96" r="0.42" fill="#dcdcdc"/>
<circle cx="332.7" cy="388.01" r="0.42" fill="#dcdcdc"/>
<circle cx="351.58" cy="388.26" r="0.42" fill="#dcdcdc"/>
<circle cx="339.54" cy="345.15" r="0.42" fill="#dcdcdc"/>
<circle cx="345.61" cy="344.76" r="0.42" fill="#dcdcdc"/>
<circle cx="356.02" cy="359.48" r="0.42" fill="#dcdcdc"/>
<circle cx="345.69" cy="387.71" r="0.42" fill="#dcdcdc"/>
<circle cx="316.36" cy="374.16" r="0.42" fill="#dcdcdc"/>
<circle cx="313.27" cy="391.31" r="0.42" fill="#dcdcdc"/>
<circle cx="324.69" cy="347.78" r="0.42" fill="#dcdcdc"/>
<circle cx="338.12" cy="365.83" r="0.42" fill="#dcdcdc"/>
<circle cx="309.1" cy="339.33" r="0.42" fill="#dcdcdc"/>
<circle cx="303.63" cy="347.29" r="0.42" fill="#dcdcdc"/>
<circle cx="350.43" cy="376.54" r="0.42" fill="#dcdcdc"/>
<circle cx="353.59" cy="379.81" r="0.42" fill="#dcdcdc"/>
<circle cx="320.75" cy="386.74" r="0.42" fill="#dcdcdc"/>
<circle cx="346.33" cy="361.41" r="0.42" fill="#dcdcdc"/>
<circle cx="298.65" cy="367.25" r="0.42" fill="#dcdcdc"/>
<circle cx="324" cy="373.53" r="0.42" fill="#dcdcdc"/>
<circle cx="358.98" cy="386.99" r="0.42" fill="#dcdcdc"/>
<circle cx="343.75" cy="375.43" r="0.42" fill="#dcdcdc"/>
<circle cx="325.84" cy="381.34" r="0.42" fill="#dcdcdc"/>
<circle cx="319.78" cy="362.43" r="0.42" fill="#dcdcdc"/>
<circle cx="355.72" cy="361.61" r="0.42" fill="#dcdcdc"/>
<circle cx="313.76" cy="330.75" r="0.42" fill="#dcdcdc"/>
<circle cx="316.43" cy="362.17" r="0.42" fill="#dcdcdc"/>
<circle cx="311.89" cy="367.66" r="0.42" fill="#dcdcdc"/>
<circle cx="325.95" cy="363.11" r="0.42" fill="#dcdcdc"/>
<circle cx="347.14" cy="336.91" r="0.42" fill="#dcdcdc"/>
<circle cx="301.88" cy="343.91" r="0.42" fill="#dcdcdc"/>
<circle cx="329.17" cy="350.12" r="0.42" fill="#dcdcdc"/>
<circle cx="358.47" cy="343.07" r="0.42" fill="#dcdcdc"/>
<circle cx="299.76" cy="359.59" r="0.42" fill="#dcdcdc"/>
<circle cx="352.42" cy="390.05" r="0.42" fill="#dcdcdc"/>
<circle cx="357.15" cy="379.75" r="0.42" fill="#dcdcdc"/>
<circle cx="325.73" cy="359.11" r="0.42" fill="#dcdcdc"/>
<circle cx="337.83" cy="361.86" r="0.42" fill="#dcdcdc"/>
<circle cx="358.16" cy="389.89" r="0.42" fill="#dcdcdc"/>
<circle cx="338.45" cy="341.15" r="0.42" fill="#dcdcdc"/>
<circle cx="297.73" cy="345.61" r="0.42" fill="#dcdcdc"/>
<circle cx="317.7" cy="367.66" r="0.42" fill="#dcdcdc"/>
<circle cx="342.37" cy="383.51" r="0.42" fill="#dcdcdc"/>
<circle cx="319.72" cy="367.01" r="0.42" fill="#dcdcdc"/>
<circle cx="303.83" cy="335.71" r="0.42" fill="#dcdcdc"/>
<circle cx="309.89" cy="358.36" r="0.42" fill="#dcdcdc"/>
<circle cx="295.84" cy="366.88" r="0.42" fill="#dcdcdc"/>
<circle cx="320.61" cy="345.61" r="0.42" fill="#dcdcdc"/>
<circle cx="353.09" cy="377.02" r="0.42" fill="#dcdcdc"/>
<circle cx="338.39" cy="356.8" r="0.42" fill="#dcdcdc"/>
<circle cx="347.15" cy="328.83" r="0.42" fill="#dcdcdc"/>
<circle cx="348.84" cy="383.68" r="0.42" fill="#dcdcdc"/>
<circle cx="299.02" cy="342.02" r="0.42" fill="#dcdcdc"/>
<circle cx="347.14" cy="355.54" r="0.42" fill="#dcdcdc"/>
<circle cx="330.73" cy="334.84" r="0.42" fill="#dcdcdc"/>
<circle cx="327.82" cy="380.94" r="0.42" fill="#dcdcdc"/>
<circle cx="301.33" cy="378.66" r="0.42" fill="#dcdcdc"/>
<circle cx="326.27" cy="384.38" r="0.42" fill="#dcdcdc"/>
<circle cx="349.93" cy="384.25" r="0.42" fill="#dcdcdc"/>
<circle cx="338.74" cy="360.42" r="0.42" fill="#dcdcdc"/>
<circle cx="325.78" cy="391.15" r="0.42" fill="#dcdcdc"/>
<circle cx="306.23" cy="334.49" r="0.42" fill="#dcdcdc"/>
<circle cx="354.3" cy="379.62" r="0.42" fill="#dcdcdc"/>
<circle cx="304.5" cy="363.92" r="0.42" fill="#dcdcdc"/>
<circle cx="335.79" cy="389.46" r="0.42" fill="#dcdcdc"/>
<circle cx="302.85" cy="380.43" r="0.42" fill="#dcdcdc"/>
<circle cx="320.72" cy="346.97" r="0.42" fill="#dcdcdc"/>
<circle cx="330.42" cy="369.86" r="0.42" fill="#dcdcdc"/>
<circle cx="312.65" cy="366.19" r="0.42" fill="#dcdcdc"/>
<circle cx="300.57" cy="378.47" r="0.42" fill="#dcdcdc"/>
<circle cx="337.82" cy="349.17" r="0.42" fill="#dcdcdc"/>
<circle cx="315.54" cy="361.79" r="0.42" fill="#dcdcdc"/>
<circle cx="339.55" cy="373.44" r="0.42" fill="#dcdcdc"/>
<circle cx="318.73" cy="388.66" r="0.42" fill="#dcdcdc"/>
<circle cx="329.77" cy="374.72" r="0.42" fill="#dcdcdc"/>
<circle cx="340.79" cy="381.57" r="0.42" fill="#dcdcdc"/>
<circle cx="302.78" cy="376.34" r="0.42" fill="#dcdcdc"/>
<circle cx="348.31" cy="388.2" r="0.42" fill="#dcdcdc"/>
<circle cx="301.42" cy="353.19" r="0.42" fill="#dcdcdc"/>
<circle cx="305.29" cy="346.07" r="0.42" fill="#dcdcdc"/>
<circle cx="360.98" cy="359.18" r="0.42" fill="#dcdcdc"/>
<circle cx="355.29" cy="380.36" r="0.42" fill="#dcdcdc"/>
<circle cx="300.51" cy="371.66" r="0.42" fill="#dcdcdc"/>
<circle cx="324.37" cy="385.23" r="0.42" fill="#dcdcdc"/>
<circle cx="350.14" cy="389.02" r="0.42" fill="#dcdcdc"/>
<circle cx="321.21" cy="372.02" r="0.42" fill="#dcdcdc"/>
<circle cx="302.52" cy="383.35" r="0.42" fill="#dcdcdc"/>
<circle cx="354.18" cy="387.35" r="0.42" fill="#dcdcdc"/>
<circle cx="341.39" cy="359.44" r="0.42" fill="#dcdcdc"/>
<circle cx="347.71" cy="360.54" r="0.42" fill="#dcdcdc"/>
<circle cx="331.27" cy="382.52" r="0.42" fill="#dcdcdc"/>
<circle cx="325.51" cy="377.14" r="0.42" fill="#dcdcdc"/>
<circle cx="341.45" cy="353.17" r="0.42" fill="#dcdcdc"/>
<circle cx="327.31" cy="368.27" r="0.42" fill="#dcdcdc"/>
<circle cx="347.98" cy="344.11" r="0.42" fill="#dcdcdc"/>
<circle cx="309.08" cy="385.92" r="0.42" fill="#dcdcdc"/>
<circle cx="335.92" cy="371.28" r="0.42" fill="#dcdcdc"/>
<circle cx="304.92" cy="391.38" r="0.42" fill="#dcdcdc"/>
<circle cx="324.48" cy="389.93" r="0.42" fill="#dcdcdc"/>
<circle cx="314.95" cy="343.61" r="0.42" fill="#dcdcdc"/>
<circle cx="360.08" cy="382.91" r="0.42" fill="#dcdcdc"/>
<circle cx="317.72" cy="338.24" r="0.42" fill="#dcdcdc"/>
<circle cx="306.11" cy="391.55" r="0.42" fill="#dcdcdc"/>
<circle cx="306.38" cy="384.72" r="0.42" fill="#dcdcdc"/>
<circle cx="313.91" cy="363.69" r="0.42" fill="#dcdcdc"/>
<circle cx="349.25" cy="362.64" r="0.42" fill="#dcdcdc"/>
<circle cx="300.9" cy="379.01" r="0.42" fill="#dcdcdc"/>
<circle cx="344.53" cy="372.77" r="0.42" fill="#dcdcdc"/>
<circle cx="346.48" cy="369.52" r="0.42" fill="#dcdcdc"/>
<circle cx="326.75" cy="371.72" r="0.42" fill="#dcdcdc"/>
<circle cx="309.27" cy="368.76" r="0.42" fill="#dcdcdc"/>
<circle cx="342.96" cy="384.47" r="0.42" fill="#dcdcdc"/>
<circle cx="344.02" cy="347.15" r="0.42" fill="#dcdcdc"/>
<circle cx="356.61" cy="389.31" r="0.42" fill="#dcdcdc"/>
<circle cx="319.25" cy="350.43" r="0.42" fill="#dcdcdc"/>
<circle cx="357.65" cy="370.35" r="0.42" fill="#dcdcdc"/>
<circle cx="359.3" cy="390.18" r="0.42" fill="#dcdcdc"/>
<circle cx="300.68" cy="372.26" r="0.42" fill="#dcdcdc"/>
<circle cx="356.07" cy="384.1" r="0.42" fill="#dcdcdc"/>
<circle cx="296.95" cy="387.96" r="0.42" fill="#dcdcdc"/>
<circle cx="300.88" cy="385.36" r="0.42" fill="#dcdcdc"/>
<circle cx="309.48" cy="345.24" r="0.42" fill="#dcdcdc"/>
<circle cx="330.72" cy="383.64" r="0.42" fill="#dcdcdc"/>
<circle cx="323.23" cy="378.62" r="0.42" fill="#dcdcdc"/>
<circle cx="347.5" cy="391.58" r="0.42" fill="#dcdcdc"/>
<circle cx="354.29" cy="348.04" r="0.42" fill="#dcdcdc"/>
<circle cx="302.2" cy="346.87" r="0.42" fill="#dcdcdc"/>
<circle cx="360.16" cy="354.31" r="0.42" fill="#dcdcdc"/>
<circle cx="345.6" cy="370.73" r="0.42" fill="#dcdcdc"/>
<circle cx="319.5" cy="389.12" r="0.42" fill="#dcdcdc"/>
<circle cx="342.71" cy="361.15" r="0.42" fill="#dcdcdc"/>
<circle cx="338" cy="387.38" r="0.42" fill="#dcdcdc"/>
<circle cx="309.58" cy="386.6" r="0.42" fill="#dcdcdc"/>
<circle cx="332.9" cy="364.5" r="0.42" fill="#dcdcdc"/>
<circle cx="343.8" cy="340.88" r="0.42" fill="#dcdcdc"/>
<circle cx="328.24" cy="356.06" r="0.42" fill="#dcdcdc"/>
<circle cx="310.35" cy="391.32" r="0.42" fill="#dcdcdc"/>
<circle cx="299.5" cy="390.16" r="0.42" fill="#dcdcdc"/>
<circle cx="323.04" cy="337.94" r="0.42" fill="#dcdcdc"/>
<circle cx="305.55" cy="359.34" r="0.42" fill="#dcdcdc"/>
<circle cx="316.02" cy="336.67" r="0.42" fill="#dcdcdc"/>
<circle cx="348.04" cy="348.25" r="0.42" fill="#dcdcdc"/>
<circle cx="310.66" cy="372.71" r="0.42" fill="#dcdcdc"/>
<circle cx="351.04" cy="384.48" r="0.42" fill="#dcdcdc"/>
<circle cx="342.88" cy="371.09" r="0.42" fill="#dcdcdc"/>
<circle cx="316.2" cy="365.08" r="0.42" fill="#dcdcdc"/>
<circle cx="329.45" cy="380.03" r="0.42" fill="#dcdcdc"/>
<circle cx="348.03" cy="344.56" r="0.42" fill="#dcdcdc"/>
<circle cx="359.38" cy="387.58" r="0.42" fill="#dcdcdc"/>
<circle cx="307.27" cy="389.57" r="0.42" fill="#dcdcdc"/>
<circle cx="325.96" cy="371.22" r="0.42" fill="#dcdcdc"/>
<circle cx="333.57" cy="362.57" r="0.42" fill="#dcdcdc"/>
<circle cx="358.46" cy="366.98" r="0.42" fill="#dcdcdc"/>
<circle cx="296.63" cy="349.69" r="0.42" fill="#dcdcdc"/>
<circle cx="332.09" cy="371.82" r="0.42" fill="#dcdcdc"/>
<circle cx="344.03" cy="338.45" r="0.42" fill="#dcdcdc"/>
<circle cx="333.24" cy="366.99" r="0.42" fill="#dcdcdc"/>
<circle cx="327.44" cy="371.17" r="0.42" fill="#dcdcdc"/>
<circle cx="353.81" cy="369.92" r="0.42" fill="#dcdcdc"/>
<circle cx="332.05" cy="386.64" r="0.42" fill="#dcdcdc"/>
<circle cx="321.64" cy="372.73" r="0.42" fill="#dcdcdc"/>
<circle cx="337.17" cy="368.37" r="0.42" fill="#dcdcdc"/>
<circle cx="350.89" cy="364.19" r="0.42" fill="#dcdcdc"/>
<circle cx="316.09" cy="368.71" r="0.42" fill="#dcdcdc"/>
<circle cx="298.32" cy="345.74" r="0.42" fill="#dcdcdc"/>
<circle cx="333.49" cy="353.31" r="0.42" fill="#dcdcdc"/>
<circle cx="307.86" cy="368.32" r="0.42" fill="#dcdcdc"/>
<circle cx="318.3" cy="331.52" r="0.42" fill="#dcdcdc"/>
<circle cx="337.68" cy="371.93" r="0.42" fill="#dcdcdc"/>
<circle cx="314.72" cy="370.55" r="0.42" fill="#dcdcdc"/>
<circle cx="311.29" cy="374.47" r="0.42" fill="#dcdcdc"/>
<circle cx="314.65" cy="384.18" r="0.42" fill="#dcdcdc"/>
<circle cx="326.4" cy="373.52" r="0.42" fill="#dcdcdc"/>
<circle cx="348.37" cy="388.99" r="0.42" fill="#dcdcdc"/>
<circle cx="321.39" cy="387.94" r="0.42" fill="#dcdcdc"/>
<circle cx="314.01" cy="352.76" r="0.42" fill="#dcdcdc"/>
<circle cx="335.28" cy="377.39" r="0.42" fill="#dcdcdc"/>
<circle cx="339.16" cy="355.72" r="0.42" fill="#dcdcdc"/>
<circle cx="321.04" cy="375.92" r="0.42" fill="#dcdcdc"/>
<circle cx="309.85" cy="373.31" r="0.42" fill="#dcdcdc"/>
<circle cx="310.24" cy="367.37" r="0.42" fill="#dcdcdc"/>
<circle cx="360.45" cy="332.02" r="0.42" fill="#dcdcdc"/>
<circle cx="319.04" cy="355.58" r="0.42" fill="#dcdcdc"/>
<circle cx="317.43" cy="389.16" r="0.42" fill="#dcdcdc"/>
<circle cx="351.75" cy="382.63" r="0.42" fill="#dcdcdc"/>
<circle cx="309.22" cy="386.69" r="0.42" fill="#dcdcdc"/>
<circle cx="348.37" cy="386.98" r="0.42" fill="#dcdcdc"/>
<circle cx="357.53" cy="365.32" r="0.42" fill="#dcdcdc"/>
<circle cx="360.14" cy="367.17" r="0.42" fill="#dcdcdc"/>
<circle cx="358.95" cy="378.18" r="0.42" fill="#dcdcdc"/>
<circle cx="297.74" cy="331.51" r="0.42" fill="#dcdcdc"/>
<circle cx="359.41" cy="388.72" r="0.42" fill="#dcdcdc"/>
<circle cx="311.67" cy="385.7" r="0.42" fill="#dcdcdc"/>
<circle cx="352.32" cy="391.5" r="0.42" fill="#dcdcdc"/>
<circle cx="310.84" cy="383.05" r="0.42" fill="#dcdcdc"/>
<circle cx="300.74" cy="363.89" r="0.42" fill="#dcdcdc"/>
<circle cx="332.64" cy="353.57" r="0.42" fill="#dcdcdc"/>
<circle cx="344.04" cy="374.55" r="0.42" fill="#dcdcdc"/>
<circle cx="337.11" cy="349.28" r="0.42" fill="#dcdcdc"/>
<circle cx="350.13" cy="373.94" r="0.42" fill="#dcdcdc"/>
<circle cx="343.78" cy="383.46" r="0.42" fill="#dcdcdc"/>
<circle cx="308.66" cy="370.21" r="0.42" fill="#dcdcdc"/>
<circle cx="323.72" cy="341.32" r="0.42" fill="#dcdcdc"/>
<circle cx="352.59" cy="367.61" r="0.42" fill="#dcdcdc"/>
<circle cx="343.51" cy="367.83" r="0.42" fill="#dcdcdc"/>
<circle cx="338.51" cy="371.18" r="0.42" fill="#dcdcdc"/>
<circle cx="347.84" cy="387.33" r="0.42" fill="#dcdcdc"/>
<circle cx="299.95" cy="342.32" r="0.42" fill="#dcdcdc"/>
<circle cx="342.99" cy="363.85" r="0.42" fill="#dcdcdc"/>
<circle cx="314.78" cy="388.97" r="0.42" fill="#dcdcdc"/>
<circle cx="323.62" cy="359.68" r="0.42" fill="#dcdcdc"/>
<circle cx="309.22" cy="369.54" r="0.42" fill="#dcdcdc"/>
<circle cx="359.53" cy="373.39" r="0.42" fill="#dcdcdc"/>
<circle cx="319.07" cy="358.4" r="0.42" fill="#dcdcdc"/>
<circle cx="339.95" cy="353.89" r="0.42" fill="#dcdcdc"/>
<circle cx="296.67" cy="375.97" r="0.42" fill="#dcdcdc"/>
<circle cx="348.44" cy="360.38" r="0.42" fill="#dcdcdc"/>
<circle cx="316.58" cy="386.84" r="0.42" fill="#dcdcdc"/>
<circle cx="358.83" cy="371.06" r="0.42" fill="#dcdcdc"/>
<circle cx="323.55" cy="331.12" r="0.42" fill="#dcdcdc"/>
<circle cx="309.26" cy="372.94" r="0.42" fill="#dcdcdc"/>
<circle cx="336.34" cy="381.2" r="0.42" fill="#dcdcdc"/>
<circle cx="336.23" cy="350.99" r="0.42" fill="#dcdcdc"/>
<circle cx="348.56" cy="385.68" r="0.42" fill="#dcdcdc"/>
<circle cx="347.01" cy="384.55" r="0.42" fill="#dcdcdc"/>
<circle cx="326.23" cy="366.49" r="0.42" fill="#dcdcdc"/>
<circle cx="339.14" cy="382.21" r="0.42" fill="#dcdcdc"/>
<circle cx="320.51" cy="378.55" r="0.42" fill="#dcdcdc"/>
<circle cx="354.99" cy="367.13" r="0.42" fill="#dcdcdc"/>
<circle cx="298.55" cy="377.69" r="0.42" fill="#dcdcdc"/>
<circle cx="296.35" cy="343.78" r="0.42" fill="#dcdcdc"/>
<circle cx="355.97" cy="346.98" r="0.42" fill="#dcdcdc"/>
<circle cx="319.04" cy="354.45" r="0.42" fill="#dcdcdc"/>
<circle cx="306.42" cy="338.2" r="0.42" fill="#dcdcdc"/>
<circle cx="353.1" cy="383.65" r="0.42" fill="#dcdcdc"/>
<circle cx="324.32" cy="373.75" r="0.42" fill="#dcdcdc"/>
<circle cx="348.91" cy="350.98" r="0.42" fill="#dcdcdc"/>
<circle cx="348.01" cy="381.88" r="0.42" fill="#dcdcdc"/>
<circle cx="319.25" cy="386.86" r="0.42" fill="#dcdcdc"/>
<circle cx="300.97" cy="359.88" r="0.42" fill="#dcdcdc"/>
<circle cx="358.04" cy="361.84" r="0.42" fill="#dcdcdc"/>
<circle cx="352.19" cy="378.91" r="0.42" fill="#dcdcdc"/>
<circle cx="354.13" cy="365.66" r="0.42" fill="#dcdcdc"/>
<circle cx="298.69" cy="373.21" r="0.42" fill="#dcdcdc"/>
<circle cx="360.32" cy="386.79" r="0.42" fill="#dcdcdc"/>
<circle cx="306.7" cy="384.84" r="0.42" fill="#dcdcdc"/>
<circle cx="359.45" cy="339.58" r="0.42" fill="#dcdcdc"/>
<circle cx="347.57" cy="342.12" r="0.42" fill="#dcdcdc"/>
<circle cx="348.13" cy="385.48" r="0.42" fill="#dcdcdc"/>
<circle cx="316.09" cy="335.17" r="0.42" fill="#dcdcdc"/>
<circle cx="340.15" cy="383.22" r="0.42" fill="#dcdcdc"/>
<circle cx="353.01" cy="369.82" r="0.42" fill="#dcdcdc"/>
<circle cx="297.32" cy="365.62" r="0.42" fill="#dcdcdc"/>
<circle cx="337.46" cy="366.7" r="0.42" fill="#dcdcdc"/>
<circle cx="303.58" cy="352.35" r="0.42" fill="#dcdcdc"/>
<circle cx="323.77" cy="351.84" r="0.42" fill="#dcdcdc"/>
<circle cx="319.02" cy="383.81" r="0.42" fill="#dcdcdc"/>
<circle cx="304.57" cy="373.45" r="0.42" fill="#dcdcdc"/>
<circle cx="317.58" cy="391.07" r="0.42" fill="#dcdcdc"/>
<circle cx="334.11" cy="342.52" r="0.42" fill="#dcdcdc"/>
<circle cx="324.72" cy="355.77" r="0.42" fill="#dcdcdc"/>
<circle cx="347.25" cy="354.03" r="0.42" fill="#dcdcdc"/>
<circle cx="344.31" cy="333.97" r="0.42" fill="#dcdcdc"/>
<circle cx="315.29" cy="391.01" r="0.42" fill="#dcdcdc"/>
<circle cx="348.23" cy="387.66" r="0.42" fill="#dcdcdc"/>
<circle cx="347.06" cy="382.31" r="0.42" fill="#dcdcdc"/>
<circle cx="313.87" cy="370.34" r="0.42" fill="#dcdcdc"/>
<circle cx="302.11" cy="369.6" r="0.42" fill="#dcdcdc"/>
<circle cx="301.55" cy="374.75" r="0.42" fill="#dcdcdc"/>
<circle cx="336.45" cy="383.17" r="0.42" fill="#dcdcdc"/>
<circle cx="311.61" cy="363.48" r="0.42" fill="#dcdcdc"/>
<circle cx="322.4" cy="371.57" r="0.42" fill="#dcdcdc"/>
<circle cx="353.7" cy="345.55" r="0.42" fill="#dcdcdc"/>
<circle cx="312.14" cy="359.59" r="0.42" fill="#dcdcdc"/>
<circle cx="346.29" cy="369.75" r="0.42" fill="#dcdcdc"/>
<circle cx="328.41" cy="366.56" r="0.42" fill="#dcdcdc"/>
<circle cx="336.4" cy="368.85" r="0.42" fill="#dcdcdc"/>
<circle cx="355.67" cy="379.08" r="0.42" fill="#dcdcdc"/>
<circle cx="312.7" cy="363.76" r="0.42" fill="#dcdcdc"/>
<circle cx="342.75" cy="377.81" r="0.42" fill="#dcdcdc"/>
<circle cx="335.84" cy="386.35" r="0.42" fill="#dcdcdc"/>
<circle cx="318.68" cy="369.16" r="0.42" fill="#dcdcdc"/>
<circle cx="350.21" cy="388.02" r="0.42" fill="#dcdcdc"/>
<circle cx="337.78" cy="358.27" r="0.42" fill="#dcdcdc"/>
<circle cx="333.69" cy="382.38" r="0.42" fill="#dcdcdc"/>
<circle cx="351.78" cy="386.59" r="0.42" fill="#dcdcdc"/>
<circle cx="337.14" cy="343.21" r="0.42" fill="#dcdcdc"/>
<circle cx="313.88" cy="354.95" r="0.42" fill="#dcdcdc"/>
<circle cx="324.13" cy="382.34" r="0.42" fill="#dcdcdc"/>
<circle cx="301.39" cy="389.17" r="0.42" fill="#dcdcdc"/>
<circle cx="299.87" cy="366.74" r="0.42" fill="#dcdcdc"/>
<circle cx="313.45" cy="389.29" r="0.42" fill="#dcdcdc"/>
<circle cx="330.21" cy="389.38" r="0.42" fill="#dcdcdc"/>
<circle cx="324.31" cy="364.21" r="0.42" fill="#dcdcdc"/>
<circle cx="304.39" cy="338.19" r="0.42" fill="#dcdcdc"/>
<circle cx="352.89" cy="374.76" r="0.42" fill="#dcdcdc"/>
<circle cx="305.22" cy="349.1" r="0.42" fill="#dcdcdc"/>
<circle cx="359.75" cy="345.8" r="0.42" fill="#dcdcdc"/>
<circle cx="341.54" cy="354.99" r="0.42" fill="#dcdcdc"/>
<circle cx="331.48" cy="390.25" r="0.42" fill="#dcdcdc"/>
<circle cx="321.51" cy="386.71" r="0.42" fill="#dcdcdc"/>
<circle cx="349.68" cy="386.12" r="0.42" fill="#dcdcdc"/>
<circle cx="346.11" cy="389.09" r="0.42" fill="#dcdcdc"/>
<circle cx="305.38" cy="357.1" r="0.42" fill="#dcdcdc"/>
<circle cx="359.3" cy="380.06" r="0.42" fill="#dcdcdc"/>
<circle cx="352.73" cy="365.88" r="0.42" fill="#dcdcdc"/>
<circle cx="356.84" cy="342.13" r="0.42" fill="#dcdcdc"/>
<circle cx="328.62" cy="342.59" r="0.42" fill="#dcdcdc"/>
<circle cx="322.79" cy="381.97" r="0.42" fill="#dcdcdc"/>
<circle cx="335.03" cy="343.66" r="0.42" fill="#dcdcdc"/>
<circle cx="355.13" cy="377.84" r="0.42" fill="#dcdcdc"/>
<circle cx="312.71" cy="371.86" r="0.42" fill="#dcdcdc"/>
<circle cx="313.98" cy="371.42" r="0.42" fill="#dcdcdc"/>
<circle cx="306.47" cy="386.11" r="0.42" fill="#dcdcdc"/>
<circle cx="330.04" cy="368.1" r="0.42" fill="#dcdcdc"/>
<circle cx="346.31" cy="359.14" r="0.42" fill="#dcdcdc"/>
<circle cx="347.83" cy="387.49" r="0.42" fill="#dcdcdc"/>
<circle cx="315.16" cy="358.5" r="0.42" fill="#dcdcdc"/>
<circle cx="332.6" cy="377.64" r="0.42" fill="#dcdcdc"/>
<circle cx="295.79" cy="354.64" r="0.42" fill="#dcdcdc"/>
<circle cx="344.41" cy="363.26" r="0.42" fill="#dcdcdc"/>
<circle cx="325.85" cy="359.02" r="0.42" fill="#dcdcdc"/>
<circle cx="329.07" cy="355.85" r="0.42" fill="#dcdcdc"/>
<circle cx="314.75" cy="348.09" r="0.42" fill="#dcdcdc"/>
<circle cx="335.13" cy="380.37" r="0.42" fill="#dcdcdc"/>
<circle cx="324.36" cy="380.16" r="0.42" fill="#dcdcdc"/>
<circle cx="351.86" cy="389.39" r="0.42" fill="#dcdcdc"/>
<circle cx="302.51" cy="336.77" r="0.42" fill="#dcdcdc"/>
<circle cx="339.04" cy="376.35" r="0.42" fill="#dcdcdc"/>
<circle cx="316.67" cy="369.67" r="0.42" fill="#dcdcdc"/>
<circle cx="331.16" cy="365.97" r="0.42" fill="#dcdcdc"/>
<circle cx="326.42" cy="370.06" r="0.42" fill="#dcdcdc"/>
<circle cx="341.4" cy="383.64" r="0.42" fill="#dcdcdc"/>
<circle cx="333.66" cy="369.14" r="0.42" fill="#dcdcdc"/>
<circle cx="323.22" cy="386.11" r="0.42" fill="#dcdcdc"/>
<circle cx="328.38" cy="388.68" r="0.42" fill="#dcdcdc"/>
<circle cx="359.13" cy="372.45" r="0.42" fill="#dcdcdc"/>
<circle cx="331.3" cy="385.08" r="0.42" fill="#dcdcdc"/>
<circle cx="309.81" cy="350.25" r="0.42" fill="#dcdcdc"/>
<circle cx="298.89" cy="371.74" r="0.42" fill="#dcdcdc"/>
<circle cx="324.31" cy="376.83" r="0.42" fill="#dcdcdc"/>
<circle cx="348.97" cy="388.12" r="0.42" fill="#dcdcdc"/>
<circle cx="319.97" cy="357.88" r="0.42" fill="#dcdcdc"/>
<circle cx="317.65" cy="361.77" r="0.42" fill="#dcdcdc"/>
<circle cx="299.98" cy="365.38" r="0.42" fill="#dcdcdc"/>
<circle cx="348.23" cy="353.31" r="0.42" fill="#dcdcdc"/>
<circle cx="321.65" cy="366.07" r="0.42" fill="#dcdcdc"/>
<circle cx="327.99" cy="377.4" r="0.42" fill="#dcdcdc"/>
<circle cx="301.12" cy="367.64" r="0.42" fill="#dcdcdc"/>
<circle cx="305.73" cy="354.63" r="0.42" fill="#dcdcdc"/>
<circle cx="350.06" cy="369.63" r="0.42" fill="#dcdcdc"/>
<circle cx="354.22" cy="381.32" r="0.42" fill="#dcdcdc"/>
<circle cx="360.25" cy="386.78" r="0.42" fill="#dcdcdc"/>
<circle cx="353.63" cy="366.15" r="0.42" fill="#dcdcdc"/>
<circle cx="312.81" cy="385.19" r="0.42" fill="#dcdcdc"/>
<circle cx="300.08" cy="356.1" r="0.42" fill="#dcdcdc"/>
<circle cx="306.27" cy="364.91" r="0.42" fill="#dcdcdc"/>
<circle cx="325.53" cy="379.43" r="0.42" fill="#dcdcdc"/>
<circle cx="331.48" cy="359.88" r="0.42" fill="#dcdcdc"/>
<circle cx="303.79" cy="347.73" r="0.42" fill="#dcdcdc"/>
<circle cx="343.56" cy="382.66" r="0.42" fill="#dcdcdc"/>
<circle cx="326.83" cy="372.82" r="0.42" fill="#dcdcdc"/>
<circle cx="314.44" cy="369.59" r="0.42" fill="#dcdcdc"/>
<circle cx="356.54" cy="391.18" r="0.42" fill="#dcdcdc"/>
<circle cx="357.3" cy="369.93" r="0.42" fill="#dcdcdc"/>
<circle cx="331.17" cy="356.25" r="0.42" fill="#dcdcdc"/>
<circle cx="354.82" cy="364.95" r="0.42" fill="#dcdcdc"/>
<circle cx="318.18" cy="385.96" r="0.42" fill="#dcdcdc"/>
<circle cx="322.06" cy="369.76" r="0.42" fill="#dcdcdc"/>
<circle cx="328.79" cy="375.89" r="0.42" fill="#dcdcdc"/>
<circle cx="298.9" cy="390.85" r="0.42" fill="#dcdcdc"/>
<circle cx="320" cy="373.59" r="0.42" fill="#dcdcdc"/>
<circle cx="349.25" cy="373.61" r="0.42" fill="#dcdcdc"/>
<circle cx="360.14" cy="386.62" r="0.42" fill="#dcdcdc"/>
<circle cx="304.05" cy="389.77" r="0.42" fill="#dcdcdc"/>
<circle cx="339.23" cy="373" r="0.42" fill="#dcdcdc"/>
<circle cx="315.24" cy="339.01" r="0.42" fill="#dcdcdc"/>
<circle cx="351.07" cy="362.97" r="0.42" fill="#dcdcdc"/>
<circle cx="325.81" cy="358.83" r="0.42" fill="#dcdcdc"/>
<circle cx="355.81" cy="380.45" r="0.42" fill="#dcdcdc"/>
<circle cx="306.22" cy="381.37" r="0.42" fill="#dcdcdc"/>
<circle cx="299.12" cy="369.08" r="0.42" fill="#dcdcdc"/>
<circle cx="327.44" cy="358.83" r="0.42" fill="#dcdcdc"/>
<circle cx="297.27" cy="366.21" r="0.42" fill="#dcdcdc"/>
<circle cx="331.57" cy="386.52" r="0.42" fill="#dcdcdc"/>
<circle cx="332.61" cy="348.04" r="0.42" fill="#dcdcdc"/>
<circle cx="340.13" cy="364.7" r="0.42" fill="#dcdcdc"/>
<circle cx="316.41" cy="361.3" r="0.42" fill="#dcdcdc"/>
<circle cx="335.36" cy="372.45" r="0.42" fill="#dcdcdc"/>
<circle cx="317.88" cy="343.66" r="0.42" fill="#dcdcdc"/>
<circle cx="325.59" cy="352.33" r="0.42" fill="#dcdcdc"/>
<circle cx="349.25" cy="374.83" r="0.42" fill="#dcdcdc"/>
<circle cx="342.28" cy="385.53" r="0.42" fill="#dcdcdc"/>
<circle cx="334.62" cy="379.66" r="0.42" fill="#dcdcdc"/>
<circle cx="328.83" cy="371.86" r="0.42" fill="#dcdcdc"/>
<circle cx="303.67" cy="381.89" r="0.42" fill="#dcdcdc"/>
<circle cx="343.43" cy="382.66" r="0.42" fill="#dcdcdc"/>
<circle cx="342.49" cy="381.63" r="0.42" fill="#dcdcdc"/>
<circle cx="340.42" cy="346.57" r="0.42" fill="#dcdcdc"/>
<circle cx="354.82" cy="372.98" r="0.42" fill="#dcdcdc"/>
<circle cx="320.72" cy="391.55" r="0.42" fill="#dcdcdc"/>
<circle cx="305.55" cy="364.98" r="0.42" fill="#dcdcdc"/>
<circle cx="331.17" cy="384.17" r="0.42" fill="#dcdcdc"/>
<circle cx="318.47" cy="367.45" r="0.42" fill="#dcdcdc"/>
<circle cx="351.14" cy="379.48" r="0.42" fill="#dcdcdc"/>
<circle cx="349.12" cy="382.23" r="0.42" fill="#dcdcdc"/>
<circle cx="306.26" cy="371.49" r="0.42" fill="#dcdcdc"/>
<circle cx="298.06" cy="388.48" r="0.42" fill="#dcdcdc"/>
<circle cx="314.7" cy="335.81" r="0.42" fill="#dcdcdc"/>
<circle cx="343.8" cy="355.97" r="0.42" fill="#dcdcdc"/>
<circle cx="333.03" cy="380.52" r="0.42" fill="#dcdcdc"/>
<circle cx="330.94" cy="351.84" r="0.42" fill="#dcdcdc"/>
<circle cx="309.75" cy="391.05" r="0.42" fill="#dcdcdc"/>
<circle cx="317.7" cy="382.87" r="0.42" fill="#dcdcdc"/>
<circle cx="298.4" cy="368.19" r="0.42" fill="#dcdcdc"/>
<circle cx="342.52" cy="390.63" r="0.42" fill="#dcdcdc"/>
<circle cx="322.47" cy="389.04" r="0.42" fill="#dcdcdc"/>
<circle cx="354.79" cy="391.78" r="0.42" fill="#dcdcdc"/>
<circle cx="333.63" cy="356.69" r="0.42" fill="#dcdcdc"/>
<circle cx="329.42" cy="368.28" r="0.42" fill="#dcdcdc"/>
<circle cx="349.88" cy="348.09" r="0.42" fill="#dcdcdc"/>
<circle cx="324.38" cy="357.15" r="0.42" fill="#dcdcdc"/>
<circle cx="358.76" cy="346.55" r="0.42" fill="#dcdcdc"/>
<circle cx="345.76" cy="384.33" r="0.42" fill="#dcdcdc"/>
<circle cx="331.41" cy="391.02" r="0.42" fill="#dcdcdc"/>
<circle cx="332.63" cy="367.46" r="0.42" fill="#dcdcdc"/>
<circle cx="344.89" cy="358.52" r="0.42" fill="#dcdcdc"/>
<circle cx="347.51" cy="388.41" r="0.42" fill="#dcdcdc"/>
<circle cx="336.02" cy="380.49" r="0.42" fill="#dcdcdc"/>
<circle cx="338.17" cy="334.74" r="0.42" fill="#dcdcdc"/>
<circle cx="335.59" cy="388.24" r="0.42" fill="#dcdcdc"/>
<circle cx="301.33" cy="375.76" r="0.42" fill="#dcdcdc"/>
<circle cx="317.75" cy="381.87" r="0.42" fill="#dcdcdc"/>
<circle cx="301.12" cy="380.79" r="0.42" fill="#dcdcdc"/>
<circle cx="337.69" cy="350.26" r="0.42" fill="#dcdcdc"/>
<circle cx="329.89" cy="374.39" r="0.42" fill="#dcdcdc"/>
<circle cx="306.13" cy="363.42" r="0.42" fill="#dcdcdc"/>
<circle cx="345.9" cy="365.06" r="0.42" fill="#dcdcdc"/>
<circle cx="354.12" cy="357.72" r="0.42" fill="#dcdcdc"/>
<circle cx="301.61" cy="366.46" r="0.42" fill="#dcdcdc"/>
<circle cx="360.32" cy="352.92" r="0.42" fill="#dcdcdc"/>
<circle cx="352.58" cy="370.36" r="0.42" fill="#dcdcdc"/>
<circle cx="314.48" cy="384.8" r="0.42" fill="#dcdcdc"/>
<circle cx="326.1" cy="389.02" r="0.42" fill="#dcdcdc"/>
<circle cx="295.49" cy="370.12" r="0.42" fill="#dcdcdc"/>
<circle cx="347.51" cy="377.99" r="0.42" fill="#dcdcdc"/>
<circle cx="329.72" cy="345.48" r="0.42" fill="#dcdcdc"/>
<circle cx="356.51" cy="346.97" r="0.42" fill="#dcdcdc"/>
<circle cx="331.24" cy="350.59" r="0.42" fill="#dcdcdc"/>
<circle cx="328.26" cy="360.99" r="0.42" fill="#dcdcdc"/>
<circle cx="305.35" cy="355.88" r="0.42" fill="#dcdcdc"/>
<circle cx="327.1" cy="381.42" r="0.42" fill="#dcdcdc"/>
<circle cx="318.86" cy="382" r="0.42" fill="#dcdcdc"/>
<g transform="translate(295 327.8)" filter="url(#seg)">
<path d="M0 0 L18.5 0 C19 3 18 6 17.5 8 C17 11 16 13 15 14 C13.5 16 12 17.5 11.5 19 C9 21 4 21 0 20.5Z" fill="#22b92c"/>
<path d="M28.2 0 L66 0 L66 6 C63 6.5 60 6 58 5 C56 5 54 6 53.4 8 C53.6 12 53 15 52 17 C50 20 47 22.5 45.6 23.5 C43 26 41 28 39 31 C37.5 35 37 39 36 42 C34.5 46 30 48.5 25 48 C22 47.5 20 45 20 42 C19 38 18.5 34 18.5 30 C18 27 18.5 24 20 22.5 C23 21.5 27 22 30 21 C32 19.5 32 17 31 15 C29 12 28 8 28.2 0Z" fill="#22b92c"/>
<path d="M46 25 C50 22.5 58 22.5 62 26 C65 30 65 36 64 40 C62 44 59 46 56 49 C52 52 48 54 44 56 C41 58 38 59 36.8 58 C36 56 38 53 41 50 C43 47 44 45 44.5 43 C43 39 43 30 46 25Z" fill="#22b92c"/>
<path d="M0 26.4 C4 25.5 10 26 12.6 28 C13.5 31 13 35 12.5 37 C14 39 17 40 18.5 42 C19.5 46 18.5 50 16 51.5 C12 52.5 7 51 5 48 C4 45 5 42 4.5 39.5 C2.5 38 1 37.5 0 37Z" fill="#22b92c"/>
<path d="M0 55.5 C3 55 5 57 4.8 60 C4.5 62.5 2 63.5 0 63.2Z" fill="#22b92c"/>
<path d="M20.3 61.3 a2.5 2 0 1 0 5 0 a2.5 2 0 1 0 -5 0Z" fill="#22b92c"/>
<path d="M36.8 60.8 a1.5 2.4 0 1 0 3 0 a1.5 2.4 0 1 0 -3 0Z" fill="#22b92c"/>
<path d="M46.5 60.3 a2 2 0 1 0 4 0 a2 2 0 1 0 -4 0Z" fill="#22b92c"/>
<path d="M54.4 58.9 a2.4 2.4 0 1 0 4.8 0 a2.4 2.4 0 1 0 -4.8 0Z" fill="#22b92c"/>
</g>
<rect x="355.5" y="389.6" width="4.3" height="1" fill="#fff"/>
</g>
</svg>
</body></html>
